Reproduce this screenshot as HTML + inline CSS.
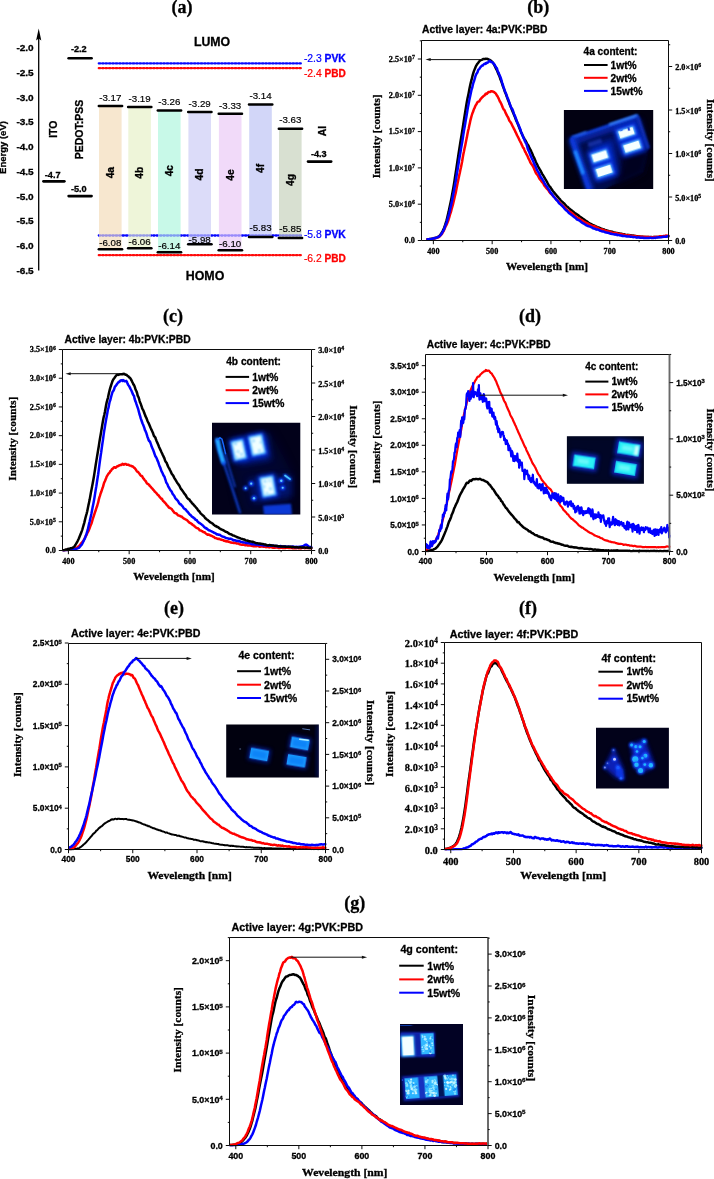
<!DOCTYPE html>
<html><head><meta charset="utf-8"><title>figure</title>
<style>html,body{margin:0;padding:0;background:#fff;}svg{display:block;will-change:transform;}.ss{font-family:"Liberation Sans",sans-serif;font-weight:bold;}.sf{font-family:"Liberation Serif",serif;font-weight:bold;}.ssn{font-family:"Liberation Sans",sans-serif;font-weight:normal;}.sfn{font-family:"Liberation Serif",serif;font-weight:normal;}</style></head><body>
<svg width="714" height="1179" viewBox="0 0 714 1179">
<rect width="714" height="1179" fill="#fff"/>
<defs>
<filter id="bl0_5" x="-50%" y="-50%" width="200%" height="200%"><feGaussianBlur stdDeviation="0.5"/></filter>
<filter id="bl0_8" x="-50%" y="-50%" width="200%" height="200%"><feGaussianBlur stdDeviation="0.8"/></filter>
<filter id="bl1_2" x="-50%" y="-50%" width="200%" height="200%"><feGaussianBlur stdDeviation="1.2"/></filter>
<filter id="bl2" x="-50%" y="-50%" width="200%" height="200%"><feGaussianBlur stdDeviation="2"/></filter>
<filter id="bl3" x="-50%" y="-50%" width="200%" height="200%"><feGaussianBlur stdDeviation="3"/></filter>
<filter id="bl5" x="-50%" y="-50%" width="200%" height="200%"><feGaussianBlur stdDeviation="5"/></filter>
</defs>
<g id="pa">
<text class="sf" x="182" y="13" font-size="18" text-anchor="middle" stroke="#000" stroke-width="0.3">(a)</text>
<line x1="38.7" y1="36" x2="38.7" y2="270.6" stroke="#000" stroke-width="1.3" />
<path d="M38.7 28.4 L36.1 40.4 L38.7 38.6 L41.3 40.4 Z" fill="#000"/>
<text class="ss" x="33.7" y="51.3" font-size="9.7" text-anchor="end" stroke="#000" stroke-width="0.3" textLength="17.3" lengthAdjust="spacingAndGlyphs">-2.0</text>
<text class="ss" x="33.7" y="76" font-size="9.7" text-anchor="end" stroke="#000" stroke-width="0.3" textLength="17.3" lengthAdjust="spacingAndGlyphs">-2.5</text>
<text class="ss" x="33.7" y="100.7" font-size="9.7" text-anchor="end" stroke="#000" stroke-width="0.3" textLength="17.3" lengthAdjust="spacingAndGlyphs">-3.0</text>
<text class="ss" x="33.7" y="125.4" font-size="9.7" text-anchor="end" stroke="#000" stroke-width="0.3" textLength="17.3" lengthAdjust="spacingAndGlyphs">-3.5</text>
<text class="ss" x="33.7" y="150.1" font-size="9.7" text-anchor="end" stroke="#000" stroke-width="0.3" textLength="17.3" lengthAdjust="spacingAndGlyphs">-4.0</text>
<text class="ss" x="33.7" y="174.8" font-size="9.7" text-anchor="end" stroke="#000" stroke-width="0.3" textLength="17.3" lengthAdjust="spacingAndGlyphs">-4.5</text>
<text class="ss" x="33.7" y="199.5" font-size="9.7" text-anchor="end" stroke="#000" stroke-width="0.3" textLength="17.3" lengthAdjust="spacingAndGlyphs">-5.0</text>
<text class="ss" x="33.7" y="224.2" font-size="9.7" text-anchor="end" stroke="#000" stroke-width="0.3" textLength="17.3" lengthAdjust="spacingAndGlyphs">-5.5</text>
<text class="ss" x="33.7" y="248.9" font-size="9.7" text-anchor="end" stroke="#000" stroke-width="0.3" textLength="17.3" lengthAdjust="spacingAndGlyphs">-6.0</text>
<text class="ss" x="33.7" y="273.6" font-size="9.7" text-anchor="end" stroke="#000" stroke-width="0.3" textLength="17.3" lengthAdjust="spacingAndGlyphs">-6.5</text>
<text class="ss" x="6.3" y="147.5" font-size="9.5" text-anchor="middle" stroke="#000" stroke-width="0.3" transform="rotate(-90 6.3 147.5)">Energy (eV)</text>
<rect x="99" y="105.97" width="22.6" height="143.32" fill="#f7e7cf" />
<rect x="128.3" y="106.96" width="22.6" height="141.35" fill="#eef5d9" />
<rect x="158" y="110.41" width="22.6" height="141.84" fill="#c8f9e8" />
<rect x="188.4" y="111.88" width="22.6" height="132.48" fill="#dcdcf9" />
<rect x="218.9" y="113.85" width="22.6" height="136.42" fill="#f1daf9" />
<rect x="249.2" y="104.5" width="22.6" height="132.48" fill="#d2d6f8" />
<rect x="279" y="128.63" width="22.6" height="109.33" fill="#d8e0d1" />
<line x1="98.8" y1="63.4" x2="300.8" y2="63.4" stroke="#0808ff" stroke-width="2.3" stroke-dasharray="1.4 2.0" stroke-linecap="round" opacity="1"/>
<line x1="98.8" y1="68.2" x2="300.8" y2="68.2" stroke="#ff0a0a" stroke-width="2.3" stroke-dasharray="1.4 2.0" stroke-linecap="round" opacity="1"/>
<line x1="98.8" y1="235.5" x2="300.8" y2="235.5" stroke="#0808ff" stroke-width="2.3" stroke-dasharray="1.4 2.0" stroke-linecap="round" opacity="1"/>
<rect x="99" y="233.9" width="22.6" height="3.2" fill="#f7e7cf" opacity="0.62"/>
<rect x="128.3" y="233.9" width="22.6" height="3.2" fill="#eef5d9" opacity="0.62"/>
<rect x="158" y="233.9" width="22.6" height="3.2" fill="#c8f9e8" opacity="0.62"/>
<rect x="188.4" y="233.9" width="22.6" height="3.2" fill="#dcdcf9" opacity="0.62"/>
<rect x="218.9" y="233.9" width="22.6" height="3.2" fill="#f1daf9" opacity="0.62"/>
<rect x="249.2" y="233.9" width="22.6" height="3.2" fill="#d2d6f8" opacity="0.62"/>
<rect x="279" y="233.9" width="22.6" height="3.2" fill="#d8e0d1" opacity="0.62"/>
<line x1="98.8" y1="255.2" x2="300.8" y2="255.2" stroke="#ff0a0a" stroke-width="2.3" stroke-dasharray="1.4 2.0" stroke-linecap="round" opacity="1"/>
<line x1="98.8" y1="105.97" x2="122.1" y2="105.97" stroke="#000" stroke-width="2.5" stroke-linecap="round"/>
<text class="ssn" x="110.3" y="100.67" font-size="9.7" text-anchor="middle" stroke="#000" stroke-width="0.18" textLength="22.2" lengthAdjust="spacingAndGlyphs">-3.17</text>
<line x1="98.8" y1="249.29" x2="122.1" y2="249.29" stroke="#000" stroke-width="2.5" stroke-linecap="round"/>
<text class="ssn" x="110.3" y="245.89" font-size="9.7" text-anchor="middle" stroke="#000" stroke-width="0.18" textLength="22.2" lengthAdjust="spacingAndGlyphs">-6.08</text>
<text class="ss" x="114" y="172.7" font-size="10.2" text-anchor="middle" stroke="#000" stroke-width="0.3" transform="rotate(-90 114 172.7)">4a</text>
<line x1="128.1" y1="106.96" x2="151.4" y2="106.96" stroke="#000" stroke-width="2.5" stroke-linecap="round"/>
<text class="ssn" x="139.6" y="101.66" font-size="9.7" text-anchor="middle" stroke="#000" stroke-width="0.18" textLength="22.2" lengthAdjust="spacingAndGlyphs">-3.19</text>
<line x1="128.1" y1="248.3" x2="151.4" y2="248.3" stroke="#000" stroke-width="2.5" stroke-linecap="round"/>
<text class="ssn" x="139.6" y="244.9" font-size="9.7" text-anchor="middle" stroke="#000" stroke-width="0.18" textLength="22.2" lengthAdjust="spacingAndGlyphs">-6.06</text>
<text class="ss" x="143.3" y="172.7" font-size="10.2" text-anchor="middle" stroke="#000" stroke-width="0.3" transform="rotate(-90 143.3 172.7)">4b</text>
<line x1="157.8" y1="110.41" x2="181.1" y2="110.41" stroke="#000" stroke-width="2.5" stroke-linecap="round"/>
<text class="ssn" x="169.3" y="105.11" font-size="9.7" text-anchor="middle" stroke="#000" stroke-width="0.18" textLength="22.2" lengthAdjust="spacingAndGlyphs">-3.26</text>
<line x1="157.8" y1="252.24" x2="181.1" y2="252.24" stroke="#000" stroke-width="2.5" stroke-linecap="round"/>
<text class="ssn" x="169.3" y="248.84" font-size="9.7" text-anchor="middle" stroke="#000" stroke-width="0.18" textLength="22.2" lengthAdjust="spacingAndGlyphs">-6.14</text>
<text class="ss" x="173" y="170.7" font-size="10.2" text-anchor="middle" stroke="#000" stroke-width="0.3" transform="rotate(-90 173 170.7)">4c</text>
<line x1="188.2" y1="111.88" x2="211.5" y2="111.88" stroke="#000" stroke-width="2.5" stroke-linecap="round"/>
<text class="ssn" x="199.7" y="106.58" font-size="9.7" text-anchor="middle" stroke="#000" stroke-width="0.18" textLength="22.2" lengthAdjust="spacingAndGlyphs">-3.29</text>
<line x1="188.2" y1="244.37" x2="211.5" y2="244.37" stroke="#000" stroke-width="2.5" stroke-linecap="round"/>
<text class="ssn" x="199.7" y="242.97" font-size="9.7" text-anchor="middle" stroke="#000" stroke-width="0.18" textLength="22.2" lengthAdjust="spacingAndGlyphs">-5.98</text>
<text class="ss" x="203.4" y="174.5" font-size="10.2" text-anchor="middle" stroke="#000" stroke-width="0.3" transform="rotate(-90 203.4 174.5)">4d</text>
<line x1="218.7" y1="113.85" x2="242" y2="113.85" stroke="#000" stroke-width="2.5" stroke-linecap="round"/>
<text class="ssn" x="230.2" y="108.55" font-size="9.7" text-anchor="middle" stroke="#000" stroke-width="0.18" textLength="22.2" lengthAdjust="spacingAndGlyphs">-3.33</text>
<line x1="218.7" y1="250.27" x2="242" y2="250.27" stroke="#000" stroke-width="2.5" stroke-linecap="round"/>
<text class="ssn" x="230.2" y="246.87" font-size="9.7" text-anchor="middle" stroke="#000" stroke-width="0.18" textLength="22.2" lengthAdjust="spacingAndGlyphs">-6.10</text>
<text class="ss" x="233.9" y="175" font-size="10.2" text-anchor="middle" stroke="#000" stroke-width="0.3" transform="rotate(-90 233.9 175)">4e</text>
<line x1="249" y1="104.5" x2="272.3" y2="104.5" stroke="#000" stroke-width="2.5" stroke-linecap="round"/>
<text class="ssn" x="260.5" y="99.2" font-size="9.7" text-anchor="middle" stroke="#000" stroke-width="0.18" textLength="22.2" lengthAdjust="spacingAndGlyphs">-3.14</text>
<line x1="249" y1="236.98" x2="272.3" y2="236.98" stroke="#000" stroke-width="2.5" stroke-linecap="round"/>
<text class="ssn" x="260.5" y="231.18" font-size="9.7" text-anchor="middle" stroke="#000" stroke-width="0.18" textLength="22.2" lengthAdjust="spacingAndGlyphs">-5.83</text>
<text class="ss" x="264.2" y="168.4" font-size="10.2" text-anchor="middle" stroke="#000" stroke-width="0.3" transform="rotate(-90 264.2 168.4)">4f</text>
<line x1="278.8" y1="128.63" x2="302.1" y2="128.63" stroke="#000" stroke-width="2.5" stroke-linecap="round"/>
<text class="ssn" x="290.3" y="123.33" font-size="9.7" text-anchor="middle" stroke="#000" stroke-width="0.18" textLength="22.2" lengthAdjust="spacingAndGlyphs">-3.63</text>
<line x1="278.8" y1="237.96" x2="302.1" y2="237.96" stroke="#000" stroke-width="2.5" stroke-linecap="round"/>
<text class="ssn" x="290.3" y="232.16" font-size="9.7" text-anchor="middle" stroke="#000" stroke-width="0.18" textLength="22.2" lengthAdjust="spacingAndGlyphs">-5.85</text>
<text class="ss" x="294" y="180" font-size="10.2" text-anchor="middle" stroke="#000" stroke-width="0.3" transform="rotate(-90 294 180)">4g</text>
<line x1="43.4" y1="181.33" x2="64.4" y2="181.33" stroke="#000" stroke-width="2.6" stroke-linecap="round"/>
<text class="ss" x="52.7" y="177.53" font-size="9.1" text-anchor="middle" stroke="#000" stroke-width="0.3" textLength="15.8" lengthAdjust="spacingAndGlyphs">-4.7</text>
<line x1="68.6" y1="58.2" x2="91.6" y2="58.2" stroke="#000" stroke-width="2.6" stroke-linecap="round"/>
<text class="ss" x="78.8" y="51.8" font-size="9.1" text-anchor="middle" stroke="#000" stroke-width="0.3" textLength="15.8" lengthAdjust="spacingAndGlyphs">-2.2</text>
<line x1="68.6" y1="196.1" x2="91.6" y2="196.1" stroke="#000" stroke-width="2.6" stroke-linecap="round"/>
<text class="ss" x="78.8" y="192.3" font-size="9.1" text-anchor="middle" stroke="#000" stroke-width="0.3" textLength="15.8" lengthAdjust="spacingAndGlyphs">-5.0</text>
<line x1="308" y1="161.62" x2="331.2" y2="161.62" stroke="#000" stroke-width="2.6" stroke-linecap="round"/>
<text class="ss" x="318.8" y="157.12" font-size="9.1" text-anchor="middle" stroke="#000" stroke-width="0.3" textLength="15.8" lengthAdjust="spacingAndGlyphs">-4.3</text>
<text class="ss" x="56.8" y="129.2" font-size="10.5" text-anchor="middle" stroke="#000" stroke-width="0.3" transform="rotate(-90 56.8 129.2)">ITO</text>
<text class="ss" x="82.8" y="129.6" font-size="10.5" text-anchor="middle" stroke="#000" stroke-width="0.3" transform="rotate(-90 82.8 129.6)">PEDOT:PSS</text>
<text class="ss" x="325.8" y="131" font-size="10.5" text-anchor="middle" stroke="#000" stroke-width="0.3" transform="rotate(-90 325.8 131)">Al</text>
<text class="ss" x="212" y="46.2" font-size="12.3" text-anchor="middle" stroke="#000" stroke-width="0.3">LUMO</text>
<text class="ss" x="205" y="280" font-size="12.4" text-anchor="middle" stroke="#000" stroke-width="0.3">HOMO</text>
<text class="ssn" x="303.9" y="62.2" font-size="10.2" fill="#0000ff" stroke="#0000ff" stroke-width="0.18" textLength="17.9" lengthAdjust="spacingAndGlyphs">-2.3</text>
<text class="ss" x="324.5" y="62.2" font-size="10.2" fill="#0000ff" stroke="#0000ff" stroke-width="0.3" textLength="21.3" lengthAdjust="spacingAndGlyphs">PVK</text>
<text class="ssn" x="303.9" y="76.5" font-size="10.2" fill="#ff0000" stroke="#ff0000" stroke-width="0.18" textLength="17.9" lengthAdjust="spacingAndGlyphs">-2.4</text>
<text class="ss" x="324.5" y="76.5" font-size="10.2" fill="#ff0000" stroke="#ff0000" stroke-width="0.3" textLength="21.3" lengthAdjust="spacingAndGlyphs">PBD</text>
<text class="ssn" x="303.9" y="237.6" font-size="10.2" fill="#0000ff" stroke="#0000ff" stroke-width="0.18" textLength="17.9" lengthAdjust="spacingAndGlyphs">-5.8</text>
<text class="ss" x="324.5" y="237.6" font-size="10.2" fill="#0000ff" stroke="#0000ff" stroke-width="0.3" textLength="21.3" lengthAdjust="spacingAndGlyphs">PVK</text>
<text class="ssn" x="303.9" y="261.6" font-size="10.2" fill="#ff0000" stroke="#ff0000" stroke-width="0.18" textLength="17.9" lengthAdjust="spacingAndGlyphs">-6.2</text>
<text class="ss" x="324.5" y="261.6" font-size="10.2" fill="#ff0000" stroke="#ff0000" stroke-width="0.3" textLength="21.3" lengthAdjust="spacingAndGlyphs">PBD</text>
</g>
<g id="pb">
<clipPath id="clb"><rect x="421.5" y="38.5" width="248.2" height="203"/></clipPath>
<g clip-path="url(#clb)">
<path d="M427.5 239.19 L428.08 239.25 L428.67 239.25 L429.26 239.19 L429.85 239.09 L430.43 239.08 L431.02 238.87 L431.61 238.82 L432.2 238.71 L432.79 238.58 L433.37 238.43 L433.96 238.43 L434.55 238.25 L435.14 238.03 L435.73 237.8 L436.31 237.67 L436.9 237.44 L437.49 237.17 L438.08 236.8 L438.66 236.39 L439.25 235.97 L439.84 235.31 L440.43 234.61 L441.02 233.84 L441.6 232.94 L442.19 232 L442.78 230.87 L443.37 229.63 L443.95 228.19 L444.54 226.6 L445.13 224.96 L445.72 223.11 L446.31 221.11 L446.89 218.95 L447.48 216.61 L448.07 214.15 L448.66 211.66 L449.24 208.88 L449.83 205.99 L450.42 203.23 L451.01 200.45 L451.6 197.54 L452.18 194.34 L452.77 190.89 L453.36 187.63 L453.95 184.23 L454.54 180.45 L455.12 176.5 L455.71 172.75 L456.3 168.84 L456.89 164.9 L457.47 161.06 L458.06 157.22 L458.65 153.29 L459.24 149.42 L459.83 145.61 L460.41 141.93 L461 138.36 L461.59 134.85 L462.18 131.25 L462.76 127.66 L463.35 123.73 L463.94 119.97 L464.53 116.3 L465.12 112.54 L465.7 108.91 L466.29 105.27 L466.88 101.77 L467.47 98.61 L468.05 96.01 L468.64 93.14 L469.23 90.04 L469.82 87.03 L470.41 84.2 L470.99 81.79 L471.58 79.68 L472.17 77.2 L472.76 74.85 L473.35 72.91 L473.93 71.12 L474.52 69.62 L475.11 68.18 L475.7 66.79 L476.28 65.58 L476.87 64.58 L477.46 63.75 L478.05 63.02 L478.64 62.2 L479.22 61.49 L479.81 60.78 L480.4 60.28 L480.99 60.07 L481.57 59.88 L482.16 59.61 L482.75 59.24 L483.34 59.08 L483.93 59.02 L484.51 58.93 L485.1 58.91 L485.69 58.8 L486.28 58.88 L486.87 58.8 L487.45 58.95 L488.04 59.21 L488.63 59.59 L489.22 59.66 L489.8 59.84 L490.39 60.37 L490.98 60.72 L491.57 61.2 L492.16 61.92 L492.74 62.42 L493.33 63.18 L493.92 64.34 L494.51 65.4 L495.09 66.7 L495.68 67.89 L496.27 69.2 L496.86 70.19 L497.45 71.53 L498.03 73.06 L498.62 74.52 L499.21 75.67 L499.8 77.19 L500.38 79.18 L500.97 80.48 L501.56 81.96 L502.15 83.88 L502.74 85.73 L503.32 87.18 L503.91 88.88 L504.5 90.64 L505.09 92.27 L505.68 93.6 L506.26 95.13 L506.85 96.85 L507.44 98.39 L508.03 100.02 L508.61 101.38 L509.2 102.91 L509.79 104.48 L510.38 105.91 L510.97 107.23 L511.55 108.67 L512.14 110.17 L512.73 111.68 L513.32 113.12 L513.9 114.49 L514.49 115.93 L515.08 117.37 L515.67 119.03 L516.26 120.66 L516.84 121.65 L517.43 122.86 L518.02 124.53 L518.61 126.15 L519.19 127.62 L519.78 129.03 L520.37 130.47 L520.96 131.96 L521.55 133.29 L522.13 134.55 L522.72 135.67 L523.31 136.84 L523.9 137.93 L524.49 139.04 L525.07 140.01 L525.66 141 L526.25 141.97 L526.84 143.38 L527.42 144.34 L528.01 145.03 L528.6 145.92 L529.19 147.29 L529.78 148.5 L530.36 149.63 L530.95 150.72 L531.54 152.08 L532.13 153.36 L532.71 154.82 L533.3 156.25 L533.89 157.43 L534.48 158.65 L535.07 159.93 L535.65 161.4 L536.24 162.75 L536.83 163.87 L537.42 165.06 L538 166.24 L538.59 167.36 L539.18 168.35 L539.77 169.41 L540.36 170.34 L540.94 171.43 L541.53 172.63 L542.12 173.85 L542.71 174.68 L543.3 175.6 L543.88 176.55 L544.47 177.57 L545.06 178.67 L545.65 179.63 L546.23 180.64 L546.82 181.51 L547.41 182.78 L548 183.92 L548.59 184.84 L549.17 185.7 L549.76 186.5 L550.35 187.14 L550.94 188.19 L551.52 189.14 L552.11 189.8 L552.7 190.73 L553.29 191.57 L553.88 192.15 L554.46 192.89 L555.05 193.68 L555.64 194.29 L556.23 195.02 L556.82 195.65 L557.4 196.37 L557.99 197.02 L558.58 197.84 L559.17 198.56 L559.75 198.97 L560.34 199.77 L560.93 200.48 L561.52 201.11 L562.11 201.67 L562.69 202.2 L563.28 202.76 L563.87 203.26 L564.46 203.77 L565.04 204.52 L565.63 205.25 L566.22 205.81 L566.81 206.34 L567.4 206.88 L567.98 207.25 L568.57 207.82 L569.16 208.36 L569.75 208.88 L570.33 209.49 L570.92 209.93 L571.51 210.26 L572.1 210.73 L572.69 211.24 L573.27 211.62 L573.86 212.26 L574.45 212.71 L575.04 213.18 L575.63 213.7 L576.21 213.82 L576.8 214.28 L577.39 214.78 L577.98 215.01 L578.56 215.46 L579.15 215.97 L579.74 216.46 L580.33 216.89 L580.92 217.37 L581.5 217.68 L582.09 218.13 L582.68 218.52 L583.27 218.87 L583.85 219.35 L584.44 219.81 L585.03 220.27 L585.62 220.73 L586.21 221.02 L586.79 221.34 L587.38 221.78 L587.97 222.22 L588.56 222.72 L589.14 223.14 L589.73 223.45 L590.32 223.61 L590.91 223.92 L591.5 224.19 L592.08 224.61 L592.67 224.91 L593.26 225.13 L593.85 225.35 L594.44 225.67 L595.02 225.95 L595.61 226.23 L596.2 226.52 L596.79 226.84 L597.37 227.04 L597.96 227.28 L598.55 227.5 L599.14 227.73 L599.73 228.02 L600.31 228.24 L600.9 228.46 L601.49 228.62 L602.08 228.84 L602.66 229.13 L603.25 229.23 L603.84 229.38 L604.43 229.78 L605.02 230.02 L605.6 230.18 L606.19 230.28 L606.78 230.35 L607.37 230.61 L607.96 230.84 L608.54 230.96 L609.13 231.13 L609.72 231.22 L610.31 231.36 L610.89 231.51 L611.48 231.69 L612.07 231.67 L612.66 231.89 L613.25 232.11 L613.83 232.31 L614.42 232.52 L615.01 232.66 L615.6 232.76 L616.18 232.89 L616.77 232.98 L617.36 233.12 L617.95 233.17 L618.54 233.27 L619.12 233.45 L619.71 233.5 L620.3 233.64 L620.89 233.7 L621.47 233.81 L622.06 233.94 L622.65 234.15 L623.24 234.2 L623.83 234.22 L624.41 234.45 L625 234.68 L625.59 234.81 L626.18 234.92 L626.77 234.96 L627.35 234.89 L627.94 234.87 L628.53 235.01 L629.12 235.09 L629.7 235.18 L630.29 235.26 L630.88 235.35 L631.47 235.43 L632.06 235.5 L632.64 235.63 L633.23 235.61 L633.82 235.67 L634.41 235.8 L634.99 235.87 L635.58 236.02 L636.17 236.1 L636.76 236.14 L637.35 236.23 L637.93 236.33 L638.52 236.42 L639.11 236.45 L639.7 236.48 L640.28 236.65 L640.87 236.64 L641.46 236.67 L642.05 236.68 L642.64 236.79 L643.22 236.98 L643.81 236.89 L644.4 236.89 L644.99 236.96 L645.58 237 L646.16 236.98 L646.75 237.01 L647.34 236.95 L647.93 236.96 L648.51 236.96 L649.1 237.13 L649.69 237.2 L650.28 237.07 L650.87 237.03 L651.45 237.1 L652.04 237.18 L652.63 237.12 L653.22 237.04 L653.8 237.06 L654.39 237.06 L654.98 237.06 L655.57 237.09 L656.16 237.08 L656.74 237.04 L657.33 236.89 L657.92 236.92 L658.51 236.91 L659.09 236.92 L659.68 236.87 L660.27 236.9 L660.86 236.77 L661.45 236.69 L662.03 236.61 L662.62 236.71 L663.21 236.64 L663.8 236.53 L664.39 236.46 L664.97 236.48 L665.56 236.47 L666.15 236.51 L666.74 236.39 L667.32 236.22 L667.91 236.14 L668.5 236.16" fill="none" stroke="#000" stroke-width="2.5" stroke-linejoin="round" stroke-linecap="round"/>
<path d="M427.5 239.25 L428.08 239.31 L428.67 239.42 L429.26 239.53 L429.85 239.37 L430.43 239.24 L431.02 239.15 L431.61 239.08 L432.2 238.95 L432.79 238.9 L433.37 238.81 L433.96 238.47 L434.55 238.22 L435.14 238.04 L435.73 238.05 L436.31 237.99 L436.9 237.87 L437.49 237.67 L438.08 237.23 L438.66 237.09 L439.25 236.79 L439.84 236.17 L440.43 235.43 L441.02 234.93 L441.6 234.38 L442.19 233.47 L442.78 232.32 L443.37 231.34 L443.95 230.31 L444.54 229.02 L445.13 227.53 L445.72 226.15 L446.31 225.22 L446.89 223.88 L447.48 222.47 L448.07 221.1 L448.66 219.27 L449.24 217.31 L449.83 215.14 L450.42 213.39 L451.01 211.58 L451.6 209.18 L452.18 207.14 L452.77 205.15 L453.36 202.68 L453.95 200.22 L454.54 197.75 L455.12 195.2 L455.71 192.89 L456.3 189.84 L456.89 186.67 L457.47 183.8 L458.06 180.91 L458.65 177.98 L459.24 175.18 L459.83 172.71 L460.41 169.7 L461 167.16 L461.59 164.22 L462.18 161.22 L462.76 157.54 L463.35 154.36 L463.94 151.6 L464.53 148.45 L465.12 145.9 L465.7 142.94 L466.29 140.04 L466.88 137.35 L467.47 134.01 L468.05 130.9 L468.64 128.7 L469.23 125.85 L469.82 123.19 L470.41 120.34 L470.99 118.15 L471.58 116.01 L472.17 113.99 L472.76 112.43 L473.35 111.01 L473.93 109.06 L474.52 108.09 L475.11 106.57 L475.7 105.29 L476.28 104.57 L476.87 103.34 L477.46 102.14 L478.05 101.7 L478.64 101.57 L479.22 101.41 L479.81 100.28 L480.4 99.31 L480.99 98.69 L481.57 98.12 L482.16 97.29 L482.75 96.9 L483.34 96.27 L483.93 95.66 L484.51 95.56 L485.1 94.83 L485.69 93.65 L486.28 93.61 L486.87 93.92 L487.45 93.28 L488.04 92.46 L488.63 91.92 L489.22 91.95 L489.8 92.03 L490.39 91.78 L490.98 91.2 L491.57 91.15 L492.16 91.42 L492.74 91.54 L493.33 91.68 L493.92 91.84 L494.51 92.55 L495.09 92.88 L495.68 93.37 L496.27 94.39 L496.86 95.49 L497.45 96.06 L498.03 97.36 L498.62 98.41 L499.21 99.92 L499.8 101.36 L500.38 102.09 L500.97 103.21 L501.56 104.61 L502.15 105.95 L502.74 107.52 L503.32 108.83 L503.91 109.64 L504.5 110.19 L505.09 111.59 L505.68 113.12 L506.26 114.12 L506.85 115.41 L507.44 116.46 L508.03 117.28 L508.61 118.79 L509.2 120.33 L509.79 121.23 L510.38 121.97 L510.97 122.88 L511.55 123.88 L512.14 125.38 L512.73 126.32 L513.32 127.49 L513.9 128.76 L514.49 129.73 L515.08 131.04 L515.67 132.46 L516.26 133.42 L516.84 134.97 L517.43 136 L518.02 137.04 L518.61 138.22 L519.19 139.64 L519.78 140.76 L520.37 141.81 L520.96 142.85 L521.55 144.37 L522.13 145.51 L522.72 146.81 L523.31 147.95 L523.9 148.37 L524.49 150.09 L525.07 151.66 L525.66 152.39 L526.25 153.86 L526.84 154.82 L527.42 155.87 L528.01 157.38 L528.6 158.63 L529.19 159.76 L529.78 160.94 L530.36 162.42 L530.95 163.49 L531.54 164.2 L532.13 164.96 L532.71 166 L533.3 166.96 L533.89 168.35 L534.48 169.81 L535.07 171.06 L535.65 172.48 L536.24 173.41 L536.83 174.25 L537.42 174.89 L538 175.77 L538.59 177 L539.18 178.13 L539.77 179.18 L540.36 179.79 L540.94 180.46 L541.53 181.36 L542.12 182.29 L542.71 182.63 L543.3 183.55 L543.88 184.78 L544.47 185.78 L545.06 186.54 L545.65 187.21 L546.23 187.96 L546.82 188.6 L547.41 189.21 L548 189.81 L548.59 190.65 L549.17 191.63 L549.76 192.38 L550.35 193.22 L550.94 193.81 L551.52 194.09 L552.11 194.9 L552.7 195.33 L553.29 196.23 L553.88 196.8 L554.46 197.24 L555.05 197.96 L555.64 198.58 L556.23 199.27 L556.82 199.92 L557.4 200.48 L557.99 200.98 L558.58 201.24 L559.17 201.93 L559.75 202.57 L560.34 203.79 L560.93 204.11 L561.52 204.48 L562.11 205.14 L562.69 205.56 L563.28 206.21 L563.87 206.97 L564.46 207.29 L565.04 207.49 L565.63 208.38 L566.22 209.1 L566.81 209.7 L567.4 210.21 L567.98 210.85 L568.57 211.01 L569.16 210.96 L569.75 211.53 L570.33 212.11 L570.92 212.43 L571.51 212.77 L572.1 213.31 L572.69 213.61 L573.27 214.21 L573.86 214.78 L574.45 215.25 L575.04 216.24 L575.63 216.55 L576.21 216.79 L576.8 217.34 L577.39 217.73 L577.98 218.18 L578.56 218.42 L579.15 218.33 L579.74 218.93 L580.33 219.47 L580.92 219.73 L581.5 220.21 L582.09 220.49 L582.68 220.78 L583.27 221.11 L583.85 221.76 L584.44 221.92 L585.03 222.3 L585.62 222.74 L586.21 222.85 L586.79 223.21 L587.38 223.26 L587.97 223.58 L588.56 223.93 L589.14 224.25 L589.73 224.57 L590.32 225.14 L590.91 225.27 L591.5 225.49 L592.08 225.65 L592.67 225.87 L593.26 226.11 L593.85 226.41 L594.44 226.28 L595.02 226.44 L595.61 227.05 L596.2 227.38 L596.79 227.5 L597.37 227.53 L597.96 227.78 L598.55 228.43 L599.14 228.74 L599.73 229 L600.31 229.28 L600.9 229.47 L601.49 229.48 L602.08 229.68 L602.66 229.58 L603.25 229.84 L603.84 230.35 L604.43 230.62 L605.02 230.64 L605.6 230.61 L606.19 231.06 L606.78 231.36 L607.37 231.33 L607.96 231.41 L608.54 231.59 L609.13 231.52 L609.72 231.75 L610.31 232 L610.89 232.28 L611.48 232.37 L612.07 232.59 L612.66 232.91 L613.25 232.88 L613.83 233.1 L614.42 233.15 L615.01 233.23 L615.6 233.02 L616.18 233.19 L616.77 233.32 L617.36 233.51 L617.95 233.98 L618.54 234.23 L619.12 234.07 L619.71 233.96 L620.3 234.09 L620.89 234.13 L621.47 234.29 L622.06 234.64 L622.65 234.53 L623.24 234.43 L623.83 234.86 L624.41 235.17 L625 235.1 L625.59 235.09 L626.18 235.13 L626.77 235.3 L627.35 235.4 L627.94 235.6 L628.53 235.34 L629.12 235.2 L629.7 235.39 L630.29 235.76 L630.88 235.85 L631.47 236.12 L632.06 235.93 L632.64 235.94 L633.23 236.08 L633.82 236.02 L634.41 236.02 L634.99 236.03 L635.58 236.16 L636.17 236.33 L636.76 236.63 L637.35 236.65 L637.93 236.56 L638.52 236.5 L639.11 236.5 L639.7 236.48 L640.28 236.73 L640.87 236.78 L641.46 236.76 L642.05 236.81 L642.64 236.83 L643.22 236.89 L643.81 236.79 L644.4 236.9 L644.99 236.87 L645.58 236.91 L646.16 236.91 L646.75 237.14 L647.34 237.08 L647.93 237.1 L648.51 237.03 L649.1 236.98 L649.69 237.23 L650.28 237.33 L650.87 237.24 L651.45 237.15 L652.04 237.27 L652.63 237.15 L653.22 237.22 L653.8 237.2 L654.39 237.05 L654.98 236.93 L655.57 236.99 L656.16 236.96 L656.74 236.87 L657.33 236.94 L657.92 237.12 L658.51 236.87 L659.09 236.62 L659.68 236.38 L660.27 236.22 L660.86 236.32 L661.45 236.44 L662.03 236.49 L662.62 236.3 L663.21 236.08 L663.8 236.01 L664.39 236.14 L664.97 235.99 L665.56 235.74 L666.15 235.57 L666.74 235.69 L667.32 235.79 L667.91 235.77 L668.5 235.67" fill="none" stroke="#ff0000" stroke-width="2.5" stroke-linejoin="round" stroke-linecap="round"/>
<path d="M427.5 239.3 L428.08 239.32 L428.67 239.35 L429.26 239.09 L429.85 239.22 L430.43 239.12 L431.02 238.92 L431.61 238.96 L432.2 238.9 L432.79 238.71 L433.37 238.37 L433.96 238.08 L434.55 238.17 L435.14 238.18 L435.73 237.92 L436.31 237.79 L436.9 237.52 L437.49 237.2 L438.08 237.08 L438.66 236.78 L439.25 236.43 L439.84 235.87 L440.43 235.24 L441.02 234.62 L441.6 233.73 L442.19 232.73 L442.78 231.73 L443.37 230.67 L443.95 229.42 L444.54 227.92 L445.13 226.32 L445.72 224.66 L446.31 223.52 L446.89 221.6 L447.48 219.48 L448.07 217.32 L448.66 215.32 L449.24 213.26 L449.83 210.72 L450.42 208.06 L451.01 205.47 L451.6 202.75 L452.18 200.15 L452.77 196.7 L453.36 193.64 L453.95 190.89 L454.54 187.66 L455.12 184.47 L455.71 181.22 L456.3 177.48 L456.89 173.7 L457.47 170.32 L458.06 166.79 L458.65 163.08 L459.24 159.31 L459.83 155.7 L460.41 152.51 L461 148.88 L461.59 145.48 L462.18 142.34 L462.76 138.48 L463.35 134.62 L463.94 130.91 L464.53 127.43 L465.12 124.33 L465.7 120.53 L466.29 117.17 L466.88 113.88 L467.47 110.02 L468.05 106.63 L468.64 103.69 L469.23 100.42 L469.82 97.65 L470.41 94.94 L470.99 92.31 L471.58 89.5 L472.17 87.9 L472.76 85.19 L473.35 82.84 L473.93 81.46 L474.52 79.33 L475.11 77.33 L475.7 75.45 L476.28 73.99 L476.87 73.32 L477.46 72.34 L478.05 70.48 L478.64 69.43 L479.22 69.01 L479.81 68.12 L480.4 67.28 L480.99 66.61 L481.57 65.99 L482.16 65.46 L482.75 65.59 L483.34 64.65 L483.93 64.23 L484.51 63.97 L485.1 63.62 L485.69 63.93 L486.28 62.94 L486.87 62.7 L487.45 62.87 L488.04 62.35 L488.63 61.89 L489.22 60.89 L489.8 60.82 L490.39 61.41 L490.98 61.92 L491.57 62.07 L492.16 62.21 L492.74 62.68 L493.33 63.32 L493.92 63.91 L494.51 64.63 L495.09 65.65 L495.68 66.81 L496.27 67.66 L496.86 68.18 L497.45 70.34 L498.03 71.8 L498.62 72.76 L499.21 74.26 L499.8 75.64 L500.38 77.04 L500.97 78.63 L501.56 80.68 L502.15 82.83 L502.74 84.39 L503.32 86.63 L503.91 88.14 L504.5 89.81 L505.09 91.49 L505.68 92.73 L506.26 94.28 L506.85 95.83 L507.44 97.81 L508.03 98.94 L508.61 100.38 L509.2 102.2 L509.79 104.08 L510.38 105.49 L510.97 107.28 L511.55 108.48 L512.14 108.6 L512.73 110.11 L513.32 111.75 L513.9 113.65 L514.49 114.97 L515.08 116.31 L515.67 117.84 L516.26 119.5 L516.84 121.26 L517.43 123.02 L518.02 123.9 L518.61 125.1 L519.19 126.53 L519.78 128.14 L520.37 129.38 L520.96 131.36 L521.55 133.06 L522.13 134.14 L522.72 135.88 L523.31 137.59 L523.9 138.72 L524.49 139.97 L525.07 141.54 L525.66 142.7 L526.25 143.51 L526.84 145.51 L527.42 147.42 L528.01 149.56 L528.6 150.67 L529.19 151.91 L529.78 153.64 L530.36 155.18 L530.95 156.35 L531.54 157.83 L532.13 159.19 L532.71 160.11 L533.3 161.34 L533.89 162.97 L534.48 164.47 L535.07 165.55 L535.65 166.66 L536.24 168.08 L536.83 169.72 L537.42 170.73 L538 171.61 L538.59 172.59 L539.18 173.6 L539.77 174.86 L540.36 176.35 L540.94 177.48 L541.53 178.35 L542.12 178.82 L542.71 179.93 L543.3 180.91 L543.88 181.84 L544.47 183.13 L545.06 184.3 L545.65 185.1 L546.23 185.77 L546.82 186.33 L547.41 187.37 L548 188.59 L548.59 189.21 L549.17 190.05 L549.76 191.2 L550.35 192.08 L550.94 193.05 L551.52 193.56 L552.11 194.42 L552.7 195.44 L553.29 196.1 L553.88 196.69 L554.46 197.5 L555.05 198.12 L555.64 198.86 L556.23 199.82 L556.82 200.36 L557.4 200.67 L557.99 201.66 L558.58 202.6 L559.17 203.23 L559.75 203.91 L560.34 204.18 L560.93 204.73 L561.52 205.25 L562.11 205.85 L562.69 206.5 L563.28 207.04 L563.87 207.77 L564.46 208.57 L565.04 209.21 L565.63 209.81 L566.22 210.44 L566.81 210.53 L567.4 211.38 L567.98 211.92 L568.57 212.63 L569.16 213.26 L569.75 213.49 L570.33 213.93 L570.92 214.39 L571.51 214.83 L572.1 215.44 L572.69 215.81 L573.27 216.25 L573.86 216.85 L574.45 217.3 L575.04 217.63 L575.63 218.11 L576.21 218.7 L576.8 219.41 L577.39 219.53 L577.98 219.78 L578.56 220.22 L579.15 220.48 L579.74 220.67 L580.33 221.24 L580.92 221.7 L581.5 222.28 L582.09 222.71 L582.68 223.03 L583.27 223.39 L583.85 223.66 L584.44 224.05 L585.03 224.38 L585.62 224.88 L586.21 225.25 L586.79 225.44 L587.38 225.73 L587.97 225.97 L588.56 226.22 L589.14 226.38 L589.73 226.4 L590.32 226.58 L590.91 226.97 L591.5 227.32 L592.08 227.49 L592.67 228.12 L593.26 228.46 L593.85 228.39 L594.44 228.55 L595.02 228.8 L595.61 229.09 L596.2 229.52 L596.79 229.63 L597.37 229.48 L597.96 229.68 L598.55 230.02 L599.14 230.07 L599.73 230.55 L600.31 230.78 L600.9 230.89 L601.49 231.22 L602.08 231.36 L602.66 231.47 L603.25 231.6 L603.84 231.62 L604.43 231.85 L605.02 232.25 L605.6 232.39 L606.19 232.42 L606.78 232.6 L607.37 232.81 L607.96 232.81 L608.54 232.91 L609.13 233.17 L609.72 233.29 L610.31 233.68 L610.89 233.83 L611.48 233.74 L612.07 233.96 L612.66 234.13 L613.25 234.19 L613.83 234.29 L614.42 234.38 L615.01 234.64 L615.6 234.55 L616.18 234.29 L616.77 234.74 L617.36 235.14 L617.95 235.01 L618.54 234.99 L619.12 235.05 L619.71 235.31 L620.3 235.48 L620.89 235.38 L621.47 235.59 L622.06 235.92 L622.65 235.84 L623.24 235.89 L623.83 235.92 L624.41 236.08 L625 236.11 L625.59 236.2 L626.18 236.28 L626.77 236.42 L627.35 236.55 L627.94 236.55 L628.53 236.54 L629.12 236.55 L629.7 236.53 L630.29 236.68 L630.88 236.7 L631.47 236.66 L632.06 236.88 L632.64 237.01 L633.23 237.16 L633.82 237.12 L634.41 237.02 L634.99 237.12 L635.58 237.2 L636.17 237.52 L636.76 237.64 L637.35 237.57 L637.93 237.59 L638.52 237.29 L639.11 237.45 L639.7 237.79 L640.28 237.82 L640.87 237.83 L641.46 237.79 L642.05 237.81 L642.64 237.73 L643.22 237.73 L643.81 237.97 L644.4 238.1 L644.99 237.99 L645.58 237.98 L646.16 237.93 L646.75 238 L647.34 237.97 L647.93 238.02 L648.51 238.11 L649.1 238.12 L649.69 237.93 L650.28 237.73 L650.87 237.88 L651.45 238.01 L652.04 237.96 L652.63 238.02 L653.22 238.12 L653.8 237.91 L654.39 237.74 L654.98 237.9 L655.57 237.96 L656.16 237.71 L656.74 237.48 L657.33 237.47 L657.92 237.39 L658.51 237.21 L659.09 237.21 L659.68 237.31 L660.27 237.37 L660.86 237.3 L661.45 237.2 L662.03 237.09 L662.62 237.08 L663.21 236.83 L663.8 236.83 L664.39 236.81 L664.97 236.71 L665.56 236.87 L666.15 236.73 L666.74 236.51 L667.32 236.29 L667.91 236.23 L668.5 236.05" fill="none" stroke="#0000ff" stroke-width="2.5" stroke-linejoin="round" stroke-linecap="round"/>
</g>
<path d="M421.5 40.5 L421.5 240.5 L668.5 240.5 L668.5 40.5 Z" fill="none" stroke="#0c0c0c" stroke-width="1"/>
<line x1="433.37" y1="240.5" x2="433.37" y2="244.2" stroke="#0c0c0c" stroke-width="1" />
<text class="sf" x="433.37" y="254.4" font-size="8.2" text-anchor="middle" stroke="#000" stroke-width="0.3">400</text>
<line x1="492.16" y1="240.5" x2="492.16" y2="244.2" stroke="#0c0c0c" stroke-width="1" />
<text class="sf" x="492.16" y="254.4" font-size="8.2" text-anchor="middle" stroke="#000" stroke-width="0.3">500</text>
<line x1="550.94" y1="240.5" x2="550.94" y2="244.2" stroke="#0c0c0c" stroke-width="1" />
<text class="sf" x="550.94" y="254.4" font-size="8.2" text-anchor="middle" stroke="#000" stroke-width="0.3">600</text>
<line x1="609.72" y1="240.5" x2="609.72" y2="244.2" stroke="#0c0c0c" stroke-width="1" />
<text class="sf" x="609.72" y="254.4" font-size="8.2" text-anchor="middle" stroke="#000" stroke-width="0.3">700</text>
<line x1="668.5" y1="240.5" x2="668.5" y2="244.2" stroke="#0c0c0c" stroke-width="1" />
<text class="sf" x="668.5" y="254.4" font-size="8.2" text-anchor="middle" stroke="#000" stroke-width="0.3">800</text>
<line x1="462.76" y1="240.5" x2="462.76" y2="242.2" stroke="#0c0c0c" stroke-width="1" />
<line x1="521.55" y1="240.5" x2="521.55" y2="242.2" stroke="#0c0c0c" stroke-width="1" />
<line x1="580.33" y1="240.5" x2="580.33" y2="242.2" stroke="#0c0c0c" stroke-width="1" />
<line x1="639.11" y1="240.5" x2="639.11" y2="242.2" stroke="#0c0c0c" stroke-width="1" />
<line x1="421.5" y1="240.5" x2="417.8" y2="240.5" stroke="#0c0c0c" stroke-width="1" />
<text class="sf" x="414.8" y="243.21" font-size="8.2" text-anchor="end" stroke="#000" stroke-width="0.3">0.0</text>
<line x1="421.5" y1="204.2" x2="417.8" y2="204.2" stroke="#0c0c0c" stroke-width="1" />
<text class="sf" x="414.8" y="206.91" font-size="8.2" text-anchor="end" stroke="#000" stroke-width="0.3">5.0×10<tspan dy="-0.44em" font-size="70%">6</tspan></text>
<line x1="421.5" y1="167.9" x2="417.8" y2="167.9" stroke="#0c0c0c" stroke-width="1" />
<text class="sf" x="414.8" y="170.61" font-size="8.2" text-anchor="end" stroke="#000" stroke-width="0.3">1.0×10<tspan dy="-0.44em" font-size="70%">7</tspan></text>
<line x1="421.5" y1="131.6" x2="417.8" y2="131.6" stroke="#0c0c0c" stroke-width="1" />
<text class="sf" x="414.8" y="134.31" font-size="8.2" text-anchor="end" stroke="#000" stroke-width="0.3">1.5×10<tspan dy="-0.44em" font-size="70%">7</tspan></text>
<line x1="421.5" y1="95.3" x2="417.8" y2="95.3" stroke="#0c0c0c" stroke-width="1" />
<text class="sf" x="414.8" y="98.01" font-size="8.2" text-anchor="end" stroke="#000" stroke-width="0.3">2.0×10<tspan dy="-0.44em" font-size="70%">7</tspan></text>
<line x1="421.5" y1="59" x2="417.8" y2="59" stroke="#0c0c0c" stroke-width="1" />
<text class="sf" x="414.8" y="61.71" font-size="8.2" text-anchor="end" stroke="#000" stroke-width="0.3">2.5×10<tspan dy="-0.44em" font-size="70%">7</tspan></text>
<line x1="421.5" y1="222.35" x2="419.8" y2="222.35" stroke="#0c0c0c" stroke-width="1" />
<line x1="421.5" y1="186.05" x2="419.8" y2="186.05" stroke="#0c0c0c" stroke-width="1" />
<line x1="421.5" y1="149.75" x2="419.8" y2="149.75" stroke="#0c0c0c" stroke-width="1" />
<line x1="421.5" y1="113.45" x2="419.8" y2="113.45" stroke="#0c0c0c" stroke-width="1" />
<line x1="421.5" y1="77.15" x2="419.8" y2="77.15" stroke="#0c0c0c" stroke-width="1" />
<line x1="421.5" y1="40.85" x2="419.8" y2="40.85" stroke="#0c0c0c" stroke-width="1" />
<line x1="668.5" y1="240.5" x2="672.2" y2="240.5" stroke="#0c0c0c" stroke-width="1" />
<text class="sf" x="675.2" y="244.01" font-size="8.2" stroke="#000" stroke-width="0.3">0.0</text>
<line x1="668.5" y1="197" x2="672.2" y2="197" stroke="#0c0c0c" stroke-width="1" />
<text class="sf" x="675.2" y="200.51" font-size="8.2" stroke="#000" stroke-width="0.3">5.0×10<tspan dy="-0.44em" font-size="70%">5</tspan></text>
<line x1="668.5" y1="153.5" x2="672.2" y2="153.5" stroke="#0c0c0c" stroke-width="1" />
<text class="sf" x="675.2" y="157.01" font-size="8.2" stroke="#000" stroke-width="0.3">1.0×10<tspan dy="-0.44em" font-size="70%">6</tspan></text>
<line x1="668.5" y1="110" x2="672.2" y2="110" stroke="#0c0c0c" stroke-width="1" />
<text class="sf" x="675.2" y="113.51" font-size="8.2" stroke="#000" stroke-width="0.3">1.5×10<tspan dy="-0.44em" font-size="70%">6</tspan></text>
<line x1="668.5" y1="66.5" x2="672.2" y2="66.5" stroke="#0c0c0c" stroke-width="1" />
<text class="sf" x="675.2" y="70.01" font-size="8.2" stroke="#000" stroke-width="0.3">2.0×10<tspan dy="-0.44em" font-size="70%">6</tspan></text>
<line x1="668.5" y1="218.75" x2="670.2" y2="218.75" stroke="#0c0c0c" stroke-width="1" />
<line x1="668.5" y1="175.25" x2="670.2" y2="175.25" stroke="#0c0c0c" stroke-width="1" />
<line x1="668.5" y1="131.75" x2="670.2" y2="131.75" stroke="#0c0c0c" stroke-width="1" />
<line x1="668.5" y1="88.25" x2="670.2" y2="88.25" stroke="#0c0c0c" stroke-width="1" />
<line x1="668.5" y1="44.75" x2="670.2" y2="44.75" stroke="#0c0c0c" stroke-width="1" />
<text class="ss" x="422" y="33.3" font-size="10.3" stroke="#000" stroke-width="0.3" textLength="125.4" lengthAdjust="spacingAndGlyphs">Active layer: 4a:PVK:PBD</text>
<text class="sf" x="547" y="270" font-size="11" text-anchor="middle" stroke="#000" stroke-width="0.3" textLength="82" lengthAdjust="spacingAndGlyphs">Wevelength [nm]</text>
<text class="sf" x="380" y="136.4" font-size="11.4" text-anchor="middle" stroke="#000" stroke-width="0.3" transform="rotate(-90 380 136.4)" textLength="83.9" lengthAdjust="spacingAndGlyphs">Intensity [counts]</text>
<text class="sf" x="706.6" y="140.4" font-size="11.4" text-anchor="middle" stroke="#000" stroke-width="0.3" transform="rotate(90 706.6 140.4)" textLength="82.8" lengthAdjust="spacingAndGlyphs">Intensity [counts]</text>
<line x1="484" y1="59.6" x2="429.14" y2="59.6" stroke="#111" stroke-width="1" />
<path d="M425.5 59.6 L430.7 58.1 L430.7 61.1 Z" fill="#111"/>
<text class="ss" x="583.5" y="55.4" font-size="10.3" stroke="#000" stroke-width="0.3" textLength="54" lengthAdjust="spacingAndGlyphs">4a content:</text>
<line x1="584" y1="65" x2="607.6" y2="65" stroke="#000" stroke-width="2" />
<text class="ss" x="610.6" y="68.71" font-size="10.3" stroke="#000" stroke-width="0.3" textLength="26.1" lengthAdjust="spacingAndGlyphs">1wt%</text>
<line x1="584" y1="77.8" x2="607.6" y2="77.8" stroke="#f00" stroke-width="2" />
<text class="ss" x="610.6" y="81.51" font-size="10.3" stroke="#000" stroke-width="0.3" textLength="26.1" lengthAdjust="spacingAndGlyphs">2wt%</text>
<line x1="584" y1="90.9" x2="607.6" y2="90.9" stroke="#00f" stroke-width="2" />
<text class="ss" x="610.6" y="94.61" font-size="10.3" stroke="#000" stroke-width="0.3" textLength="32" lengthAdjust="spacingAndGlyphs">15wt%</text>
<text class="sf" x="538.3" y="13.4" font-size="18" text-anchor="middle" stroke="#000" stroke-width="0.3">(b)</text>
</g>
<g id="pc">
<clipPath id="clc"><rect x="62.5" y="347.5" width="250.2" height="204"/></clipPath>
<g clip-path="url(#clc)">
<path d="M62.32 550.26 L62.93 550.3 L63.53 550.39 L64.14 550.48 L64.75 550.32 L65.36 550.19 L65.96 550.11 L66.57 550.05 L67.18 549.93 L67.79 549.89 L68.4 549.82 L69 549.5 L69.61 549.28 L70.22 549.14 L70.83 549.2 L71.43 549.2 L72.04 549.15 L72.65 549.04 L73.26 548.71 L73.87 548.71 L74.47 548.59 L75.08 548.21 L75.69 547.8 L76.3 547.69 L76.9 547.61 L77.51 547.23 L78.12 546.66 L78.73 546.26 L79.34 545.81 L79.94 545.08 L80.55 544.13 L81.16 543.28 L81.77 542.85 L82.37 542.05 L82.98 541.2 L83.59 540.44 L84.2 539.28 L84.8 538.04 L85.41 536.65 L86.02 535.73 L86.63 534.78 L87.24 533.28 L87.84 532.13 L88.45 531.05 L89.06 529.48 L89.67 527.94 L90.27 526.39 L90.88 524.79 L91.49 523.45 L92.1 521.39 L92.71 519.23 L93.31 517.37 L93.92 515.5 L94.53 513.57 L95.14 511.76 L95.74 510.25 L96.35 508.17 L96.96 506.55 L97.57 504.51 L98.18 502.44 L98.78 499.68 L99.39 497.45 L100 495.68 L100.61 493.53 L101.21 492.03 L101.82 490.12 L102.43 488.27 L103.04 486.65 L103.65 484.39 L104.25 482.39 L104.86 481.37 L105.47 479.71 L106.08 478.27 L106.68 476.65 L107.29 475.68 L107.9 474.68 L108.51 473.7 L109.12 473.06 L109.72 472.43 L110.33 471.16 L110.94 470.8 L111.55 469.82 L112.15 469.02 L112.76 468.77 L113.37 467.98 L113.98 467.22 L114.59 467.22 L115.19 467.53 L115.8 467.8 L116.41 467.06 L117.02 466.46 L117.62 466.21 L118.23 465.99 L118.84 465.49 L119.45 465.42 L120.06 465.11 L120.66 464.81 L121.27 465.03 L121.88 464.62 L122.49 463.77 L123.09 464.08 L123.7 464.76 L124.31 464.48 L124.92 464.04 L125.52 463.88 L126.13 464.3 L126.74 464.75 L127.35 464.84 L127.96 464.58 L128.56 464.79 L129.17 465.26 L129.78 465.49 L130.39 465.63 L130.99 465.7 L131.6 466.2 L132.21 466.25 L132.82 466.41 L133.43 467.07 L134.03 467.79 L134.64 467.98 L135.25 468.89 L135.86 469.52 L136.46 470.57 L137.07 471.52 L137.68 471.69 L138.29 472.22 L138.9 473.03 L139.5 473.77 L140.11 474.76 L140.72 475.55 L141.33 475.87 L141.93 475.98 L142.54 476.98 L143.15 478.13 L143.76 478.78 L144.37 479.73 L144.97 480.43 L145.58 480.9 L146.19 482.04 L146.8 483.18 L147.4 483.67 L148.01 483.99 L148.62 484.46 L149.23 485 L149.84 486.02 L150.44 486.49 L151.05 487.16 L151.66 487.93 L152.27 488.39 L152.87 489.19 L153.48 490.1 L154.09 490.54 L154.7 491.56 L155.31 492.08 L155.91 492.59 L156.52 493.25 L157.13 494.14 L157.74 494.73 L158.34 495.27 L158.95 495.81 L159.56 496.82 L160.17 497.46 L160.78 498.27 L161.38 498.91 L161.99 498.85 L162.6 500.07 L163.21 501.14 L163.81 501.38 L164.42 502.34 L165.03 502.8 L165.64 503.33 L166.24 504.32 L166.85 505.04 L167.46 505.64 L168.07 506.29 L168.68 507.23 L169.28 507.76 L169.89 507.93 L170.5 508.16 L171.11 508.65 L171.71 509.07 L172.32 509.92 L172.93 510.84 L173.54 511.55 L174.15 512.44 L174.75 512.85 L175.36 513.17 L175.97 513.3 L176.58 513.67 L177.18 514.39 L177.79 515 L178.4 515.53 L179.01 515.62 L179.62 515.77 L180.22 516.16 L180.83 516.57 L181.44 516.42 L182.05 516.85 L182.65 517.62 L183.26 518.18 L183.87 518.51 L184.48 518.79 L185.09 519.17 L185.69 519.48 L186.3 519.77 L186.91 520.1 L187.52 520.67 L188.12 521.42 L188.73 521.94 L189.34 522.57 L189.95 522.95 L190.56 523.04 L191.16 523.66 L191.77 523.91 L192.38 524.65 L192.99 525.07 L193.59 525.37 L194.2 525.95 L194.81 526.43 L195.42 526.99 L196.03 527.49 L196.63 527.9 L197.24 528.24 L197.85 528.34 L198.46 528.84 L199.06 529.28 L199.67 530.28 L200.28 530.38 L200.89 530.53 L201.5 530.95 L202.1 531.13 L202.71 531.56 L203.32 532.08 L203.93 532.19 L204.53 532.18 L205.14 532.87 L205.75 533.41 L206.36 533.83 L206.96 534.18 L207.57 534.66 L208.18 534.67 L208.79 534.48 L209.4 534.9 L210 535.33 L210.61 535.5 L211.22 535.68 L211.83 536.05 L212.43 536.18 L213.04 536.59 L213.65 536.97 L214.26 537.24 L214.87 538.01 L215.47 538.11 L216.08 538.15 L216.69 538.49 L217.3 538.67 L217.9 538.92 L218.51 538.96 L219.12 538.69 L219.73 539.1 L220.34 539.45 L220.94 539.54 L221.55 539.85 L222.16 539.96 L222.77 540.09 L223.37 540.25 L223.98 540.75 L224.59 540.75 L225.2 540.98 L225.81 541.27 L226.41 541.23 L227.02 541.45 L227.63 541.36 L228.24 541.55 L228.84 541.76 L229.45 541.96 L230.06 542.15 L230.67 542.59 L231.28 542.6 L231.88 542.69 L232.49 542.73 L233.1 542.82 L233.71 542.93 L234.31 543.11 L234.92 542.85 L235.53 542.89 L236.14 543.36 L236.75 543.56 L237.35 543.57 L237.96 543.48 L238.57 543.6 L239.18 544.13 L239.78 544.32 L240.39 544.47 L241 544.63 L241.61 544.71 L242.22 544.61 L242.82 544.7 L243.43 544.5 L244.04 544.65 L244.65 545.06 L245.25 545.22 L245.86 545.14 L246.47 545.02 L247.08 545.37 L247.69 545.58 L248.29 545.45 L248.9 545.44 L249.51 545.53 L250.12 545.39 L250.72 545.53 L251.33 545.69 L251.94 545.89 L252.55 545.9 L253.15 546.04 L253.76 546.28 L254.37 546.16 L254.98 546.3 L255.59 546.27 L256.19 546.27 L256.8 545.97 L257.41 546.07 L258.02 546.12 L258.62 546.23 L259.23 546.63 L259.84 546.82 L260.45 546.58 L261.06 546.4 L261.66 546.46 L262.27 546.44 L262.88 546.54 L263.49 546.83 L264.09 546.67 L264.7 546.51 L265.31 546.9 L265.92 547.17 L266.53 547.05 L267.13 547.01 L267.74 547.01 L268.35 547.15 L268.96 547.22 L269.56 547.4 L270.17 547.1 L270.78 546.93 L271.39 547.11 L272 547.46 L272.6 547.53 L273.21 547.79 L273.82 547.56 L274.43 547.54 L275.03 547.66 L275.64 547.57 L276.25 547.55 L276.86 547.52 L277.47 547.62 L278.07 547.77 L278.68 548.04 L279.29 548.03 L279.9 547.9 L280.5 547.8 L281.11 547.76 L281.72 547.7 L282.33 547.93 L282.94 547.94 L283.54 547.88 L284.15 547.9 L284.76 547.88 L285.37 547.91 L285.97 547.78 L286.58 547.87 L287.19 547.81 L287.8 547.84 L288.41 547.82 L289.01 548.05 L289.62 547.98 L290.23 548 L290.84 547.92 L291.44 547.87 L292.05 548.14 L292.66 548.26 L293.27 548.18 L293.87 548.1 L294.48 548.24 L295.09 548.14 L295.7 548.23 L296.31 548.24 L296.91 548.11 L297.52 548.03 L298.13 548.13 L298.74 548.14 L299.34 548.09 L299.95 548.2 L300.56 548.43 L301.17 548.22 L301.78 548.02 L302.38 547.84 L302.99 547.73 L303.6 547.9 L304.21 548.08 L304.81 548.19 L305.42 548.07 L306.03 547.92 L306.64 547.92 L307.25 548.13 L307.85 548.06 L308.46 547.89 L309.07 547.8 L309.68 548 L310.28 548.17 L310.89 548.21 L311.5 548.16" fill="none" stroke="#ff0000" stroke-width="2.5" stroke-linejoin="round" stroke-linecap="round"/>
<path d="M62.32 550.49 L62.93 550.5 L63.53 550.5 L64.14 550.27 L64.75 550.44 L65.36 550.35 L65.96 550.16 L66.57 550.25 L67.18 550.24 L67.79 550.09 L68.4 549.78 L69 549.54 L69.61 549.74 L70.22 549.86 L70.83 549.69 L71.43 549.68 L72.04 549.55 L72.65 549.38 L73.26 549.47 L73.87 549.4 L74.47 549.35 L75.08 549.15 L75.69 548.96 L76.3 548.9 L76.9 548.65 L77.51 548.37 L78.12 548.15 L78.73 547.9 L79.34 547.47 L79.94 546.77 L80.55 545.97 L81.16 545.07 L81.77 544.7 L82.37 543.54 L82.98 542.21 L83.59 540.87 L84.2 539.74 L84.8 538.59 L85.41 536.95 L86.02 535.17 L86.63 533.39 L87.24 531.37 L87.84 529.39 L88.45 526.42 L89.06 523.79 L89.67 521.48 L90.27 518.69 L90.88 515.98 L91.49 513.26 L92.1 510.04 L92.71 506.77 L93.31 503.9 L93.92 500.73 L94.53 497.2 L95.14 493.42 L95.74 489.62 L96.35 486.14 L96.96 481.99 L97.57 477.99 L98.18 474.22 L98.78 469.55 L99.39 464.84 L100 460.29 L100.61 456 L101.21 452.17 L101.82 447.51 L102.43 443.38 L103.04 439.38 L103.65 434.71 L104.25 430.64 L104.86 427.13 L105.47 423.18 L106.08 419.8 L106.68 416.45 L107.29 413.16 L107.9 409.64 L108.51 407.65 L109.12 404.35 L109.72 401.54 L110.33 400.02 L110.94 397.57 L111.55 395.28 L112.15 393.13 L112.76 391.49 L113.37 390.8 L113.98 389.73 L114.59 387.55 L115.19 386.36 L115.8 385.98 L116.41 384.96 L117.02 383.99 L117.62 383.2 L118.23 382.45 L118.84 381.8 L119.45 382 L120.06 380.89 L120.66 380.47 L121.27 380.34 L121.88 380.17 L122.49 380.92 L123.09 380.12 L123.7 380.35 L124.31 381.17 L124.92 381.2 L125.52 381.34 L126.13 380.86 L126.74 381.56 L127.35 383.08 L127.96 384.48 L128.56 385.38 L129.17 386.21 L129.78 387.36 L130.39 388.64 L130.99 389.76 L131.6 390.96 L132.21 392.46 L132.82 394.09 L133.43 395.29 L134.03 396.09 L134.64 398.9 L135.25 400.86 L135.86 402.19 L136.46 404.15 L137.07 405.9 L137.68 407.62 L138.29 409.48 L138.9 411.84 L139.5 414.27 L140.11 415.95 L140.72 418.42 L141.33 420 L141.93 421.76 L142.54 423.53 L143.15 424.77 L143.76 426.37 L144.37 427.97 L144.97 430.1 L145.58 431.2 L146.19 432.68 L146.8 434.63 L147.4 436.67 L148.01 438.15 L148.62 440.08 L149.23 441.31 L149.84 441.24 L150.44 442.83 L151.05 444.56 L151.66 446.6 L152.27 447.93 L152.87 449.27 L153.48 450.82 L154.09 452.52 L154.7 454.32 L155.31 456.12 L155.91 456.88 L156.52 458.03 L157.13 459.44 L157.74 461.08 L158.34 462.31 L158.95 464.41 L159.56 466.2 L160.17 467.26 L160.78 469.11 L161.38 470.92 L161.99 472.03 L162.6 473.27 L163.21 474.85 L163.81 475.93 L164.42 476.58 L165.03 478.58 L165.64 480.44 L166.24 482.53 L166.85 483.41 L167.46 484.4 L168.07 485.94 L168.68 487.24 L169.28 488.1 L169.89 489.3 L170.5 490.35 L171.11 490.88 L171.71 491.78 L172.32 493.12 L172.93 494.31 L173.54 495.02 L174.15 495.78 L174.75 496.9 L175.36 498.27 L175.97 498.94 L176.58 499.44 L177.18 500.08 L177.79 500.76 L178.4 501.72 L179.01 502.95 L179.62 503.77 L180.22 504.29 L180.83 504.35 L181.44 505.15 L182.05 505.81 L182.65 506.42 L183.26 507.46 L183.87 508.38 L184.48 508.88 L185.09 509.24 L185.69 509.49 L186.3 510.32 L186.91 511.37 L187.52 511.71 L188.12 512.32 L188.73 513.31 L189.34 513.97 L189.95 514.74 L190.56 514.98 L191.16 515.64 L191.77 516.47 L192.38 516.89 L192.99 517.25 L193.59 517.86 L194.2 518.27 L194.81 518.81 L195.42 519.64 L196.03 519.98 L196.63 520.06 L197.24 520.97 L197.85 521.82 L198.46 522.32 L199.06 522.9 L199.67 523.01 L200.28 523.44 L200.89 523.85 L201.5 524.36 L202.1 524.92 L202.71 525.35 L203.32 526.01 L203.93 526.73 L204.53 527.26 L205.14 527.74 L205.75 528.25 L206.36 528.11 L206.96 528.85 L207.57 529.24 L208.18 529.82 L208.79 530.3 L209.4 530.31 L210 530.57 L210.61 530.86 L211.22 531.13 L211.83 531.59 L212.43 531.78 L213.04 532.06 L213.65 532.54 L214.26 532.83 L214.87 532.99 L215.47 533.31 L216.08 533.78 L216.69 534.4 L217.3 534.32 L217.9 534.38 L218.51 534.69 L219.12 534.78 L219.73 534.8 L220.34 535.26 L220.94 535.61 L221.55 536.1 L222.16 536.41 L222.77 536.6 L223.37 536.84 L223.98 536.95 L224.59 537.24 L225.2 537.45 L225.81 537.87 L226.41 538.13 L227.02 538.19 L227.63 538.38 L228.24 538.53 L228.84 538.67 L229.45 538.73 L230.06 538.62 L230.67 538.7 L231.28 539.05 L231.88 539.36 L232.49 539.44 L233.1 540.09 L233.71 540.39 L234.31 540.18 L234.92 540.26 L235.53 540.44 L236.14 540.68 L236.75 541.1 L237.35 541.12 L237.96 540.82 L238.57 540.97 L239.18 541.28 L239.78 541.23 L240.39 541.72 L241 541.9 L241.61 541.94 L242.22 542.25 L242.82 542.33 L243.43 542.37 L244.04 542.45 L244.65 542.38 L245.25 542.58 L245.86 542.99 L246.47 543.08 L247.08 543.04 L247.69 543.18 L248.29 543.36 L248.9 543.28 L249.51 543.33 L250.12 543.58 L250.72 543.65 L251.33 544.07 L251.94 544.18 L252.55 544 L253.15 544.2 L253.76 544.35 L254.37 544.35 L254.98 544.4 L255.59 544.44 L256.19 544.7 L256.8 544.51 L257.41 544.11 L258.02 544.61 L258.62 545.04 L259.23 544.81 L259.84 544.71 L260.45 544.71 L261.06 544.97 L261.66 545.12 L262.27 544.93 L262.88 545.12 L263.49 545.48 L264.09 545.31 L264.7 545.31 L265.31 545.28 L265.92 545.43 L266.53 545.4 L267.13 545.46 L267.74 545.51 L268.35 545.65 L268.96 545.76 L269.56 545.72 L270.17 545.65 L270.78 545.64 L271.39 545.56 L272 545.71 L272.6 545.7 L273.21 545.61 L273.82 545.86 L274.43 545.99 L275.03 546.15 L275.64 546.06 L276.25 545.88 L276.86 545.97 L277.47 546.03 L278.07 546.41 L278.68 546.54 L279.29 546.4 L279.9 546.4 L280.5 545.96 L281.11 546.13 L281.72 546.56 L282.33 546.57 L282.94 546.56 L283.54 546.48 L284.15 546.48 L284.76 546.35 L285.37 546.33 L285.97 546.64 L286.58 546.81 L287.19 546.66 L287.8 546.64 L288.41 546.57 L289.01 546.68 L289.62 546.65 L290.23 546.73 L290.84 546.87 L291.44 546.9 L292.05 546.67 L292.66 546.45 L293.27 546.68 L293.87 546.9 L294.48 546.87 L295.09 547 L295.7 547.18 L296.31 546.96 L296.91 546.8 L297.52 547.07 L298.13 547.22 L298.74 546.95 L299.34 546.71 L299.95 546.75 L300.56 546.67 L301.17 546.43 L301.78 546.37 L302.38 546.37 L302.99 546.23 L303.6 545.85 L304.21 545.4 L304.81 544.97 L305.42 544.83 L306.03 544.56 L306.64 544.86 L307.25 545.29 L307.85 545.71 L308.46 546.46 L309.07 546.79 L309.68 546.93 L310.28 547 L310.89 547.2 L311.5 547.16" fill="none" stroke="#0000ff" stroke-width="2.5" stroke-linejoin="round" stroke-linecap="round"/>
<path d="M62.32 550.28 L62.93 550.34 L63.53 550.29 L64.14 550.13 L64.75 549.9 L65.36 549.86 L65.96 549.48 L66.57 549.4 L67.18 549.23 L67.79 549.02 L68.4 548.83 L69 548.93 L69.61 548.72 L70.22 548.46 L70.83 548.22 L71.43 548.21 L72.04 548.02 L72.65 547.78 L73.26 547.35 L73.87 546.87 L74.47 546.37 L75.08 545.41 L75.69 544.46 L76.3 543.46 L76.9 542.35 L77.51 541.29 L78.12 540.03 L78.73 538.74 L79.34 537.25 L79.94 535.72 L80.55 534.34 L81.16 532.76 L81.77 531.08 L82.37 529.27 L82.98 527.26 L83.59 525.14 L84.2 523.09 L84.8 520.6 L85.41 518.01 L86.02 515.78 L86.63 513.6 L87.24 511.21 L87.84 508.36 L88.45 505.12 L89.06 502.41 L89.67 499.6 L90.27 496.23 L90.88 492.71 L91.49 489.74 L92.1 486.5 L92.71 483.18 L93.31 479.92 L93.92 476.5 L94.53 472.66 L95.14 468.75 L95.74 464.74 L96.35 460.83 L96.96 457.09 L97.57 453.44 L98.18 449.72 L98.78 446.17 L99.39 442.07 L100 438.44 L100.61 435.02 L101.21 431.35 L101.82 427.83 L102.43 424.07 L103.04 420.4 L103.65 417.2 L104.25 414.97 L104.86 412.09 L105.47 408.66 L106.08 405.34 L106.68 402.29 L107.29 399.96 L107.9 398.02 L108.51 395.11 L109.12 392.19 L109.72 389.85 L110.33 387.6 L110.94 385.76 L111.55 383.9 L112.15 382.05 L112.76 380.51 L113.37 379.35 L113.98 378.47 L114.59 377.76 L115.19 376.78 L115.8 376.02 L116.41 375.19 L117.02 374.77 L117.62 374.85 L118.23 374.92 L118.84 374.75 L119.45 374.31 L120.06 374.26 L120.66 374.35 L121.27 374.32 L121.88 374.35 L122.49 374.11 L123.09 374.16 L123.7 373.83 L124.31 373.95 L124.92 374.27 L125.52 374.84 L126.13 374.79 L126.74 374.96 L127.35 375.75 L127.96 376.11 L128.56 376.59 L129.17 377.43 L129.78 377.65 L130.39 378.26 L130.99 379.52 L131.6 380.48 L132.21 381.86 L132.82 383.01 L133.43 384.39 L134.03 385.13 L134.64 386.6 L135.25 388.47 L135.86 390.19 L136.46 391.25 L137.07 392.99 L137.68 395.61 L138.29 396.78 L138.9 398.23 L139.5 400.48 L140.11 402.56 L140.72 403.81 L141.33 405.56 L141.93 407.44 L142.54 409.05 L143.15 410.08 L143.76 411.5 L144.37 413.31 L144.97 414.77 L145.58 416.45 L146.19 417.57 L146.8 419.09 L147.4 420.67 L148.01 422.01 L148.62 423.13 L149.23 424.49 L149.84 425.99 L150.44 427.51 L151.05 428.86 L151.66 430.09 L152.27 431.44 L152.87 432.77 L153.48 434.54 L154.09 436.24 L154.7 436.65 L155.31 437.48 L155.91 439.24 L156.52 440.9 L157.13 442.29 L157.74 443.63 L158.34 445.05 L158.95 446.68 L159.56 448.04 L160.17 449.4 L160.78 450.55 L161.38 451.91 L161.99 453.21 L162.6 454.61 L163.21 455.81 L163.81 457.11 L164.42 458.37 L165.03 460.51 L165.64 461.72 L166.24 462.35 L166.85 463.3 L167.46 465.09 L168.07 466.49 L168.68 467.59 L169.28 468.52 L169.89 469.87 L170.5 470.99 L171.11 472.37 L171.71 473.67 L172.32 474.43 L172.93 475.27 L173.54 476.24 L174.15 477.62 L174.75 478.81 L175.36 479.62 L175.97 480.62 L176.58 481.67 L177.18 482.65 L177.79 483.44 L178.4 484.39 L179.01 485.12 L179.62 486.18 L180.22 487.47 L180.83 488.8 L181.44 489.39 L182.05 490.14 L182.65 490.93 L183.26 491.83 L183.87 492.9 L184.48 493.67 L185.09 494.51 L185.69 495.08 L186.3 496.43 L186.91 497.5 L187.52 498.18 L188.12 498.73 L188.73 499.21 L189.34 499.42 L189.95 500.49 L190.56 501.41 L191.16 501.8 L191.77 502.76 L192.38 503.6 L192.99 503.95 L193.59 504.67 L194.2 505.52 L194.81 506.03 L195.42 506.8 L196.03 507.39 L196.63 508.18 L197.24 508.86 L197.85 509.9 L198.46 510.73 L199.06 510.97 L199.67 512.01 L200.28 512.85 L200.89 513.57 L201.5 514.13 L202.1 514.65 L202.71 515.23 L203.32 515.68 L203.93 516.15 L204.53 517.11 L205.14 518.01 L205.75 518.59 L206.36 519.09 L206.96 519.62 L207.57 519.82 L208.18 520.41 L208.79 520.94 L209.4 521.45 L210 522.14 L210.61 522.51 L211.22 522.66 L211.83 523.1 L212.43 523.6 L213.04 523.89 L213.65 524.69 L214.26 525.12 L214.87 525.61 L215.47 526.18 L216.08 525.98 L216.69 526.45 L217.3 526.99 L217.9 526.99 L218.51 527.45 L219.12 527.98 L219.73 528.49 L220.34 528.87 L220.94 529.32 L221.55 529.43 L222.16 529.81 L222.77 530.06 L223.37 530.24 L223.98 530.67 L224.59 531.05 L225.2 531.44 L225.81 531.85 L226.41 531.93 L227.02 532.09 L227.63 532.49 L228.24 532.93 L228.84 533.52 L229.45 533.95 L230.06 534.2 L230.67 534.17 L231.28 534.47 L231.88 534.69 L232.49 535.21 L233.1 535.51 L233.71 535.63 L234.31 535.77 L234.92 536.11 L235.53 536.39 L236.14 536.65 L236.75 536.95 L237.35 537.32 L237.96 537.46 L238.57 537.67 L239.18 537.87 L239.78 538.07 L240.39 538.42 L241 538.63 L241.61 538.82 L242.22 538.92 L242.82 539.14 L243.43 539.51 L244.04 539.51 L244.65 539.59 L245.25 540.21 L245.86 540.48 L246.47 540.62 L247.08 540.63 L247.69 540.59 L248.29 540.94 L248.9 541.23 L249.51 541.3 L250.12 541.5 L250.72 541.51 L251.33 541.65 L251.94 541.78 L252.55 541.99 L253.15 541.82 L253.76 542.11 L254.37 542.41 L254.98 542.68 L255.59 542.95 L256.19 543.1 L256.8 543.16 L257.41 543.29 L258.02 543.35 L258.62 543.5 L259.23 543.46 L259.84 543.54 L260.45 543.77 L261.06 543.76 L261.66 543.91 L262.27 543.91 L262.88 544.01 L263.49 544.14 L264.09 544.44 L264.7 544.44 L265.31 544.38 L265.92 544.73 L266.53 545.08 L267.13 545.24 L267.74 545.38 L268.35 545.36 L268.96 545.13 L269.56 544.99 L270.17 545.18 L270.78 545.25 L271.39 545.35 L272 545.43 L272.6 545.52 L273.21 545.57 L273.82 545.63 L274.43 545.79 L275.03 545.65 L275.64 545.68 L276.25 545.85 L276.86 545.89 L277.47 546.09 L278.07 546.17 L278.68 546.14 L279.29 546.22 L279.9 546.33 L280.5 546.42 L281.11 546.4 L281.72 546.38 L282.33 546.62 L282.94 546.52 L283.54 546.51 L284.15 546.46 L284.76 546.62 L285.37 546.93 L285.97 546.71 L286.58 546.65 L287.19 546.75 L287.8 546.8 L288.41 546.75 L289.01 546.79 L289.62 546.65 L290.23 546.68 L290.84 546.69 L291.44 547.05 L292.05 547.22 L292.66 546.98 L293.27 546.93 L293.87 547.11 L294.48 547.32 L295.09 547.23 L295.7 547.12 L296.31 547.2 L296.91 547.25 L297.52 547.31 L298.13 547.42 L298.74 547.46 L299.34 547.45 L299.95 547.22 L300.56 547.35 L301.17 547.42 L301.78 547.51 L302.38 547.49 L302.99 547.65 L303.6 547.49 L304.21 547.44 L304.81 547.39 L305.42 547.68 L306.03 547.67 L306.64 547.58 L307.25 547.56 L307.85 547.72 L308.46 547.84 L309.07 548.06 L309.68 547.97 L310.28 547.77 L310.89 547.72 L311.5 547.86" fill="none" stroke="#000" stroke-width="2.5" stroke-linejoin="round" stroke-linecap="round"/>
</g>
<path d="M62.5 349.5 L62.5 550.5 L311.5 550.5 L311.5 349.5 Z" fill="none" stroke="#0c0c0c" stroke-width="1"/>
<line x1="68.4" y1="550.5" x2="68.4" y2="554.2" stroke="#0c0c0c" stroke-width="1" />
<text class="sf" x="68.4" y="563.6" font-size="8.2" text-anchor="middle" stroke="#000" stroke-width="0.3">400</text>
<line x1="129.17" y1="550.5" x2="129.17" y2="554.2" stroke="#0c0c0c" stroke-width="1" />
<text class="sf" x="129.17" y="563.6" font-size="8.2" text-anchor="middle" stroke="#000" stroke-width="0.3">500</text>
<line x1="189.95" y1="550.5" x2="189.95" y2="554.2" stroke="#0c0c0c" stroke-width="1" />
<text class="sf" x="189.95" y="563.6" font-size="8.2" text-anchor="middle" stroke="#000" stroke-width="0.3">600</text>
<line x1="250.72" y1="550.5" x2="250.72" y2="554.2" stroke="#0c0c0c" stroke-width="1" />
<text class="sf" x="250.72" y="563.6" font-size="8.2" text-anchor="middle" stroke="#000" stroke-width="0.3">700</text>
<line x1="311.5" y1="550.5" x2="311.5" y2="554.2" stroke="#0c0c0c" stroke-width="1" />
<text class="sf" x="311.5" y="563.6" font-size="8.2" text-anchor="middle" stroke="#000" stroke-width="0.3">800</text>
<line x1="98.78" y1="550.5" x2="98.78" y2="552.2" stroke="#0c0c0c" stroke-width="1" />
<line x1="159.56" y1="550.5" x2="159.56" y2="552.2" stroke="#0c0c0c" stroke-width="1" />
<line x1="220.34" y1="550.5" x2="220.34" y2="552.2" stroke="#0c0c0c" stroke-width="1" />
<line x1="281.11" y1="550.5" x2="281.11" y2="552.2" stroke="#0c0c0c" stroke-width="1" />
<line x1="62.5" y1="550.5" x2="58.8" y2="550.5" stroke="#0c0c0c" stroke-width="1" />
<text class="sf" x="55.8" y="553.21" font-size="8.2" text-anchor="end" stroke="#000" stroke-width="0.3">0.0</text>
<line x1="62.5" y1="521.79" x2="58.8" y2="521.79" stroke="#0c0c0c" stroke-width="1" />
<text class="sf" x="55.8" y="524.5" font-size="8.2" text-anchor="end" stroke="#000" stroke-width="0.3">5.0×10<tspan dy="-0.44em" font-size="70%">5</tspan></text>
<line x1="62.5" y1="493.08" x2="58.8" y2="493.08" stroke="#0c0c0c" stroke-width="1" />
<text class="sf" x="55.8" y="495.79" font-size="8.2" text-anchor="end" stroke="#000" stroke-width="0.3">1.0×10<tspan dy="-0.44em" font-size="70%">6</tspan></text>
<line x1="62.5" y1="464.37" x2="58.8" y2="464.37" stroke="#0c0c0c" stroke-width="1" />
<text class="sf" x="55.8" y="467.08" font-size="8.2" text-anchor="end" stroke="#000" stroke-width="0.3">1.5×10<tspan dy="-0.44em" font-size="70%">6</tspan></text>
<line x1="62.5" y1="435.66" x2="58.8" y2="435.66" stroke="#0c0c0c" stroke-width="1" />
<text class="sf" x="55.8" y="438.37" font-size="8.2" text-anchor="end" stroke="#000" stroke-width="0.3">2.0×10<tspan dy="-0.44em" font-size="70%">6</tspan></text>
<line x1="62.5" y1="406.95" x2="58.8" y2="406.95" stroke="#0c0c0c" stroke-width="1" />
<text class="sf" x="55.8" y="409.66" font-size="8.2" text-anchor="end" stroke="#000" stroke-width="0.3">2.5×10<tspan dy="-0.44em" font-size="70%">6</tspan></text>
<line x1="62.5" y1="378.24" x2="58.8" y2="378.24" stroke="#0c0c0c" stroke-width="1" />
<text class="sf" x="55.8" y="380.95" font-size="8.2" text-anchor="end" stroke="#000" stroke-width="0.3">3.0×10<tspan dy="-0.44em" font-size="70%">6</tspan></text>
<line x1="62.5" y1="349.53" x2="58.8" y2="349.53" stroke="#0c0c0c" stroke-width="1" />
<text class="sf" x="55.8" y="352.24" font-size="8.2" text-anchor="end" stroke="#000" stroke-width="0.3">3.5×10<tspan dy="-0.44em" font-size="70%">6</tspan></text>
<line x1="62.5" y1="536.14" x2="60.8" y2="536.14" stroke="#0c0c0c" stroke-width="1" />
<line x1="62.5" y1="507.44" x2="60.8" y2="507.44" stroke="#0c0c0c" stroke-width="1" />
<line x1="62.5" y1="478.73" x2="60.8" y2="478.73" stroke="#0c0c0c" stroke-width="1" />
<line x1="62.5" y1="450.01" x2="60.8" y2="450.01" stroke="#0c0c0c" stroke-width="1" />
<line x1="62.5" y1="421.31" x2="60.8" y2="421.31" stroke="#0c0c0c" stroke-width="1" />
<line x1="62.5" y1="392.6" x2="60.8" y2="392.6" stroke="#0c0c0c" stroke-width="1" />
<line x1="62.5" y1="363.88" x2="60.8" y2="363.88" stroke="#0c0c0c" stroke-width="1" />
<line x1="311.5" y1="550.5" x2="315.2" y2="550.5" stroke="#0c0c0c" stroke-width="1" />
<text class="sf" x="318.2" y="554.01" font-size="8.2" stroke="#000" stroke-width="0.3">0.0</text>
<line x1="311.5" y1="517" x2="315.2" y2="517" stroke="#0c0c0c" stroke-width="1" />
<text class="sf" x="318.2" y="520.51" font-size="8.2" stroke="#000" stroke-width="0.3">5.0×10<tspan dy="-0.44em" font-size="70%">3</tspan></text>
<line x1="311.5" y1="483.5" x2="315.2" y2="483.5" stroke="#0c0c0c" stroke-width="1" />
<text class="sf" x="318.2" y="487.01" font-size="8.2" stroke="#000" stroke-width="0.3">1.0×10<tspan dy="-0.44em" font-size="70%">4</tspan></text>
<line x1="311.5" y1="450" x2="315.2" y2="450" stroke="#0c0c0c" stroke-width="1" />
<text class="sf" x="318.2" y="453.51" font-size="8.2" stroke="#000" stroke-width="0.3">1.5×10<tspan dy="-0.44em" font-size="70%">4</tspan></text>
<line x1="311.5" y1="416.5" x2="315.2" y2="416.5" stroke="#0c0c0c" stroke-width="1" />
<text class="sf" x="318.2" y="420.01" font-size="8.2" stroke="#000" stroke-width="0.3">2.0×10<tspan dy="-0.44em" font-size="70%">4</tspan></text>
<line x1="311.5" y1="383" x2="315.2" y2="383" stroke="#0c0c0c" stroke-width="1" />
<text class="sf" x="318.2" y="386.51" font-size="8.2" stroke="#000" stroke-width="0.3">2.5×10<tspan dy="-0.44em" font-size="70%">4</tspan></text>
<line x1="311.5" y1="349.5" x2="315.2" y2="349.5" stroke="#0c0c0c" stroke-width="1" />
<text class="sf" x="318.2" y="353.01" font-size="8.2" stroke="#000" stroke-width="0.3">3.0×10<tspan dy="-0.44em" font-size="70%">4</tspan></text>
<line x1="311.5" y1="533.75" x2="313.2" y2="533.75" stroke="#0c0c0c" stroke-width="1" />
<line x1="311.5" y1="500.25" x2="313.2" y2="500.25" stroke="#0c0c0c" stroke-width="1" />
<line x1="311.5" y1="466.75" x2="313.2" y2="466.75" stroke="#0c0c0c" stroke-width="1" />
<line x1="311.5" y1="433.25" x2="313.2" y2="433.25" stroke="#0c0c0c" stroke-width="1" />
<line x1="311.5" y1="399.75" x2="313.2" y2="399.75" stroke="#0c0c0c" stroke-width="1" />
<line x1="311.5" y1="366.25" x2="313.2" y2="366.25" stroke="#0c0c0c" stroke-width="1" />
<text class="ss" x="64.6" y="342.9" font-size="10.35" stroke="#000" stroke-width="0.3" textLength="126" lengthAdjust="spacingAndGlyphs">Active layer: 4b:PVK:PBD</text>
<text class="sf" x="174" y="580.2" font-size="11" text-anchor="middle" stroke="#000" stroke-width="0.3" textLength="81.5" lengthAdjust="spacingAndGlyphs">Wevelength [nm]</text>
<text class="sf" x="16.4" y="438.7" font-size="11.4" text-anchor="middle" stroke="#000" stroke-width="0.3" transform="rotate(-90 16.4 438.7)" textLength="83.9" lengthAdjust="spacingAndGlyphs">Intensity [counts]</text>
<text class="sf" x="350" y="446.7" font-size="11.4" text-anchor="middle" stroke="#000" stroke-width="0.3" transform="rotate(90 350 446.7)" textLength="82.8" lengthAdjust="spacingAndGlyphs">Intensity [counts]</text>
<line x1="120.6" y1="373.7" x2="69.14" y2="373.7" stroke="#111" stroke-width="1" />
<path d="M65.5 373.7 L70.7 372.2 L70.7 375.2 Z" fill="#111"/>
<text class="ss" x="226.2" y="364.6" font-size="10.3" stroke="#000" stroke-width="0.3" textLength="54.8" lengthAdjust="spacingAndGlyphs">4b content:</text>
<line x1="225.6" y1="376.9" x2="249.1" y2="376.9" stroke="#000" stroke-width="2" />
<text class="ss" x="252.3" y="380.61" font-size="10.3" stroke="#000" stroke-width="0.3" textLength="26.1" lengthAdjust="spacingAndGlyphs">1wt%</text>
<line x1="225.6" y1="390.2" x2="249.1" y2="390.2" stroke="#f00" stroke-width="2" />
<text class="ss" x="252.3" y="393.91" font-size="10.3" stroke="#000" stroke-width="0.3" textLength="26.1" lengthAdjust="spacingAndGlyphs">2wt%</text>
<line x1="225.6" y1="403.1" x2="249.1" y2="403.1" stroke="#00f" stroke-width="2" />
<text class="ss" x="252.3" y="406.81" font-size="10.3" stroke="#000" stroke-width="0.3" textLength="32" lengthAdjust="spacingAndGlyphs">15wt%</text>
<text class="sf" x="173" y="321.6" font-size="18" text-anchor="middle" stroke="#000" stroke-width="0.3">(c)</text>
</g>
<g id="pd">
<clipPath id="cld"><rect x="425.5" y="352.5" width="245.2" height="200"/></clipPath>
<g clip-path="url(#cld)">
<path d="M425.5 550.93 L426.11 551.07 L426.72 551.12 L427.33 551.06 L427.94 550.91 L428.55 550.95 L429.16 550.61 L429.77 550.58 L430.38 550.44 L430.99 550.24 L431.6 550.04 L432.21 550.13 L432.82 549.87 L433.43 549.52 L434.04 549.16 L434.65 549.04 L435.26 548.68 L435.87 548.26 L436.48 547.63 L437.09 546.99 L437.7 546.43 L438.31 545.44 L438.92 544.57 L439.53 543.74 L440.14 542.83 L440.75 542.02 L441.36 540.95 L441.97 539.82 L442.58 538.4 L443.19 536.89 L443.8 535.59 L444.41 534.12 L445.02 532.63 L445.63 531.11 L446.24 529.48 L446.85 527.84 L447.46 526.37 L448.07 524.47 L448.68 522.52 L449.29 521.11 L449.9 519.89 L450.51 518.55 L451.12 516.79 L451.73 514.72 L452.34 513.44 L452.95 512.16 L453.56 510.31 L454.17 508.39 L454.78 507.22 L455.39 505.82 L456 504.45 L456.61 503.29 L457.22 502.07 L457.83 500.49 L458.44 498.9 L459.05 497.27 L459.66 495.78 L460.27 494.51 L460.88 493.39 L461.49 492.24 L462.1 491.32 L462.71 489.81 L463.32 488.81 L463.93 487.99 L464.54 486.85 L465.15 485.82 L465.76 484.52 L466.37 483.33 L466.98 482.68 L467.59 483.09 L468.2 482.8 L468.81 481.92 L469.42 481.08 L470.03 480.46 L470.64 480.49 L471.25 480.85 L471.86 480.16 L472.47 479.43 L473.08 479.26 L473.69 479.1 L474.3 479.25 L474.91 479.22 L475.52 479.02 L476.13 478.9 L476.74 478.96 L477.35 479.12 L477.96 479.32 L478.57 479.14 L479.18 479.07 L479.79 478.83 L480.4 478.9 L481.01 479.39 L481.62 479.84 L482.23 480.02 L482.84 479.91 L483.45 480.17 L484.06 480.57 L484.67 480.86 L485.28 481.25 L485.89 481.41 L486.5 481.89 L487.11 482.03 L487.72 482.6 L488.33 483.34 L488.94 484.31 L489.55 484.65 L490.16 485.18 L490.77 486.31 L491.38 487 L491.99 487.78 L492.6 488.85 L493.21 489.27 L493.82 489.98 L494.43 491.22 L495.04 492.08 L495.65 493.23 L496.26 494.05 L496.87 495 L497.48 495.27 L498.09 496.13 L498.7 497.27 L499.31 498.21 L499.92 498.49 L500.53 499.35 L501.14 500.98 L501.75 501.3 L502.36 501.9 L502.97 503.27 L503.58 504.5 L504.19 505.03 L504.8 506.03 L505.41 507.15 L506.02 508.03 L506.63 508.4 L507.24 509.11 L507.85 510.18 L508.46 510.94 L509.07 511.9 L509.68 512.38 L510.29 513.2 L510.9 514.09 L511.51 514.76 L512.12 515.26 L512.73 515.97 L513.34 516.79 L513.95 517.63 L514.56 518.33 L515.17 518.91 L515.78 519.59 L516.39 520.24 L517 521.26 L517.61 522.19 L518.22 522.04 L518.83 522.23 L519.44 523.19 L520.05 524.04 L520.66 524.66 L521.27 525.2 L521.88 525.8 L522.49 526.54 L523.1 527.04 L523.71 527.52 L524.32 527.81 L524.93 528.26 L525.54 528.64 L526.15 529.11 L526.76 529.4 L527.37 529.78 L527.98 530.13 L528.59 531.19 L529.2 531.51 L529.81 531.37 L530.42 531.51 L531.03 532.34 L531.64 532.86 L532.25 533.15 L532.86 533.31 L533.47 533.81 L534.08 534.13 L534.69 534.65 L535.3 535.12 L535.91 535.16 L536.52 535.26 L537.13 535.47 L537.74 536.01 L538.35 536.4 L538.96 536.49 L539.57 536.74 L540.18 537.03 L540.79 537.27 L541.4 537.35 L542.01 537.57 L542.62 537.61 L543.23 537.93 L543.84 538.44 L544.45 538.98 L545.06 538.95 L545.67 539.04 L546.28 539.19 L546.89 539.43 L547.5 539.83 L548.11 540 L548.72 540.25 L549.33 540.3 L549.94 540.98 L550.55 541.46 L551.16 541.64 L551.77 541.74 L552.38 541.78 L552.99 541.61 L553.6 542.11 L554.21 542.49 L554.82 542.44 L555.43 542.84 L556.04 543.13 L556.65 543.04 L557.26 543.22 L557.87 543.51 L558.48 543.52 L559.09 543.74 L559.7 543.81 L560.31 544.03 L560.92 544.18 L561.53 544.6 L562.14 544.86 L562.75 544.67 L563.36 545.09 L563.97 545.38 L564.58 545.57 L565.19 545.64 L565.8 545.7 L566.41 545.8 L567.02 545.81 L567.63 545.85 L568.24 546.26 L568.85 546.64 L569.46 546.77 L570.07 546.86 L570.68 546.96 L571.29 546.82 L571.9 546.98 L572.51 547.1 L573.12 547.21 L573.73 547.47 L574.34 547.48 L574.95 547.33 L575.56 547.41 L576.17 547.54 L576.78 547.51 L577.39 547.88 L578 547.97 L578.61 548.11 L579.22 548.32 L579.83 547.94 L580.44 548.08 L581.05 548.28 L581.66 548.06 L582.27 548.2 L582.88 548.41 L583.49 548.59 L584.1 548.68 L584.71 548.83 L585.32 548.71 L585.93 548.81 L586.54 548.81 L587.15 548.75 L587.76 548.88 L588.37 548.98 L588.98 549.08 L589.59 549.2 L590.2 549.07 L590.81 549.01 L591.42 549.13 L592.03 549.28 L592.64 549.55 L593.25 549.7 L593.86 549.71 L594.47 549.52 L595.08 549.58 L595.69 549.59 L596.3 549.82 L596.91 549.9 L597.52 549.84 L598.13 549.8 L598.74 549.92 L599.35 549.99 L599.96 550.04 L600.57 550.13 L601.18 550.27 L601.79 550.23 L602.4 550.25 L603.01 550.26 L603.62 550.27 L604.23 550.4 L604.84 550.41 L605.45 550.42 L606.06 550.36 L606.67 550.38 L607.28 550.52 L607.89 550.38 L608.5 550.3 L609.11 550.63 L609.72 550.71 L610.33 550.68 L610.94 550.56 L611.55 550.4 L612.16 550.54 L612.77 550.64 L613.38 550.58 L613.99 550.61 L614.6 550.51 L615.21 550.51 L615.82 550.5 L616.43 550.56 L617.04 550.33 L617.65 550.45 L618.26 550.59 L618.87 550.7 L619.48 550.82 L620.09 550.84 L620.7 550.8 L621.31 550.81 L621.92 550.77 L622.53 550.81 L623.14 550.69 L623.75 550.67 L624.36 550.78 L624.97 550.69 L625.58 550.74 L626.19 550.67 L626.8 550.69 L627.41 550.72 L628.02 550.9 L628.63 550.83 L629.24 550.72 L629.85 550.94 L630.46 551.17 L631.07 551.24 L631.68 551.29 L632.29 551.21 L632.9 550.96 L633.51 550.79 L634.12 550.9 L634.73 550.9 L635.34 550.92 L635.95 550.94 L636.56 550.96 L637.17 550.95 L637.78 550.94 L638.39 551.02 L639 550.86 L639.61 550.84 L640.22 550.93 L640.83 550.92 L641.44 551.04 L642.05 551.06 L642.66 551 L643.27 551.03 L643.88 551.08 L644.49 551.11 L645.1 551.06 L645.71 551 L646.32 551.18 L646.93 551.06 L647.54 551.02 L648.15 550.95 L648.76 551.05 L649.37 551.29 L649.98 551.07 L650.59 551 L651.2 551.06 L651.81 551.07 L652.42 551 L653.03 551.01 L653.64 550.87 L654.25 550.88 L654.86 550.86 L655.47 551.14 L656.08 551.26 L656.69 551.04 L657.3 550.97 L657.91 551.1 L658.52 551.26 L659.13 551.17 L659.74 551.05 L660.35 551.09 L660.96 551.12 L661.57 551.15 L662.18 551.22 L662.79 551.23 L663.4 551.2 L664.01 550.99 L664.62 551.07 L665.23 551.1 L665.84 551.16 L666.45 551.12 L667.06 551.24 L667.67 551.08 L668.28 551.01 L668.89 550.94 L669.5 551.17" fill="none" stroke="#000" stroke-width="2.5" stroke-linejoin="round" stroke-linecap="round"/>
<path d="M425.5 549.6 L426.11 549.48 L426.72 549.37 L427.33 549.21 L427.94 548.72 L428.55 548.23 L429.16 547.75 L429.77 547.27 L430.38 546.7 L430.99 546.19 L431.6 545.61 L432.21 544.7 L432.82 543.86 L433.43 543.06 L434.04 542.46 L434.65 541.72 L435.26 540.86 L435.87 539.85 L436.48 538.49 L437.09 537.42 L437.7 536.1 L438.31 534.34 L438.92 532.42 L439.53 530.82 L440.14 529.19 L440.75 527.14 L441.36 524.85 L441.97 522.79 L442.58 520.69 L443.19 518.25 L443.8 515.55 L444.41 512.96 L445.02 510.91 L445.63 508.38 L446.24 505.79 L446.85 503.3 L447.46 500.34 L448.07 497.31 L448.68 494.11 L449.29 491.51 L449.9 488.92 L450.51 485.7 L451.12 482.95 L451.73 480.32 L452.34 477.17 L452.95 474.07 L453.56 470.98 L454.17 467.83 L454.78 464.97 L455.39 461.3 L456 457.5 L456.61 454.06 L457.22 450.63 L457.83 447.19 L458.44 443.94 L459.05 441.08 L459.66 437.68 L460.27 434.81 L460.88 431.53 L461.49 428.21 L462.1 424.19 L462.71 420.74 L463.32 417.82 L463.93 414.57 L464.54 412.1 L465.15 409.32 L465.76 406.73 L466.37 404.48 L466.98 401.66 L467.59 399.15 L468.2 397.64 L468.81 395.5 L469.42 393.57 L470.03 391.47 L470.64 390.02 L471.25 388.56 L471.86 387.16 L472.47 386.11 L473.08 385.11 L473.69 383.47 L474.3 382.72 L474.91 381.36 L475.52 380.17 L476.13 379.5 L476.74 378.3 L477.35 377.13 L477.96 376.71 L478.57 376.62 L479.18 376.5 L479.79 375.44 L480.4 374.53 L481.01 373.99 L481.62 373.49 L482.23 372.74 L482.84 372.43 L483.45 371.89 L484.06 371.39 L484.67 371.43 L485.28 370.89 L485.89 369.96 L486.5 370.24 L487.11 370.94 L487.72 370.77 L488.33 370.54 L488.94 370.66 L489.55 371.43 L490.16 372.31 L490.77 372.91 L491.38 373.2 L491.99 374.01 L492.6 375.12 L493.21 376.05 L493.82 376.98 L494.43 377.91 L495.04 379.35 L495.65 380.4 L496.26 381.6 L496.87 383.28 L497.48 385 L498.09 386.15 L498.7 387.93 L499.31 389.38 L499.92 391.18 L500.53 392.83 L501.14 393.72 L501.75 394.94 L502.36 396.42 L502.97 397.85 L503.58 399.5 L504.19 400.97 L504.8 401.98 L505.41 402.78 L506.02 404.43 L506.63 406.21 L507.24 407.5 L507.85 409.06 L508.46 410.39 L509.07 411.48 L509.68 413.23 L510.29 414.97 L510.9 416.1 L511.51 417.06 L512.12 418.18 L512.73 419.37 L513.34 421.03 L513.95 422.17 L514.56 423.51 L515.17 424.95 L515.78 426.1 L516.39 427.58 L517 429.17 L517.61 430.32 L518.22 432.03 L518.83 433.25 L519.44 434.47 L520.05 435.84 L520.66 437.43 L521.27 438.72 L521.88 439.95 L522.49 441.17 L523.1 442.84 L523.71 444.14 L524.32 445.59 L524.93 446.87 L525.54 447.46 L526.15 449.28 L526.76 450.95 L527.37 451.82 L527.98 453.39 L528.59 454.47 L529.2 455.63 L529.81 457.24 L530.42 458.59 L531.03 459.82 L531.64 461.1 L532.25 462.64 L532.86 463.79 L533.47 464.58 L534.08 465.4 L534.69 466.48 L535.3 467.47 L535.91 468.88 L536.52 470.35 L537.13 471.62 L537.74 473.06 L538.35 474.05 L538.96 474.95 L539.57 475.68 L540.18 476.63 L540.79 477.93 L541.4 479.12 L542.01 480.22 L542.62 480.87 L543.23 481.57 L543.84 482.46 L544.45 483.34 L545.06 483.62 L545.67 484.42 L546.28 485.48 L546.89 486.29 L547.5 486.84 L548.11 487.3 L548.72 487.84 L549.33 488.32 L549.94 488.82 L550.55 489.38 L551.16 490.24 L551.77 491.33 L552.38 492.26 L552.99 493.36 L553.6 494.26 L554.21 494.92 L554.82 496.13 L555.43 497 L556.04 498.35 L556.65 499.4 L557.26 500.3 L557.87 501.46 L558.48 502.5 L559.09 503.58 L559.7 504.58 L560.31 505.45 L560.92 506.23 L561.53 506.75 L562.14 507.64 L562.75 508.48 L563.36 509.84 L563.97 510.32 L564.58 510.84 L565.19 511.62 L565.8 512.16 L566.41 512.93 L567.02 513.79 L567.63 514.24 L568.24 514.58 L568.85 515.58 L569.46 516.43 L570.07 517.16 L570.68 517.81 L571.29 518.59 L571.9 518.9 L572.51 519.02 L573.12 519.72 L573.73 520.43 L574.34 520.88 L574.95 521.34 L575.56 521.98 L576.17 522.38 L576.78 523.06 L577.39 523.7 L578 524.22 L578.61 525.25 L579.22 525.61 L579.83 525.9 L580.44 526.48 L581.05 526.91 L581.66 527.41 L582.27 527.69 L582.88 527.68 L583.49 528.32 L584.1 528.91 L584.71 529.22 L585.32 529.76 L585.93 530.09 L586.54 530.44 L587.15 530.82 L587.76 531.52 L588.37 531.73 L588.98 532.15 L589.59 532.63 L590.2 532.79 L590.81 533.2 L591.42 533.29 L592.03 533.66 L592.64 534.05 L593.25 534.41 L593.86 534.77 L594.47 535.36 L595.08 535.54 L595.69 535.8 L596.3 536 L596.91 536.26 L597.52 536.54 L598.13 536.87 L598.74 536.79 L599.35 536.99 L599.96 537.62 L600.57 537.97 L601.18 538.14 L601.79 538.22 L602.4 538.51 L603.01 539.17 L603.62 539.52 L604.23 539.81 L604.84 540.12 L605.45 540.34 L606.06 540.38 L606.67 540.59 L607.28 540.52 L607.89 540.78 L608.5 541.27 L609.11 541.52 L609.72 541.54 L610.33 541.51 L610.94 541.93 L611.55 542.21 L612.16 542.18 L612.77 542.25 L613.38 542.42 L613.99 542.36 L614.6 542.57 L615.21 542.81 L615.82 543.08 L616.43 543.16 L617.04 543.37 L617.65 543.67 L618.26 543.64 L618.87 543.84 L619.48 543.88 L620.09 543.96 L620.7 543.74 L621.31 543.9 L621.92 544.01 L622.53 544.19 L623.14 544.63 L623.75 544.86 L624.36 544.69 L624.97 544.58 L625.58 544.69 L626.19 544.72 L626.8 544.87 L627.41 545.19 L628.02 545.08 L628.63 544.98 L629.24 545.38 L629.85 545.68 L630.46 545.61 L631.07 545.61 L631.68 545.65 L632.29 545.82 L632.9 545.93 L633.51 546.14 L634.12 545.9 L634.73 545.77 L635.34 545.98 L635.95 546.34 L636.56 546.45 L637.17 546.72 L637.78 546.54 L638.39 546.56 L639 546.7 L639.61 546.65 L640.22 546.65 L640.83 546.65 L641.44 546.77 L642.05 546.93 L642.66 547.21 L643.27 547.22 L643.88 547.11 L644.49 547.04 L645.1 547.01 L645.71 546.96 L646.32 547.18 L646.93 547.2 L647.54 547.14 L648.15 547.16 L648.76 547.13 L649.37 547.16 L649.98 547.03 L650.59 547.1 L651.2 547.04 L651.81 547.06 L652.42 547.04 L653.03 547.24 L653.64 547.16 L654.25 547.17 L654.86 547.09 L655.47 547.03 L656.08 547.27 L656.69 547.37 L657.3 547.28 L657.91 547.19 L658.52 547.31 L659.13 547.2 L659.74 547.26 L660.35 547.25 L660.96 547.11 L661.57 547.01 L662.18 547.07 L662.79 547.05 L663.4 546.98 L664.01 547.06 L664.62 547.24 L665.23 547.01 L665.84 546.78 L666.45 546.56 L667.06 546.43 L667.67 546.54 L668.28 546.68 L668.89 546.76 L669.5 546.65" fill="none" stroke="#ff0000" stroke-width="2.2" stroke-linejoin="round" stroke-linecap="round"/>
<path d="M425.5 547.35 L425.81 546.74 L426.11 543.97 L426.42 546.46 L426.72 546.33 L427.02 544.86 L427.33 547.77 L427.63 547.97 L427.94 546.58 L428.25 547.27 L428.55 548.23 L428.86 546.93 L429.16 545.88 L429.46 545.41 L429.77 547.94 L430.07 546.34 L430.38 542.04 L430.69 541.48 L430.99 545.4 L431.3 544.36 L431.6 545.65 L431.9 546.2 L432.21 545.72 L432.51 543.97 L432.82 541.24 L433.12 541.12 L433.43 542.49 L433.74 543.21 L434.04 542.7 L434.35 541.96 L434.65 541.08 L434.95 542.47 L435.26 542.03 L435.56 541.55 L435.87 541.06 L436.18 540.21 L436.48 539.09 L436.79 537.51 L437.09 537.91 L437.39 536.35 L437.7 538.2 L438 538.58 L438.31 536.68 L438.62 535.03 L438.92 533.44 L439.23 530.65 L439.53 529.61 L439.83 530.32 L440.14 531 L440.44 528.92 L440.75 525.38 L441.06 526.48 L441.36 528.64 L441.67 527.12 L441.97 524.1 L442.27 520.15 L442.58 518.68 L442.88 514.54 L443.19 515.29 L443.5 516.59 L443.8 515.86 L444.11 512.86 L444.41 513.5 L444.71 513.26 L445.02 509.75 L445.32 507.71 L445.63 505.06 L445.94 507.49 L446.24 510.36 L446.55 504.9 L446.85 504.08 L447.15 496.77 L447.46 493.69 L447.76 497.41 L448.07 499.28 L448.38 496.99 L448.68 491.11 L448.99 490.34 L449.29 489.94 L449.6 485.73 L449.9 479.41 L450.2 479.29 L450.51 477.6 L450.81 474.9 L451.12 472.11 L451.43 471.05 L451.73 472.7 L452.04 471.22 L452.34 469.98 L452.64 466.69 L452.95 461.38 L453.25 461.52 L453.56 460.37 L453.87 459.56 L454.17 456.85 L454.48 452.57 L454.78 452.87 L455.08 451.58 L455.39 447.6 L455.69 445.05 L456 443.42 L456.31 445.05 L456.61 447.19 L456.92 441.56 L457.22 438.18 L457.52 437.35 L457.83 437.65 L458.13 432.6 L458.44 436.61 L458.75 434.22 L459.05 433.62 L459.36 433.34 L459.66 430.21 L459.96 432.61 L460.27 436.81 L460.57 432.92 L460.88 424.79 L461.19 420.65 L461.49 426.38 L461.8 423.14 L462.1 417.26 L462.4 417.66 L462.71 420.54 L463.01 423.09 L463.32 422.6 L463.62 418.29 L463.93 416.55 L464.24 419.38 L464.54 416.35 L464.85 409.67 L465.15 408.83 L465.45 408.91 L465.76 407.52 L466.06 405.69 L466.37 399.65 L466.68 394.8 L466.98 393.41 L467.29 396.03 L467.59 395.85 L467.89 392.92 L468.2 391.14 L468.5 391.3 L468.81 393.44 L469.12 399.23 L469.42 400.87 L469.73 395.31 L470.03 395.28 L470.33 396.5 L470.64 398.87 L470.94 398 L471.25 391.44 L471.56 392.77 L471.86 396.41 L472.17 393.7 L472.47 392.25 L472.77 390.02 L473.08 383.1 L473.38 392.9 L473.69 397.22 L474 395.26 L474.3 394.76 L474.61 392.3 L474.91 391.95 L475.21 392.69 L475.52 394.17 L475.82 393.1 L476.13 393.78 L476.44 392.5 L476.74 394.59 L477.05 396.14 L477.35 393.49 L477.65 393.38 L477.96 389.45 L478.26 390.3 L478.57 391.62 L478.88 385.04 L479.18 396.06 L479.49 399.57 L479.79 393.74 L480.1 394.68 L480.4 393.38 L480.7 396.03 L481.01 396.52 L481.31 397.37 L481.62 399.24 L481.93 397.31 L482.23 395.86 L482.54 398.89 L482.84 401.8 L483.14 400.24 L483.45 396.82 L483.75 394.19 L484.06 395.1 L484.37 398.48 L484.67 401.17 L484.98 398.27 L485.28 399.6 L485.58 400.5 L485.89 398.24 L486.19 398.53 L486.5 401.1 L486.81 405.74 L487.11 407.23 L487.41 408.47 L487.72 404.86 L488.02 403.23 L488.33 402.06 L488.63 404.26 L488.94 404.77 L489.25 401.9 L489.55 409.1 L489.86 412.72 L490.16 410.55 L490.47 408.18 L490.77 410.25 L491.07 412.56 L491.38 412.8 L491.69 408.93 L491.99 413.4 L492.3 416.39 L492.6 415.54 L492.9 416.74 L493.21 415.12 L493.51 412.71 L493.82 416.52 L494.12 418.09 L494.43 419.18 L494.74 418.83 L495.04 416.96 L495.35 418.35 L495.65 422.22 L495.95 424.59 L496.26 422.83 L496.56 420.99 L496.87 423.19 L497.18 426.42 L497.48 429.17 L497.78 426.07 L498.09 430.67 L498.39 432.16 L498.7 429.86 L499 428.61 L499.31 429.58 L499.62 431.95 L499.92 432.37 L500.23 434.44 L500.53 437.13 L500.84 435.11 L501.14 434.55 L501.44 433.14 L501.75 433.3 L502.06 431.75 L502.36 431.92 L502.66 431.98 L502.97 432.06 L503.27 434.49 L503.58 436.45 L503.88 435.83 L504.19 440.25 L504.5 439.73 L504.8 438.21 L505.11 440.13 L505.41 440.41 L505.72 443.8 L506.02 444.06 L506.32 441.46 L506.63 440.24 L506.94 440.49 L507.24 443.56 L507.55 443.96 L507.85 443.48 L508.15 445.65 L508.46 450.2 L508.76 448.65 L509.07 445.7 L509.38 449.76 L509.68 448.68 L509.99 449.07 L510.29 448.35 L510.6 451.46 L510.9 453.11 L511.2 456.48 L511.51 452.77 L511.81 450.94 L512.12 454.72 L512.42 452.2 L512.73 454.65 L513.03 457.33 L513.34 460.85 L513.64 455.58 L513.95 457.44 L514.25 459.31 L514.56 461.11 L514.87 459.7 L515.17 455.98 L515.48 457.62 L515.78 456.85 L516.09 458.38 L516.39 459.14 L516.7 460.51 L517 457.58 L517.3 453.52 L517.61 457.11 L517.91 460.33 L518.22 462.11 L518.52 459.43 L518.83 460.32 L519.13 467.74 L519.44 467.06 L519.75 460.08 L520.05 462.04 L520.36 464.23 L520.66 463.42 L520.97 462.45 L521.27 464.02 L521.58 465.33 L521.88 462.71 L522.18 466.99 L522.49 470.98 L522.79 471 L523.1 470.34 L523.4 470.86 L523.71 470.61 L524.01 472.54 L524.32 479.21 L524.62 475.07 L524.93 469.62 L525.24 470.56 L525.54 474.2 L525.85 474.04 L526.15 471.25 L526.46 473.78 L526.76 474.04 L527.07 470.71 L527.37 473.66 L527.67 473.87 L527.98 475.06 L528.28 476.57 L528.59 479.14 L528.89 478.35 L529.2 475.56 L529.5 478.84 L529.81 478.89 L530.12 480.85 L530.42 479.95 L530.73 480.32 L531.03 482.08 L531.34 478.19 L531.64 478.37 L531.95 478.13 L532.25 480.97 L532.55 477.53 L532.86 474.73 L533.16 479.58 L533.47 482.69 L533.77 481.3 L534.08 481.79 L534.38 483.1 L534.69 483.81 L535 484.32 L535.3 483.25 L535.61 485 L535.91 485.69 L536.22 483.19 L536.52 482.26 L536.83 478.99 L537.13 484.14 L537.43 487.57 L537.74 487.06 L538.04 485.86 L538.35 488.28 L538.65 488.39 L538.96 484.56 L539.26 487.06 L539.57 484.19 L539.88 486.37 L540.18 488.3 L540.49 484.58 L540.79 487.61 L541.1 490.27 L541.4 487.68 L541.71 484.72 L542.01 485.26 L542.32 484.89 L542.62 484.04 L542.92 486.94 L543.23 488.41 L543.53 490.81 L543.84 493.29 L544.14 490.11 L544.45 487.86 L544.75 492.04 L545.06 488.63 L545.37 489.89 L545.67 492.89 L545.98 490.51 L546.28 487.93 L546.59 491.22 L546.89 489.93 L547.2 489.95 L547.5 493.43 L547.8 491.86 L548.11 491.99 L548.41 493.76 L548.72 492.97 L549.02 494.89 L549.33 496.91 L549.63 497.57 L549.94 495.26 L550.25 496.18 L550.55 497.71 L550.86 499.47 L551.16 500.14 L551.47 498.03 L551.77 495.5 L552.08 496.28 L552.38 493.29 L552.68 494.25 L552.99 496.72 L553.3 497.73 L553.6 494.33 L553.9 498.21 L554.21 495.58 L554.51 493.04 L554.82 496.88 L555.12 498.98 L555.43 497.27 L555.74 494.47 L556.04 493.46 L556.35 496.16 L556.65 500.25 L556.95 500.07 L557.26 499.03 L557.57 501.01 L557.87 498.07 L558.17 494.35 L558.48 498.32 L558.78 497.5 L559.09 500.19 L559.39 500.35 L559.7 500.5 L560 502.58 L560.31 499.63 L560.62 496.06 L560.92 496.46 L561.23 498.18 L561.53 501.17 L561.84 500.71 L562.14 499.25 L562.44 497.6 L562.75 497.66 L563.06 500.5 L563.36 497.88 L563.66 500.4 L563.97 502.63 L564.27 504.03 L564.58 502.49 L564.88 502.9 L565.19 504.69 L565.5 503.21 L565.8 502.16 L566.11 502.31 L566.41 501.57 L566.72 503.41 L567.02 501.48 L567.33 502.2 L567.63 503.54 L567.93 506.7 L568.24 504.3 L568.55 502.72 L568.85 502.39 L569.15 504.6 L569.46 502.54 L569.76 504.45 L570.07 501.71 L570.38 502.72 L570.68 504.22 L570.99 501.45 L571.29 506.09 L571.6 506.22 L571.9 504.62 L572.2 504.08 L572.51 504.28 L572.82 503.7 L573.12 504.53 L573.42 506.59 L573.73 508.75 L574.03 507.49 L574.34 506.07 L574.64 508.91 L574.95 509.4 L575.25 512.35 L575.56 511.85 L575.87 511.01 L576.17 507.9 L576.48 511.48 L576.78 509.77 L577.09 506.84 L577.39 506.46 L577.69 506.16 L578 506.01 L578.31 506.96 L578.61 507.39 L578.91 509.15 L579.22 511.09 L579.52 513.52 L579.83 510 L580.13 507.84 L580.44 511.76 L580.75 513.3 L581.05 510.29 L581.36 507.24 L581.66 508.36 L581.97 512.77 L582.27 511.42 L582.58 511.82 L582.88 512.5 L583.18 515.06 L583.49 511.13 L583.8 511.34 L584.1 511.35 L584.4 512.42 L584.71 513.48 L585.01 511.58 L585.32 512.84 L585.62 513.12 L585.93 511.02 L586.24 512.16 L586.54 512.91 L586.85 511.05 L587.15 512.82 L587.45 512.27 L587.76 510.2 L588.07 509.14 L588.37 508.23 L588.67 508.32 L588.98 512.08 L589.28 513.37 L589.59 509.11 L589.89 509.23 L590.2 512.36 L590.5 512.31 L590.81 514.82 L591.12 516.34 L591.42 512.33 L591.73 512.24 L592.03 512.22 L592.34 509.4 L592.64 510.41 L592.94 515.38 L593.25 518.47 L593.56 519.23 L593.86 516.21 L594.16 515.31 L594.47 514.39 L594.77 515.2 L595.08 516.78 L595.38 517.65 L595.69 518.07 L596 514.43 L596.3 515.49 L596.61 515.34 L596.91 516.81 L597.22 515.92 L597.52 515.01 L597.83 516.99 L598.13 516.7 L598.43 512.44 L598.74 515.1 L599.05 515.82 L599.35 517.24 L599.65 517.8 L599.96 514.74 L600.26 515.37 L600.57 518.03 L600.88 521.82 L601.18 518.09 L601.49 515.71 L601.79 516.9 L602.1 517.38 L602.4 515.71 L602.7 516.64 L603.01 516.42 L603.32 515.41 L603.62 516.88 L603.92 520.65 L604.23 519.73 L604.53 521.82 L604.84 523.68 L605.14 521.35 L605.45 523.17 L605.75 523.46 L606.06 525.87 L606.37 523.97 L606.67 521.64 L606.98 520.8 L607.28 521.94 L607.59 523.17 L607.89 521.85 L608.19 518.35 L608.5 520.62 L608.81 519.98 L609.11 518.26 L609.41 524.59 L609.72 527.08 L610.02 524.85 L610.33 523.48 L610.63 523.92 L610.94 522.32 L611.25 522.74 L611.55 524.66 L611.86 523.35 L612.16 524.07 L612.47 521.25 L612.77 519.54 L613.08 516.91 L613.38 519.11 L613.68 521.82 L613.99 521.62 L614.3 522.33 L614.6 524.8 L614.9 525.2 L615.21 520.35 L615.51 519.2 L615.82 522.84 L616.12 523.98 L616.43 523.38 L616.74 520.47 L617.04 520.54 L617.35 524.3 L617.65 524.83 L617.95 524.44 L618.26 522.77 L618.57 521.04 L618.87 521.03 L619.17 524.07 L619.48 525.43 L619.78 522.9 L620.09 522.47 L620.39 524.05 L620.7 523.58 L621 522.58 L621.31 522.02 L621.62 523.08 L621.92 523.07 L622.23 524.23 L622.53 525.68 L622.84 523.58 L623.14 523.11 L623.44 523.17 L623.75 526.74 L624.06 526.65 L624.36 525.7 L624.66 528.1 L624.97 526.59 L625.27 526.21 L625.58 526.31 L625.88 527.35 L626.19 529.72 L626.5 526.58 L626.8 524.44 L627.11 522.3 L627.41 521.67 L627.72 523.26 L628.02 525.11 L628.33 529.42 L628.63 525.5 L628.93 522.7 L629.24 523.28 L629.55 525.15 L629.85 526.81 L630.15 527.03 L630.46 526.08 L630.76 525.01 L631.07 524.97 L631.38 527.02 L631.68 527.79 L631.99 524.34 L632.29 528.86 L632.6 531.56 L632.9 525.03 L633.2 523.77 L633.51 525.22 L633.82 524.64 L634.12 526.07 L634.42 528.37 L634.73 528.3 L635.03 530.01 L635.34 529.96 L635.64 529.4 L635.95 527.02 L636.25 525.77 L636.56 527.87 L636.87 528.58 L637.17 532.3 L637.48 530.94 L637.78 526.91 L638.09 525.12 L638.39 524.86 L638.69 526.45 L639 530.99 L639.31 531.97 L639.61 533.75 L639.91 530.18 L640.22 528.29 L640.52 529.6 L640.83 530.3 L641.13 528.05 L641.44 527.3 L641.75 528.55 L642.05 529.88 L642.36 529.14 L642.66 528.59 L642.97 528.05 L643.27 527.73 L643.58 529.73 L643.88 532.2 L644.18 530.5 L644.49 529.08 L644.8 529.87 L645.1 529.77 L645.4 529.84 L645.71 527.17 L646.01 527.91 L646.32 528.69 L646.62 527.73 L646.93 527.81 L647.24 528.58 L647.54 527.54 L647.85 527.96 L648.15 529.23 L648.45 530.69 L648.76 532.19 L649.07 530.48 L649.37 530.38 L649.67 530.99 L649.98 528.37 L650.28 530.33 L650.59 532.9 L650.89 532.16 L651.2 531.08 L651.5 531.37 L651.81 532.34 L652.12 532.27 L652.42 534.02 L652.73 532.52 L653.03 530.98 L653.34 531.77 L653.64 529.92 L653.94 529.74 L654.25 533.51 L654.56 535.82 L654.86 530.47 L655.16 529.41 L655.47 533.63 L655.77 532.04 L656.08 531.95 L656.38 534.93 L656.69 533.01 L657 529.6 L657.3 530.58 L657.61 530.92 L657.91 530.01 L658.22 533.4 L658.52 534.82 L658.83 530.96 L659.13 532.52 L659.43 531.63 L659.74 529.45 L660.05 530.41 L660.35 531.6 L660.65 532.3 L660.96 529.39 L661.26 527.18 L661.57 531.63 L661.88 533.36 L662.18 531.48 L662.49 531.82 L662.79 530.73 L663.1 529.89 L663.4 529.06 L663.7 529.09 L664.01 528.29 L664.32 527.68 L664.62 530.62 L664.92 529.85 L665.23 529.62 L665.53 532.24 L665.84 532.35 L666.14 531.21 L666.45 530.29 L666.75 528.05 L667.06 527.33 L667.37 524.98 L667.67 529.81 L667.98 530.49 L668.28 527.7 L668.59 530.04 L668.89 530.28 L669.19 537.35 L669.5 535.92" fill="none" stroke="#0000ff" stroke-width="2.2" stroke-linejoin="round" stroke-linecap="round"/>
</g>
<path d="M425.5 354.5 L425.5 551.5 L669.5 551.5 L669.5 354.5 Z" fill="none" stroke="#0c0c0c" stroke-width="1"/>
<line x1="669.5" y1="354.5" x2="669.5" y2="551.5" stroke="#6a6a6a" stroke-width="1.9" />
<line x1="425.5" y1="551.5" x2="425.5" y2="555.2" stroke="#0c0c0c" stroke-width="1" />
<text class="ss" x="425.5" y="564.2" font-size="8.2" text-anchor="middle" stroke="#000" stroke-width="0.3">400</text>
<line x1="486.5" y1="551.5" x2="486.5" y2="555.2" stroke="#0c0c0c" stroke-width="1" />
<text class="ss" x="486.5" y="564.2" font-size="8.2" text-anchor="middle" stroke="#000" stroke-width="0.3">500</text>
<line x1="547.5" y1="551.5" x2="547.5" y2="555.2" stroke="#0c0c0c" stroke-width="1" />
<text class="ss" x="547.5" y="564.2" font-size="8.2" text-anchor="middle" stroke="#000" stroke-width="0.3">600</text>
<line x1="608.5" y1="551.5" x2="608.5" y2="555.2" stroke="#0c0c0c" stroke-width="1" />
<text class="ss" x="608.5" y="564.2" font-size="8.2" text-anchor="middle" stroke="#000" stroke-width="0.3">700</text>
<line x1="669.5" y1="551.5" x2="669.5" y2="555.2" stroke="#0c0c0c" stroke-width="1" />
<text class="ss" x="669.5" y="564.2" font-size="8.2" text-anchor="middle" stroke="#000" stroke-width="0.3">800</text>
<line x1="456" y1="551.5" x2="456" y2="553.2" stroke="#0c0c0c" stroke-width="1" />
<line x1="517" y1="551.5" x2="517" y2="553.2" stroke="#0c0c0c" stroke-width="1" />
<line x1="578" y1="551.5" x2="578" y2="553.2" stroke="#0c0c0c" stroke-width="1" />
<line x1="639" y1="551.5" x2="639" y2="553.2" stroke="#0c0c0c" stroke-width="1" />
<line x1="425.5" y1="551.5" x2="421.8" y2="551.5" stroke="#0c0c0c" stroke-width="1" />
<text class="ss" x="418.8" y="554.62" font-size="8.2" text-anchor="end" stroke="#000" stroke-width="0.3">0.0</text>
<line x1="425.5" y1="524.95" x2="421.8" y2="524.95" stroke="#0c0c0c" stroke-width="1" />
<text class="ss" x="418.8" y="528.07" font-size="8.2" text-anchor="end" stroke="#000" stroke-width="0.3">5.0×10<tspan dy="-0.44em" font-size="70%">5</tspan></text>
<line x1="425.5" y1="498.4" x2="421.8" y2="498.4" stroke="#0c0c0c" stroke-width="1" />
<text class="ss" x="418.8" y="501.52" font-size="8.2" text-anchor="end" stroke="#000" stroke-width="0.3">1.0×10<tspan dy="-0.44em" font-size="70%">6</tspan></text>
<line x1="425.5" y1="471.85" x2="421.8" y2="471.85" stroke="#0c0c0c" stroke-width="1" />
<text class="ss" x="418.8" y="474.97" font-size="8.2" text-anchor="end" stroke="#000" stroke-width="0.3">1.5×10<tspan dy="-0.44em" font-size="70%">6</tspan></text>
<line x1="425.5" y1="445.3" x2="421.8" y2="445.3" stroke="#0c0c0c" stroke-width="1" />
<text class="ss" x="418.8" y="448.42" font-size="8.2" text-anchor="end" stroke="#000" stroke-width="0.3">2.0×10<tspan dy="-0.44em" font-size="70%">6</tspan></text>
<line x1="425.5" y1="418.75" x2="421.8" y2="418.75" stroke="#0c0c0c" stroke-width="1" />
<text class="ss" x="418.8" y="421.87" font-size="8.2" text-anchor="end" stroke="#000" stroke-width="0.3">2.5×10<tspan dy="-0.44em" font-size="70%">6</tspan></text>
<line x1="425.5" y1="392.2" x2="421.8" y2="392.2" stroke="#0c0c0c" stroke-width="1" />
<text class="ss" x="418.8" y="395.32" font-size="8.2" text-anchor="end" stroke="#000" stroke-width="0.3">3.0×10<tspan dy="-0.44em" font-size="70%">6</tspan></text>
<line x1="425.5" y1="365.65" x2="421.8" y2="365.65" stroke="#0c0c0c" stroke-width="1" />
<text class="ss" x="418.8" y="368.77" font-size="8.2" text-anchor="end" stroke="#000" stroke-width="0.3">3.5×10<tspan dy="-0.44em" font-size="70%">6</tspan></text>
<line x1="425.5" y1="538.23" x2="423.8" y2="538.23" stroke="#0c0c0c" stroke-width="1" />
<line x1="425.5" y1="511.68" x2="423.8" y2="511.68" stroke="#0c0c0c" stroke-width="1" />
<line x1="425.5" y1="485.12" x2="423.8" y2="485.12" stroke="#0c0c0c" stroke-width="1" />
<line x1="425.5" y1="458.57" x2="423.8" y2="458.57" stroke="#0c0c0c" stroke-width="1" />
<line x1="425.5" y1="432.02" x2="423.8" y2="432.02" stroke="#0c0c0c" stroke-width="1" />
<line x1="425.5" y1="405.48" x2="423.8" y2="405.48" stroke="#0c0c0c" stroke-width="1" />
<line x1="425.5" y1="378.92" x2="423.8" y2="378.92" stroke="#0c0c0c" stroke-width="1" />
<line x1="669.5" y1="551.5" x2="673.2" y2="551.5" stroke="#0c0c0c" stroke-width="1" />
<text class="ss" x="676.2" y="554.62" font-size="8.2" stroke="#000" stroke-width="0.3">0.0</text>
<line x1="669.5" y1="495.2" x2="673.2" y2="495.2" stroke="#0c0c0c" stroke-width="1" />
<text class="ss" x="676.2" y="498.32" font-size="8.2" stroke="#000" stroke-width="0.3">5.0×10<tspan dy="-0.44em" font-size="70%">2</tspan></text>
<line x1="669.5" y1="438.9" x2="673.2" y2="438.9" stroke="#0c0c0c" stroke-width="1" />
<text class="ss" x="676.2" y="442.02" font-size="8.2" stroke="#000" stroke-width="0.3">1.0×10<tspan dy="-0.44em" font-size="70%">3</tspan></text>
<line x1="669.5" y1="382.6" x2="673.2" y2="382.6" stroke="#0c0c0c" stroke-width="1" />
<text class="ss" x="676.2" y="385.72" font-size="8.2" stroke="#000" stroke-width="0.3">1.5×10<tspan dy="-0.44em" font-size="70%">3</tspan></text>
<line x1="669.5" y1="523.35" x2="671.2" y2="523.35" stroke="#0c0c0c" stroke-width="1" />
<line x1="669.5" y1="467.05" x2="671.2" y2="467.05" stroke="#0c0c0c" stroke-width="1" />
<line x1="669.5" y1="410.75" x2="671.2" y2="410.75" stroke="#0c0c0c" stroke-width="1" />
<line x1="669.5" y1="354.45" x2="671.2" y2="354.45" stroke="#0c0c0c" stroke-width="1" />
<text class="ss" x="426.8" y="348.2" font-size="10.17" stroke="#000" stroke-width="0.3" textLength="123.8" lengthAdjust="spacingAndGlyphs">Active layer: 4c:PVK:PBD</text>
<text class="sf" x="534.3" y="580.6" font-size="11" text-anchor="middle" stroke="#000" stroke-width="0.3" textLength="81.5" lengthAdjust="spacingAndGlyphs">Wevelength [nm]</text>
<text class="sf" x="379.5" y="442" font-size="11.4" text-anchor="middle" stroke="#000" stroke-width="0.3" transform="rotate(-90 379.5 442)" textLength="82.8" lengthAdjust="spacingAndGlyphs">Intensity [counts]</text>
<text class="sf" x="706.6" y="450" font-size="11.4" text-anchor="middle" stroke="#000" stroke-width="0.3" transform="rotate(90 706.6 450)" textLength="82.8" lengthAdjust="spacingAndGlyphs">Intensity [counts]</text>
<line x1="479.7" y1="395.2" x2="564.36" y2="395.2" stroke="#111" stroke-width="1" />
<path d="M568 395.2 L562.8 393.7 L562.8 396.7 Z" fill="#111"/>
<text class="ss" x="585.3" y="369.5" font-size="10.3" stroke="#000" stroke-width="0.3" textLength="53" lengthAdjust="spacingAndGlyphs">4c content:</text>
<line x1="585.3" y1="381.6" x2="608.4" y2="381.6" stroke="#000" stroke-width="2" />
<text class="ss" x="611.4" y="385.31" font-size="10.3" stroke="#000" stroke-width="0.3" textLength="26.1" lengthAdjust="spacingAndGlyphs">1wt%</text>
<line x1="585.3" y1="394.4" x2="608.4" y2="394.4" stroke="#f00" stroke-width="2" />
<text class="ss" x="611.4" y="398.11" font-size="10.3" stroke="#000" stroke-width="0.3" textLength="26.1" lengthAdjust="spacingAndGlyphs">2wt%</text>
<line x1="585.3" y1="407.3" x2="608.4" y2="407.3" stroke="#00f" stroke-width="2" />
<text class="ss" x="611.4" y="411.01" font-size="10.3" stroke="#000" stroke-width="0.3" textLength="32" lengthAdjust="spacingAndGlyphs">15wt%</text>
<text class="sf" x="530" y="322" font-size="18" text-anchor="middle" stroke="#000" stroke-width="0.3">(d)</text>
</g>
<g id="pe">
<clipPath id="cle"><rect x="68.5" y="641.5" width="258.2" height="209"/></clipPath>
<g clip-path="url(#cle)">
<path d="M68.5 849.42 L69.14 849.48 L69.78 849.5 L70.43 849.47 L71.07 849.4 L71.71 849.42 L72.36 849.25 L73 849.23 L73.64 849.16 L74.28 849.06 L74.92 848.95 L75.57 849 L76.21 848.86 L76.85 848.66 L77.5 848.46 L78.14 848.36 L78.78 848.13 L79.42 847.85 L80.06 847.43 L80.71 847 L81.35 846.6 L81.99 845.96 L82.64 845.39 L83.28 844.86 L83.92 844.29 L84.56 843.81 L85.2 843.2 L85.85 842.58 L86.49 841.82 L87.13 841.04 L87.78 840.4 L88.42 839.67 L89.06 838.94 L89.7 838.21 L90.34 837.42 L90.99 836.64 L91.63 835.97 L92.27 835.07 L92.91 834.17 L93.56 833.58 L94.2 833.11 L94.84 832.58 L95.48 831.82 L96.13 830.9 L96.77 830.41 L97.41 829.93 L98.06 829.14 L98.7 828.31 L99.34 827.9 L99.98 827.37 L100.62 826.87 L101.27 826.48 L101.91 826.06 L102.55 825.44 L103.19 824.81 L103.84 824.16 L104.48 823.59 L105.12 823.14 L105.77 822.77 L106.41 822.38 L107.05 822.12 L107.69 821.55 L108.34 821.25 L108.98 821.05 L109.62 820.67 L110.26 820.34 L110.91 819.85 L111.55 819.4 L112.19 819.22 L112.83 819.59 L113.47 819.57 L114.12 819.23 L114.76 818.92 L115.4 818.72 L116.05 818.88 L116.69 819.2 L117.33 818.97 L117.97 818.71 L118.62 818.74 L119.26 818.76 L119.9 818.92 L120.54 818.98 L121.19 818.93 L121.83 818.91 L122.47 818.97 L123.11 819.08 L123.75 819.2 L124.4 819.12 L125.04 819.1 L125.68 818.99 L126.33 819.04 L126.97 819.31 L127.61 819.56 L128.25 819.67 L128.89 819.63 L129.54 819.76 L130.18 819.95 L130.82 820.07 L131.47 820.23 L132.11 820.25 L132.75 820.42 L133.39 820.4 L134.03 820.59 L134.68 820.87 L135.32 821.24 L135.96 821.28 L136.61 821.4 L137.25 821.82 L137.89 822 L138.53 822.22 L139.18 822.59 L139.82 822.61 L140.46 822.79 L141.1 823.24 L141.75 823.49 L142.39 823.9 L143.03 824.15 L143.67 824.46 L144.31 824.42 L144.96 824.68 L145.6 825.1 L146.24 825.39 L146.88 825.33 L147.53 825.57 L148.17 826.22 L148.81 826.17 L149.45 826.26 L150.1 826.77 L150.74 827.22 L151.38 827.28 L152.03 827.61 L152.67 828 L153.31 828.27 L153.95 828.27 L154.59 828.45 L155.24 828.84 L155.88 829.06 L156.52 829.39 L157.16 829.45 L157.81 829.71 L158.45 830 L159.09 830.18 L159.74 830.26 L160.38 830.46 L161.02 830.74 L161.66 831.03 L162.31 831.25 L162.95 831.41 L163.59 831.63 L164.23 831.84 L164.88 832.27 L165.52 832.66 L166.16 832.42 L166.8 832.39 L167.44 832.8 L168.09 833.16 L168.73 833.38 L169.37 833.57 L170.01 833.79 L170.66 834.09 L171.3 834.26 L171.94 834.42 L172.59 834.47 L173.23 834.62 L173.87 834.73 L174.51 834.89 L175.16 834.96 L175.8 835.07 L176.44 835.18 L177.08 835.72 L177.72 835.81 L178.37 835.63 L179.01 835.62 L179.65 836.04 L180.3 836.29 L180.94 836.4 L181.58 836.44 L182.22 836.7 L182.87 836.85 L183.51 837.15 L184.15 837.42 L184.79 837.43 L185.44 837.49 L186.08 837.63 L186.72 837.97 L187.36 838.22 L188 838.28 L188.65 838.43 L189.29 838.62 L189.93 838.76 L190.57 838.81 L191.22 838.93 L191.86 838.95 L192.5 839.13 L193.14 839.43 L193.79 839.76 L194.43 839.72 L195.07 839.76 L195.72 839.84 L196.36 839.97 L197 840.21 L197.64 840.3 L198.28 840.45 L198.93 840.47 L199.57 840.89 L200.21 841.18 L200.85 841.29 L201.5 841.34 L202.14 841.35 L202.78 841.23 L203.43 841.54 L204.07 841.77 L204.71 841.74 L205.35 841.98 L206 842.17 L206.64 842.1 L207.28 842.22 L207.92 842.4 L208.56 842.41 L209.21 842.55 L209.85 842.6 L210.49 842.75 L211.14 842.84 L211.78 843.12 L212.42 843.29 L213.06 843.17 L213.7 843.45 L214.35 843.64 L214.99 843.76 L215.63 843.81 L216.27 843.85 L216.92 843.92 L217.56 843.94 L218.2 843.97 L218.84 844.25 L219.49 844.51 L220.13 844.61 L220.77 844.68 L221.41 844.77 L222.06 844.7 L222.7 844.82 L223.34 844.92 L223.98 845.02 L224.63 845.2 L225.27 845.23 L225.91 845.16 L226.56 845.23 L227.2 845.34 L227.84 845.34 L228.48 845.6 L229.12 845.67 L229.77 845.78 L230.41 845.94 L231.05 845.71 L231.69 845.82 L232.34 845.97 L232.98 845.85 L233.62 845.95 L234.27 846.1 L234.91 846.24 L235.55 846.31 L236.19 846.42 L236.84 846.36 L237.48 846.44 L238.12 846.46 L238.76 846.43 L239.41 846.54 L240.05 846.62 L240.69 846.7 L241.33 846.79 L241.98 846.72 L242.62 846.69 L243.26 846.79 L243.9 846.89 L244.55 847.08 L245.19 847.19 L245.83 847.21 L246.47 847.1 L247.11 847.14 L247.76 847.15 L248.4 847.32 L249.04 847.37 L249.69 847.34 L250.33 847.33 L250.97 847.41 L251.61 847.46 L252.25 847.5 L252.9 847.57 L253.54 847.66 L254.18 847.65 L254.82 847.67 L255.47 847.68 L256.11 847.7 L256.75 847.79 L257.39 847.81 L258.04 847.83 L258.68 847.8 L259.32 847.83 L259.97 847.94 L260.61 847.87 L261.25 847.84 L261.89 848.07 L262.53 848.14 L263.18 848.15 L263.82 848.09 L264.46 848 L265.11 848.12 L265.75 848.2 L266.39 848.18 L267.03 848.22 L267.68 848.18 L268.32 848.2 L268.96 848.21 L269.6 848.27 L270.25 848.14 L270.89 848.23 L271.53 848.33 L272.17 848.42 L272.81 848.51 L273.46 848.54 L274.1 848.53 L274.74 848.55 L275.38 848.54 L276.03 848.57 L276.67 848.51 L277.31 848.51 L277.95 848.59 L278.6 848.55 L279.24 848.58 L279.88 848.55 L280.52 848.57 L281.17 848.6 L281.81 848.71 L282.45 848.68 L283.1 848.61 L283.74 848.75 L284.38 848.9 L285.02 848.94 L285.66 848.98 L286.31 848.94 L286.95 848.79 L287.59 848.7 L288.24 848.76 L288.88 848.77 L289.52 848.79 L290.16 848.8 L290.81 848.82 L291.45 848.82 L292.09 848.82 L292.73 848.88 L293.38 848.78 L294.02 848.78 L294.66 848.84 L295.3 848.84 L295.94 848.91 L296.59 848.93 L297.23 848.9 L297.87 848.92 L298.51 848.95 L299.16 848.98 L299.8 848.95 L300.44 848.92 L301.09 849.03 L301.73 848.97 L302.37 848.94 L303.01 848.91 L303.65 848.98 L304.3 849.12 L304.94 848.99 L305.58 848.95 L306.23 848.99 L306.87 849.01 L307.51 848.97 L308.15 848.98 L308.8 848.9 L309.44 848.91 L310.08 848.9 L310.72 849.07 L311.37 849.14 L312.01 849.01 L312.65 848.98 L313.29 849.06 L313.94 849.15 L314.58 849.1 L315.22 849.03 L315.86 849.06 L316.5 849.08 L317.15 849.1 L317.79 849.14 L318.43 849.15 L319.07 849.14 L319.72 849.01 L320.36 849.06 L321 849.08 L321.64 849.12 L322.29 849.09 L322.93 849.16 L323.57 849.07 L324.22 849.03 L324.86 848.99 L325.5 849.12" fill="none" stroke="#000" stroke-width="2" stroke-linejoin="round" stroke-linecap="round"/>
<path d="M68.5 848.81 L69.14 848.83 L69.78 848.87 L70.43 848.9 L71.07 848.63 L71.71 848.36 L72.36 848.1 L73 847.83 L73.64 847.45 L74.28 847.09 L74.92 846.63 L75.57 845.81 L76.21 844.99 L76.85 844.17 L77.5 843.48 L78.14 842.64 L78.78 841.65 L79.42 840.51 L80.06 839.01 L80.71 837.79 L81.35 836.33 L81.99 834.41 L82.64 832.31 L83.28 830.53 L83.92 828.71 L84.56 826.44 L85.2 823.89 L85.85 821.54 L86.49 819.08 L87.13 816.22 L87.78 813.02 L88.42 809.88 L89.06 807.27 L89.7 804.12 L90.34 800.87 L90.99 797.7 L91.63 793.98 L92.27 790.15 L92.91 786.09 L93.56 782.63 L94.2 779.14 L94.84 774.96 L95.48 771.29 L96.13 767.77 L96.77 763.74 L97.41 759.82 L98.06 756 L98.7 752.2 L99.34 748.81 L99.98 744.61 L100.62 740.36 L101.27 736.57 L101.91 732.86 L102.55 729.17 L103.19 725.73 L103.84 722.73 L104.48 719.13 L105.12 716.13 L105.77 712.69 L106.41 709.27 L107.05 705.15 L107.69 701.76 L108.34 699.04 L108.98 696.05 L109.62 693.96 L110.26 691.55 L110.91 689.35 L111.55 687.51 L112.19 685.04 L112.83 682.93 L113.47 681.94 L114.12 680.32 L114.76 678.99 L115.4 677.5 L116.05 676.75 L116.69 676 L117.33 675.3 L117.97 674.98 L118.62 674.71 L119.26 673.78 L119.9 673.85 L120.54 673.28 L121.19 672.93 L121.83 673.15 L122.47 672.8 L123.11 672.47 L123.75 672.89 L124.4 673.61 L125.04 674.26 L125.68 673.87 L126.33 673.61 L126.97 673.72 L127.61 673.87 L128.25 673.75 L128.89 674.1 L129.54 674.23 L130.18 674.4 L130.82 675.15 L131.47 675.28 L132.11 675.02 L132.75 676.01 L133.39 677.45 L134.03 678.01 L134.68 678.51 L135.32 679.38 L135.96 680.91 L136.61 682.54 L137.25 683.85 L137.89 684.83 L138.53 686.33 L139.18 688.09 L139.82 689.62 L140.46 691.08 L141.1 692.44 L141.75 694.21 L142.39 695.47 L143.03 696.76 L143.67 698.47 L144.31 700.15 L144.96 701.23 L145.6 702.94 L146.24 704.32 L146.88 706.07 L147.53 707.68 L148.17 708.51 L148.81 709.69 L149.45 711.12 L150.1 712.51 L150.74 714.14 L151.38 715.57 L152.03 716.56 L152.67 717.36 L153.31 719.01 L153.95 720.82 L154.59 722.14 L155.24 723.75 L155.88 725.12 L156.52 726.27 L157.16 728.08 L157.81 729.9 L158.45 731.1 L159.09 732.14 L159.74 733.34 L160.38 734.62 L161.02 736.36 L161.66 737.58 L162.31 739.01 L162.95 740.54 L163.59 741.77 L164.23 743.33 L164.88 745.01 L165.52 746.24 L166.16 748.02 L166.8 749.32 L167.44 750.61 L168.09 752.04 L168.73 753.69 L169.37 755.03 L170.01 756.31 L170.66 757.58 L171.3 759.28 L171.94 760.62 L172.59 762.11 L173.23 763.43 L173.87 764.07 L174.51 765.93 L175.16 767.64 L175.8 768.56 L176.44 770.17 L177.08 771.29 L177.72 772.49 L178.37 774.12 L179.01 775.49 L179.65 776.73 L180.3 778.02 L180.94 779.57 L181.58 780.72 L182.22 781.53 L182.87 782.38 L183.51 783.47 L184.15 784.49 L184.79 785.9 L185.44 787.38 L186.08 788.64 L186.72 790.07 L187.36 791.02 L188 791.87 L188.65 792.54 L189.29 793.39 L189.93 794.56 L190.57 795.61 L191.22 796.56 L191.86 797.09 L192.5 797.66 L193.14 798.45 L193.79 799.25 L194.43 799.52 L195.07 800.33 L195.72 801.45 L196.36 802.37 L197 803.07 L197.64 803.73 L198.28 804.46 L198.93 805.12 L199.57 805.75 L200.21 806.39 L200.85 807.26 L201.5 808.28 L202.14 809.08 L202.78 809.98 L203.43 810.65 L204.07 811.04 L204.71 811.92 L205.35 812.45 L206 813.43 L206.64 814.1 L207.28 814.66 L207.92 815.48 L208.56 816.19 L209.21 816.98 L209.85 817.71 L210.49 818.34 L211.14 818.91 L211.78 819.24 L212.42 819.93 L213.06 820.56 L213.7 821.69 L214.35 821.99 L214.99 822.31 L215.63 822.89 L216.27 823.23 L216.92 823.79 L217.56 824.43 L218.2 824.69 L218.84 824.84 L219.49 825.62 L220.13 826.26 L220.77 826.8 L221.41 827.25 L222.06 827.83 L222.7 827.97 L223.34 827.93 L223.98 828.44 L224.63 828.95 L225.27 829.23 L225.91 829.52 L226.56 829.97 L227.2 830.21 L227.84 830.7 L228.48 831.16 L229.12 831.52 L229.77 832.35 L230.41 832.55 L231.05 832.69 L231.69 833.11 L232.34 833.38 L232.98 833.72 L233.62 833.86 L234.27 833.72 L234.91 834.2 L235.55 834.64 L236.19 834.82 L236.84 835.21 L237.48 835.42 L238.12 835.64 L238.76 835.9 L239.41 836.46 L240.05 836.56 L240.69 836.87 L241.33 837.23 L241.98 837.29 L242.62 837.59 L243.26 837.59 L243.9 837.86 L244.55 838.14 L245.19 838.4 L245.83 838.66 L246.47 839.15 L247.11 839.23 L247.76 839.4 L248.4 839.51 L249.04 839.68 L249.69 839.86 L250.33 840.1 L250.97 839.94 L251.61 840.04 L252.25 840.55 L252.9 840.8 L253.54 840.87 L254.18 840.85 L254.82 841.03 L255.47 841.57 L256.11 841.81 L256.75 842 L257.39 842.21 L258.04 842.34 L258.68 842.31 L259.32 842.45 L259.97 842.33 L260.61 842.52 L261.25 842.95 L261.89 843.16 L262.53 843.15 L263.18 843.09 L263.82 843.46 L264.46 843.71 L265.11 843.64 L265.75 843.69 L266.39 843.82 L267.03 843.73 L267.68 843.91 L268.32 844.1 L268.96 844.32 L269.6 844.37 L270.25 844.54 L270.89 844.79 L271.53 844.73 L272.17 844.89 L272.81 844.9 L273.46 844.94 L274.1 844.7 L274.74 844.82 L275.38 844.9 L276.03 845.04 L276.67 845.43 L277.31 845.64 L277.95 845.45 L278.6 845.31 L279.24 845.4 L279.88 845.41 L280.52 845.53 L281.17 845.82 L281.81 845.7 L282.45 845.59 L283.1 845.96 L283.74 846.24 L284.38 846.16 L285.02 846.15 L285.66 846.18 L286.31 846.34 L286.95 846.44 L287.59 846.62 L288.24 846.39 L288.88 846.26 L289.52 846.44 L290.16 846.79 L290.81 846.88 L291.45 847.13 L292.09 846.94 L292.73 846.95 L293.38 847.07 L294.02 847.01 L294.66 847 L295.3 846.98 L295.94 847.08 L296.59 847.22 L297.23 847.46 L297.87 847.45 L298.51 847.33 L299.16 847.25 L299.8 847.22 L300.44 847.16 L301.09 847.37 L301.73 847.38 L302.37 847.34 L303.01 847.36 L303.65 847.35 L304.3 847.39 L304.94 847.28 L305.58 847.36 L306.23 847.32 L306.87 847.35 L307.51 847.34 L308.15 847.56 L308.8 847.5 L309.44 847.52 L310.08 847.45 L310.72 847.42 L311.37 847.66 L312.01 847.77 L312.65 847.7 L313.29 847.64 L313.94 847.77 L314.58 847.68 L315.22 847.77 L315.86 847.78 L316.5 847.67 L317.15 847.6 L317.79 847.68 L318.43 847.7 L319.07 847.65 L319.72 847.76 L320.36 847.96 L321 847.78 L321.64 847.6 L322.29 847.43 L322.93 847.34 L323.57 847.49 L324.22 847.65 L324.86 847.75 L325.5 847.67" fill="none" stroke="#ff0000" stroke-width="2.5" stroke-linejoin="round" stroke-linecap="round"/>
<path d="M68.5 847.7 L69.14 847.56 L69.78 847.39 L70.43 846.86 L71.07 846.71 L71.71 846.24 L72.36 845.62 L73 845.21 L73.64 844.63 L74.28 843.85 L74.92 842.81 L75.57 841.76 L76.21 841.12 L76.85 840.31 L77.5 839.1 L78.14 838 L78.78 836.67 L79.42 835.23 L80.06 834.02 L80.71 832.56 L81.35 831.05 L81.99 829.29 L82.64 827.49 L83.28 825.8 L83.92 823.8 L84.56 821.73 L85.2 819.69 L85.85 817.6 L86.49 815.26 L87.13 812.6 L87.78 809.83 L88.42 807.01 L89.06 804.93 L89.7 801.94 L90.34 798.8 L90.99 795.77 L91.63 793.1 L92.27 790.5 L92.91 787.45 L93.56 784.39 L94.2 781.51 L94.84 778.55 L95.48 775.81 L96.13 772.09 L96.77 768.9 L97.41 766.15 L98.06 762.89 L98.7 759.77 L99.34 756.65 L99.98 753.04 L100.62 749.44 L101.27 746.32 L101.91 743.01 L102.55 739.48 L103.19 735.85 L103.84 732.4 L104.48 729.47 L105.12 726.1 L105.77 723.1 L106.41 720.51 L107.05 717.23 L107.69 714.07 L108.34 711.16 L108.98 708.59 L109.62 706.5 L110.26 703.72 L110.91 701.48 L111.55 699.38 L112.19 696.72 L112.83 694.61 L113.47 693.01 L114.12 691.05 L114.76 689.59 L115.4 688.16 L116.05 686.76 L116.69 685.12 L117.33 684.66 L117.97 682.98 L118.62 681.59 L119.26 681.09 L119.9 679.69 L120.54 678.3 L121.19 676.91 L121.83 675.84 L122.47 675.44 L123.11 674.66 L123.75 672.87 L124.4 671.82 L125.04 671.34 L125.68 670.29 L126.33 669.21 L126.97 668.23 L127.61 667.25 L128.25 666.3 L128.89 666.01 L129.54 664.59 L130.18 663.7 L130.82 662.99 L131.47 662.21 L132.11 662.14 L132.75 660.77 L133.39 660.25 L134.03 660.22 L134.68 659.57 L135.32 659.07 L135.96 658.11 L136.61 658.2 L137.25 659.03 L137.89 659.83 L138.53 660.27 L139.18 660.69 L139.82 661.38 L140.46 662.17 L141.1 662.81 L141.75 663.48 L142.39 664.35 L143.03 665.28 L143.67 665.8 L144.31 665.9 L144.96 667.62 L145.6 668.55 L146.24 668.87 L146.88 669.66 L147.53 670.22 L148.17 670.72 L148.81 671.34 L149.45 672.42 L150.1 673.59 L150.74 674.15 L151.38 675.45 L152.03 676.02 L152.67 676.79 L153.31 677.6 L153.95 677.97 L154.59 678.68 L155.24 679.43 L155.88 680.65 L156.52 680.99 L157.16 681.7 L157.81 682.84 L158.45 684.07 L159.09 684.82 L159.74 686 L160.38 686.57 L161.02 685.98 L161.66 686.92 L162.31 688.02 L162.95 689.43 L163.59 690.22 L164.23 691.04 L164.88 692.11 L165.52 693.33 L166.16 694.7 L166.8 696.09 L167.44 696.56 L168.09 697.4 L168.73 698.54 L169.37 699.92 L170.01 700.92 L170.66 702.77 L171.3 704.33 L171.94 705.21 L172.59 706.84 L173.23 708.43 L173.87 709.37 L174.51 710.43 L175.16 711.82 L175.8 712.75 L176.44 713.26 L177.08 715.11 L177.72 716.86 L178.37 718.87 L179.01 719.72 L179.65 720.72 L180.3 722.31 L180.94 723.69 L181.58 724.67 L182.22 726.04 L182.87 727.29 L183.51 728.07 L184.15 729.27 L184.79 730.96 L185.44 732.56 L186.08 733.72 L186.72 734.97 L187.36 736.64 L188 738.59 L188.65 739.84 L189.29 740.93 L189.93 742.15 L190.57 743.41 L191.22 744.94 L191.86 746.73 L192.5 748.08 L193.14 749.13 L193.79 749.71 L194.43 751.03 L195.07 752.22 L195.72 753.37 L196.36 754.96 L197 756.43 L197.64 757.48 L198.28 758.4 L198.93 759.21 L199.57 760.62 L200.21 762.26 L200.85 763.18 L201.5 764.37 L202.14 765.95 L202.78 767.19 L203.43 768.55 L204.07 769.35 L204.71 770.56 L205.35 771.94 L206 772.89 L206.64 773.75 L207.28 774.87 L207.92 775.76 L208.56 776.79 L209.21 778.1 L209.85 778.9 L210.49 779.44 L211.14 780.81 L211.78 782.12 L212.42 783.08 L213.06 784.12 L213.7 784.67 L214.35 785.56 L214.99 786.43 L215.63 787.41 L216.27 788.44 L216.92 789.35 L217.56 790.49 L218.2 791.7 L218.84 792.73 L219.49 793.7 L220.13 794.7 L220.77 795.04 L221.41 796.29 L222.06 797.16 L222.7 798.24 L223.34 799.21 L223.98 799.71 L224.63 800.46 L225.27 801.23 L225.91 801.99 L226.56 802.95 L227.2 803.63 L227.84 804.41 L228.48 805.38 L229.12 806.17 L229.77 806.81 L230.41 807.63 L231.05 808.58 L231.69 809.68 L232.34 810.06 L232.98 810.59 L233.62 811.35 L234.27 811.88 L234.91 812.33 L235.55 813.21 L236.19 813.97 L236.84 814.86 L237.48 815.56 L238.12 816.13 L238.76 816.74 L239.41 817.23 L240.05 817.87 L240.69 818.43 L241.33 819.19 L241.98 819.79 L242.62 820.18 L243.26 820.69 L243.9 821.16 L244.55 821.62 L245.19 821.98 L245.83 822.19 L246.47 822.57 L247.11 823.22 L247.76 823.82 L248.4 824.19 L249.04 825.12 L249.69 825.7 L250.33 825.77 L250.97 826.13 L251.61 826.58 L252.25 827.07 L252.9 827.74 L253.54 828.01 L254.18 827.97 L254.82 828.35 L255.47 828.89 L256.11 829.07 L256.75 829.77 L257.39 830.16 L258.04 830.42 L258.68 830.92 L259.32 831.21 L259.97 831.46 L260.61 831.74 L261.25 831.88 L261.89 832.27 L262.53 832.85 L263.18 833.13 L263.82 833.29 L264.46 833.62 L265.11 833.97 L265.75 834.08 L266.39 834.32 L267.03 834.73 L267.68 834.99 L268.32 835.56 L268.96 835.84 L269.6 835.85 L270.25 836.21 L270.89 836.53 L271.53 836.7 L272.17 836.92 L272.81 837.13 L273.46 837.54 L274.1 837.52 L274.74 837.32 L275.38 837.94 L276.03 838.5 L276.67 838.45 L277.31 838.51 L277.95 838.67 L278.6 839.06 L279.24 839.34 L279.88 839.32 L280.52 839.63 L281.17 840.1 L281.81 840.09 L282.45 840.23 L283.1 840.33 L283.74 840.6 L284.38 840.71 L285.02 840.89 L285.66 841.06 L286.31 841.31 L286.95 841.54 L287.59 841.62 L288.24 841.69 L288.88 841.79 L289.52 841.84 L290.16 842.09 L290.81 842.2 L291.45 842.22 L292.09 842.55 L292.73 842.76 L293.38 842.99 L294.02 843.01 L294.66 842.95 L295.3 843.12 L295.94 843.25 L296.59 843.65 L297.23 843.84 L297.87 843.8 L298.51 843.86 L299.16 843.57 L299.8 843.78 L300.44 844.21 L301.09 844.29 L301.73 844.34 L302.37 844.34 L303.01 844.4 L303.65 844.35 L304.3 844.39 L304.94 844.7 L305.58 844.89 L306.23 844.81 L306.87 844.83 L307.51 844.81 L308.15 844.93 L308.8 844.92 L309.44 845 L310.08 845.12 L310.72 845.15 L311.37 844.95 L312.01 844.75 L312.65 844.93 L313.29 845.09 L313.94 845.04 L314.58 845.12 L315.22 845.24 L315.86 845.02 L316.5 844.84 L317.15 845.03 L317.79 845.1 L318.43 844.83 L319.07 844.58 L319.72 844.58 L320.36 844.5 L321 844.3 L321.64 844.31 L322.29 844.42 L322.93 844.5 L323.57 844.44 L324.22 844.35 L324.86 844.25 L325.5 844.35" fill="none" stroke="#0000ff" stroke-width="2.5" stroke-linejoin="round" stroke-linecap="round"/>
</g>
<path d="M68.5 643.5 L68.5 849.5 L325.5 849.5 L325.5 643.5 Z" fill="none" stroke="#0c0c0c" stroke-width="1"/>
<line x1="68.5" y1="849.5" x2="68.5" y2="853.2" stroke="#0c0c0c" stroke-width="1" />
<text class="ss" x="68.5" y="862.4" font-size="8.35" text-anchor="middle" stroke="#000" stroke-width="0.3">400</text>
<line x1="132.75" y1="849.5" x2="132.75" y2="853.2" stroke="#0c0c0c" stroke-width="1" />
<text class="ss" x="132.75" y="862.4" font-size="8.35" text-anchor="middle" stroke="#000" stroke-width="0.3">500</text>
<line x1="197" y1="849.5" x2="197" y2="853.2" stroke="#0c0c0c" stroke-width="1" />
<text class="ss" x="197" y="862.4" font-size="8.35" text-anchor="middle" stroke="#000" stroke-width="0.3">600</text>
<line x1="261.25" y1="849.5" x2="261.25" y2="853.2" stroke="#0c0c0c" stroke-width="1" />
<text class="ss" x="261.25" y="862.4" font-size="8.35" text-anchor="middle" stroke="#000" stroke-width="0.3">700</text>
<line x1="325.5" y1="849.5" x2="325.5" y2="853.2" stroke="#0c0c0c" stroke-width="1" />
<text class="ss" x="325.5" y="862.4" font-size="8.35" text-anchor="middle" stroke="#000" stroke-width="0.3">800</text>
<line x1="100.62" y1="849.5" x2="100.62" y2="851.2" stroke="#0c0c0c" stroke-width="1" />
<line x1="164.88" y1="849.5" x2="164.88" y2="851.2" stroke="#0c0c0c" stroke-width="1" />
<line x1="229.12" y1="849.5" x2="229.12" y2="851.2" stroke="#0c0c0c" stroke-width="1" />
<line x1="293.38" y1="849.5" x2="293.38" y2="851.2" stroke="#0c0c0c" stroke-width="1" />
<line x1="68.5" y1="849.5" x2="64.8" y2="849.5" stroke="#0c0c0c" stroke-width="1" />
<text class="ss" x="61.8" y="852.67" font-size="8.35" text-anchor="end" stroke="#000" stroke-width="0.3">0.0</text>
<line x1="68.5" y1="808.2" x2="64.8" y2="808.2" stroke="#0c0c0c" stroke-width="1" />
<text class="ss" x="61.8" y="811.37" font-size="8.35" text-anchor="end" stroke="#000" stroke-width="0.3">5.0×10<tspan dy="-0.44em" font-size="70%">4</tspan></text>
<line x1="68.5" y1="766.9" x2="64.8" y2="766.9" stroke="#0c0c0c" stroke-width="1" />
<text class="ss" x="61.8" y="770.07" font-size="8.35" text-anchor="end" stroke="#000" stroke-width="0.3">1.0×10<tspan dy="-0.44em" font-size="70%">5</tspan></text>
<line x1="68.5" y1="725.6" x2="64.8" y2="725.6" stroke="#0c0c0c" stroke-width="1" />
<text class="ss" x="61.8" y="728.77" font-size="8.35" text-anchor="end" stroke="#000" stroke-width="0.3">1.5×10<tspan dy="-0.44em" font-size="70%">5</tspan></text>
<line x1="68.5" y1="684.3" x2="64.8" y2="684.3" stroke="#0c0c0c" stroke-width="1" />
<text class="ss" x="61.8" y="687.47" font-size="8.35" text-anchor="end" stroke="#000" stroke-width="0.3">2.0×10<tspan dy="-0.44em" font-size="70%">5</tspan></text>
<line x1="68.5" y1="643" x2="64.8" y2="643" stroke="#0c0c0c" stroke-width="1" />
<text class="ss" x="61.8" y="646.17" font-size="8.35" text-anchor="end" stroke="#000" stroke-width="0.3">2.5×10<tspan dy="-0.44em" font-size="70%">5</tspan></text>
<line x1="68.5" y1="828.85" x2="66.8" y2="828.85" stroke="#0c0c0c" stroke-width="1" />
<line x1="68.5" y1="787.55" x2="66.8" y2="787.55" stroke="#0c0c0c" stroke-width="1" />
<line x1="68.5" y1="746.25" x2="66.8" y2="746.25" stroke="#0c0c0c" stroke-width="1" />
<line x1="68.5" y1="704.95" x2="66.8" y2="704.95" stroke="#0c0c0c" stroke-width="1" />
<line x1="68.5" y1="663.65" x2="66.8" y2="663.65" stroke="#0c0c0c" stroke-width="1" />
<line x1="325.5" y1="849.5" x2="329.2" y2="849.5" stroke="#0c0c0c" stroke-width="1" />
<text class="ss" x="332.2" y="852.67" font-size="8.35" stroke="#000" stroke-width="0.3">0.0</text>
<line x1="325.5" y1="817.8" x2="329.2" y2="817.8" stroke="#0c0c0c" stroke-width="1" />
<text class="ss" x="332.2" y="820.97" font-size="8.35" stroke="#000" stroke-width="0.3">5.0×10<tspan dy="-0.44em" font-size="70%">5</tspan></text>
<line x1="325.5" y1="786.1" x2="329.2" y2="786.1" stroke="#0c0c0c" stroke-width="1" />
<text class="ss" x="332.2" y="789.27" font-size="8.35" stroke="#000" stroke-width="0.3">1.0×10<tspan dy="-0.44em" font-size="70%">6</tspan></text>
<line x1="325.5" y1="754.4" x2="329.2" y2="754.4" stroke="#0c0c0c" stroke-width="1" />
<text class="ss" x="332.2" y="757.57" font-size="8.35" stroke="#000" stroke-width="0.3">1.5×10<tspan dy="-0.44em" font-size="70%">6</tspan></text>
<line x1="325.5" y1="722.7" x2="329.2" y2="722.7" stroke="#0c0c0c" stroke-width="1" />
<text class="ss" x="332.2" y="725.87" font-size="8.35" stroke="#000" stroke-width="0.3">2.0×10<tspan dy="-0.44em" font-size="70%">6</tspan></text>
<line x1="325.5" y1="691" x2="329.2" y2="691" stroke="#0c0c0c" stroke-width="1" />
<text class="ss" x="332.2" y="694.17" font-size="8.35" stroke="#000" stroke-width="0.3">2.5×10<tspan dy="-0.44em" font-size="70%">6</tspan></text>
<line x1="325.5" y1="659.3" x2="329.2" y2="659.3" stroke="#0c0c0c" stroke-width="1" />
<text class="ss" x="332.2" y="662.47" font-size="8.35" stroke="#000" stroke-width="0.3">3.0×10<tspan dy="-0.44em" font-size="70%">6</tspan></text>
<line x1="325.5" y1="833.65" x2="327.2" y2="833.65" stroke="#0c0c0c" stroke-width="1" />
<line x1="325.5" y1="801.95" x2="327.2" y2="801.95" stroke="#0c0c0c" stroke-width="1" />
<line x1="325.5" y1="770.25" x2="327.2" y2="770.25" stroke="#0c0c0c" stroke-width="1" />
<line x1="325.5" y1="738.55" x2="327.2" y2="738.55" stroke="#0c0c0c" stroke-width="1" />
<line x1="325.5" y1="706.85" x2="327.2" y2="706.85" stroke="#0c0c0c" stroke-width="1" />
<line x1="325.5" y1="675.15" x2="327.2" y2="675.15" stroke="#0c0c0c" stroke-width="1" />
<line x1="325.5" y1="643.45" x2="327.2" y2="643.45" stroke="#0c0c0c" stroke-width="1" />
<text class="ss" x="71" y="637.4" font-size="10.63" stroke="#000" stroke-width="0.3" textLength="129.4" lengthAdjust="spacingAndGlyphs">Active layer: 4e:PVK:PBD</text>
<text class="sf" x="189.6" y="878.8" font-size="11" text-anchor="middle" stroke="#000" stroke-width="0.3" textLength="84.3" lengthAdjust="spacingAndGlyphs">Wevelength [nm]</text>
<text class="sf" x="20.9" y="734.6" font-size="11.4" text-anchor="middle" stroke="#000" stroke-width="0.3" transform="rotate(-90 20.9 734.6)" textLength="85" lengthAdjust="spacingAndGlyphs">Intensity [counts]</text>
<text class="sf" x="367.4" y="742.6" font-size="11.4" text-anchor="middle" stroke="#000" stroke-width="0.3" transform="rotate(90 367.4 742.6)" textLength="85.4" lengthAdjust="spacingAndGlyphs">Intensity [counts]</text>
<line x1="136.4" y1="658.4" x2="188.16" y2="658.4" stroke="#111" stroke-width="1" />
<path d="M191.8 658.4 L186.6 656.9 L186.6 659.9 Z" fill="#111"/>
<text class="ss" x="238.4" y="658.8" font-size="10.66" stroke="#000" stroke-width="0.3" textLength="56.1" lengthAdjust="spacingAndGlyphs">4e content:</text>
<line x1="237.1" y1="671.2" x2="261" y2="671.2" stroke="#000" stroke-width="2" />
<text class="ss" x="264.1" y="675.04" font-size="10.66" stroke="#000" stroke-width="0.3" textLength="27.01" lengthAdjust="spacingAndGlyphs">1wt%</text>
<line x1="237.1" y1="684.7" x2="261" y2="684.7" stroke="#f00" stroke-width="2" />
<text class="ss" x="264.1" y="688.54" font-size="10.66" stroke="#000" stroke-width="0.3" textLength="27.01" lengthAdjust="spacingAndGlyphs">2wt%</text>
<line x1="237.1" y1="698" x2="261" y2="698" stroke="#00f" stroke-width="2" />
<text class="ss" x="264.1" y="701.84" font-size="10.66" stroke="#000" stroke-width="0.3" textLength="33.12" lengthAdjust="spacingAndGlyphs">15wt%</text>
<text class="sf" x="174" y="613.8" font-size="18" text-anchor="middle" stroke="#000" stroke-width="0.3">(e)</text>
</g>
<g id="pf">
<clipPath id="clf"><rect x="444.5" y="640.5" width="258.2" height="210"/></clipPath>
<g clip-path="url(#clf)">
<path d="M444.5 849.5 L445.13 849.5 L445.75 849.5 L446.38 849.46 L447.01 849.5 L447.63 849.5 L448.26 849.49 L448.89 849.5 L449.51 849.5 L450.14 849.5 L450.77 849.32 L451.4 849.15 L452.02 849.35 L452.65 849.48 L453.28 849.37 L453.9 849.39 L454.53 849.3 L455.16 849.19 L455.78 849.32 L456.41 849.32 L457.04 849.34 L457.66 849.24 L458.29 849.19 L458.92 849.27 L459.54 849.2 L460.17 849.13 L460.8 849.15 L461.42 849.19 L462.05 849.12 L462.68 848.87 L463.3 848.6 L463.93 848.33 L464.56 848.64 L465.19 848.3 L465.81 847.86 L466.44 847.5 L467.07 847.4 L467.69 847.36 L468.32 846.96 L468.95 846.53 L469.57 846.25 L470.2 845.92 L470.83 845.77 L471.45 844.81 L472.08 844.31 L472.71 844.23 L473.33 843.74 L473.96 843.41 L474.59 843.13 L475.21 842.43 L475.84 841.77 L476.47 841.59 L477.1 841.23 L477.72 840.66 L478.35 839.98 L478.98 839.45 L479.6 839.4 L480.23 838.88 L480.86 838.65 L481.48 838.77 L482.11 838.14 L482.74 837.53 L483.36 837.08 L483.99 836.86 L484.62 837.02 L485.24 836.38 L485.87 836.18 L486.5 836.02 L487.12 835.17 L487.75 834.78 L488.38 834.8 L489 834.36 L489.63 834.33 L490.26 834.23 L490.89 834.08 L491.51 833.6 L492.14 834.29 L492.77 833.67 L493.39 833.3 L494.02 833.83 L494.65 833.42 L495.27 832.99 L495.9 832.55 L496.53 832.43 L497.15 833.01 L497.78 833.17 L498.41 832.3 L499.03 832.18 L499.66 832.65 L500.29 832.53 L500.91 832.37 L501.54 832.32 L502.17 832.27 L502.8 832.25 L503.42 832.87 L504.05 832.35 L504.68 832.34 L505.3 832.49 L505.93 832.52 L506.56 833.21 L507.18 832.55 L507.81 832.65 L508.44 833.15 L509.06 832.94 L509.69 832.77 L510.32 832.03 L510.94 832.21 L511.57 833 L512.2 833.64 L512.82 833.8 L513.45 833.83 L514.08 834.04 L514.7 834.28 L515.33 834.32 L515.96 834.37 L516.59 834.6 L517.21 834.89 L517.84 834.79 L518.47 834.3 L519.09 835.38 L519.72 835.7 L520.35 835.44 L520.97 835.63 L521.6 835.59 L522.23 835.5 L522.85 835.51 L523.48 835.95 L524.11 836.46 L524.73 836.39 L525.36 837.01 L525.99 836.93 L526.61 837.03 L527.24 837.17 L527.87 836.88 L528.5 836.91 L529.12 836.96 L529.75 837.45 L530.38 837.1 L531 837.09 L531.63 837.47 L532.26 837.94 L532.88 837.95 L533.51 838.36 L534.14 838.18 L534.76 836.92 L535.39 837.07 L536.02 837.36 L536.64 837.92 L537.27 837.88 L537.9 837.86 L538.52 838.03 L539.15 838.33 L539.78 838.72 L540.4 839.11 L541.03 838.59 L541.66 838.4 L542.29 838.43 L542.91 838.66 L543.54 838.5 L544.17 839.11 L544.79 839.42 L545.42 839.08 L546.05 839.44 L546.67 839.75 L547.3 839.45 L547.93 839.26 L548.55 839.41 L549.18 839.13 L549.81 838.47 L550.43 839.08 L551.06 839.61 L551.69 840.4 L552.31 840.11 L552.94 839.97 L553.57 840.39 L554.2 840.6 L554.82 840.45 L555.45 840.65 L556.08 840.72 L556.7 840.34 L557.33 840.32 L557.96 840.75 L558.58 841.05 L559.21 840.93 L559.84 840.87 L560.46 841.17 L561.09 841.74 L561.72 841.66 L562.34 841.44 L562.97 841.37 L563.6 841.37 L564.22 841.65 L564.85 842.21 L565.48 842.39 L566.1 842.3 L566.73 841.78 L567.36 841.99 L567.99 842.07 L568.61 842.1 L569.24 842.55 L569.87 842.88 L570.49 842.81 L571.12 842.61 L571.75 842.28 L572.37 842.53 L573 843 L573.63 842.78 L574.25 842.83 L574.88 843.25 L575.51 843.36 L576.13 843.59 L576.76 843.31 L577.39 843.43 L578.01 843.74 L578.64 843.65 L579.27 843.49 L579.9 843.59 L580.52 843.48 L581.15 843.52 L581.78 843.85 L582.4 843.69 L583.03 843.28 L583.66 843.69 L584.28 844.06 L584.91 844.09 L585.54 844.2 L586.16 843.84 L586.79 843.82 L587.42 843.78 L588.04 843.85 L588.67 843.99 L589.3 844 L589.92 844.25 L590.55 844.58 L591.18 844.73 L591.8 844.83 L592.43 844.97 L593.06 844.46 L593.69 844.85 L594.31 844.89 L594.94 845.14 L595.57 845.29 L596.19 844.97 L596.82 844.9 L597.45 844.88 L598.07 844.84 L598.7 845.01 L599.33 844.91 L599.95 844.91 L600.58 845.13 L601.21 845.16 L601.83 845.05 L602.46 845.13 L603.09 845.37 L603.71 845.78 L604.34 845.45 L604.97 845.29 L605.6 845.38 L606.22 845.24 L606.85 845.05 L607.48 845.32 L608.1 845.48 L608.73 845.8 L609.36 845.92 L609.98 845.91 L610.61 845.97 L611.24 845.89 L611.86 846 L612.49 846.03 L613.12 846.29 L613.74 846.39 L614.37 846.27 L615 846.29 L615.62 846.26 L616.25 846.24 L616.88 846.12 L617.5 845.83 L618.13 845.75 L618.76 845.97 L619.39 846.14 L620.01 846.07 L620.64 846.62 L621.27 846.8 L621.89 846.42 L622.52 846.36 L623.15 846.42 L623.77 846.53 L624.4 846.85 L625.03 846.73 L625.65 846.27 L626.28 846.29 L626.91 846.5 L627.53 846.32 L628.16 846.72 L628.79 846.79 L629.41 846.7 L630.04 846.91 L630.67 846.87 L631.3 846.8 L631.92 846.77 L632.55 846.58 L633.18 846.68 L633.8 847.01 L634.43 847.01 L635.06 846.85 L635.68 846.91 L636.31 847.01 L636.94 846.82 L637.56 846.78 L638.19 846.96 L638.82 846.95 L639.44 847.33 L640.07 847.37 L640.7 847.07 L641.32 847.22 L641.95 847.31 L642.58 847.22 L643.2 847.21 L643.83 847.18 L644.46 847.4 L645.09 847.11 L645.71 846.59 L646.34 847.08 L646.97 847.5 L647.59 847.18 L648.22 847 L648.85 846.95 L649.47 847.19 L650.1 847.3 L650.73 847.03 L651.35 847.2 L651.98 847.56 L652.61 847.32 L653.23 847.28 L653.86 847.2 L654.49 847.33 L655.11 847.26 L655.74 847.29 L656.37 847.31 L657 847.43 L657.62 847.52 L658.25 847.44 L658.88 847.33 L659.5 847.28 L660.13 847.16 L660.76 847.3 L661.38 847.26 L662.01 847.13 L662.64 847.38 L663.26 847.5 L663.89 847.64 L664.52 847.51 L665.14 847.29 L665.77 847.37 L666.4 847.41 L667.02 847.81 L667.65 847.92 L668.28 847.75 L668.9 847.72 L669.53 847.21 L670.16 847.38 L670.79 847.84 L671.41 847.83 L672.04 847.79 L672.67 847.68 L673.29 847.66 L673.92 847.5 L674.55 847.46 L675.17 847.78 L675.8 847.95 L676.43 847.76 L677.05 847.72 L677.68 847.62 L678.31 847.72 L678.93 847.66 L679.56 847.73 L680.19 847.87 L680.81 847.89 L681.44 847.61 L682.07 847.34 L682.7 847.59 L683.32 847.81 L683.95 847.76 L684.58 847.9 L685.2 848.09 L685.83 847.84 L686.46 847.65 L687.08 847.95 L687.71 848.11 L688.34 847.81 L688.96 847.56 L689.59 847.64 L690.22 847.61 L690.84 847.44 L691.47 847.53 L692.1 847.78 L692.72 847.97 L693.35 847.98 L693.98 847.96 L694.6 847.91 L695.23 848.02 L695.86 847.8 L696.49 847.93 L697.11 848.03 L697.74 848.03 L698.37 848.37 L698.99 848.32 L699.62 848.15 L700.25 847.97 L700.87 848 L701.5 847.84" fill="none" stroke="#0000ff" stroke-width="2.5" stroke-linejoin="round" stroke-linecap="round"/>
<path d="M444.5 848.89 L445.13 849.01 L445.75 849.03 L446.38 848.93 L447.01 848.74 L447.63 848.72 L448.26 848.33 L448.89 848.24 L449.51 848.03 L450.14 847.76 L450.77 847.46 L451.4 847.45 L452.02 847.06 L452.65 846.56 L453.28 846.04 L453.9 845.73 L454.53 845.18 L455.16 844.55 L455.78 843.69 L456.41 842.78 L457.04 841.83 L457.66 840.34 L458.29 838.78 L458.92 837.07 L459.54 835.09 L460.17 833.03 L460.8 830.58 L461.42 827.94 L462.05 824.9 L462.68 821.63 L463.3 818.37 L463.93 814.72 L464.56 810.8 L465.19 806.61 L465.81 802.11 L466.44 797.46 L467.07 792.91 L467.69 787.89 L468.32 782.83 L468.95 778.36 L469.57 774.1 L470.2 769.74 L470.83 764.97 L471.45 759.9 L472.08 755.66 L472.71 751.46 L473.33 746.72 L473.96 741.97 L474.59 738.06 L475.21 733.97 L475.84 729.99 L476.47 726.28 L477.1 722.58 L477.72 718.58 L478.35 714.64 L478.98 710.73 L479.6 707.05 L480.23 703.65 L480.86 700.48 L481.48 697.32 L482.11 694.47 L482.74 691.08 L483.36 688.33 L483.99 685.88 L484.62 683.23 L485.24 680.84 L485.87 678.28 L486.5 675.94 L487.12 674.22 L487.75 673.66 L488.38 672.4 L489 670.56 L489.63 668.81 L490.26 667.36 L490.89 666.68 L491.51 666.44 L492.14 665.2 L492.77 664.03 L493.39 663.54 L494.02 663.18 L494.65 663.27 L495.27 663.31 L495.9 663.31 L496.53 663.54 L497.15 664.08 L497.78 664.83 L498.41 665.7 L499.03 666.26 L499.66 667 L500.29 667.64 L500.91 668.66 L501.54 670.2 L502.17 671.75 L502.8 673.06 L503.42 674.08 L504.05 675.47 L504.68 676.95 L505.3 678.26 L505.93 679.58 L506.56 680.6 L507.18 681.87 L507.81 682.74 L508.44 683.99 L509.06 685.39 L509.69 686.98 L510.32 687.89 L510.94 688.98 L511.57 690.66 L512.2 691.88 L512.82 693.21 L513.45 694.85 L514.08 695.86 L514.7 697.2 L515.33 699.13 L515.96 700.72 L516.59 702.64 L517.21 704.28 L517.84 706.08 L518.47 707.22 L519.09 708.99 L519.72 711.09 L520.35 713 L520.97 714.24 L521.6 716.11 L522.23 718.8 L522.85 720.11 L523.48 721.71 L524.11 724.08 L524.73 726.3 L525.36 727.74 L525.99 729.64 L526.61 731.65 L527.24 733.39 L527.87 734.58 L528.5 736.11 L529.12 738 L529.75 739.55 L530.38 741.28 L531 742.48 L531.63 744.03 L532.26 745.62 L532.88 746.96 L533.51 748.09 L534.14 749.42 L534.76 750.87 L535.39 752.32 L536.02 753.61 L536.64 754.77 L537.27 756.03 L537.9 757.26 L538.52 758.88 L539.15 760.42 L539.78 760.75 L540.4 761.45 L541.03 763.01 L541.66 764.44 L542.29 765.61 L542.91 766.71 L543.54 767.87 L544.17 769.18 L544.79 770.24 L545.42 771.27 L546.05 772.09 L546.67 773.09 L547.3 774.02 L547.93 775.04 L548.55 775.88 L549.18 776.8 L549.81 777.69 L550.43 779.41 L551.06 780.26 L551.69 780.59 L552.31 781.22 L552.94 782.67 L553.57 783.75 L554.2 784.57 L554.82 785.23 L555.45 786.3 L556.08 787.15 L556.7 788.24 L557.33 789.27 L557.96 789.79 L558.58 790.39 L559.21 791.12 L559.84 792.22 L560.46 793.15 L561.09 793.72 L561.72 794.46 L562.34 795.25 L562.97 795.97 L563.6 796.5 L564.22 797.17 L564.85 797.64 L565.48 798.42 L566.1 799.41 L566.73 800.44 L567.36 800.78 L567.99 801.26 L568.61 801.8 L569.24 802.44 L569.87 803.26 L570.49 803.8 L571.12 804.43 L571.75 804.81 L572.37 805.95 L573 806.84 L573.63 807.36 L574.25 807.77 L574.88 808.1 L575.51 808.18 L576.13 809.05 L576.76 809.78 L577.39 809.98 L578.01 810.72 L578.64 811.33 L579.27 811.45 L579.9 811.92 L580.52 812.5 L581.15 812.75 L581.78 813.24 L582.4 813.55 L583.03 814.05 L583.66 814.45 L584.28 815.19 L584.91 815.73 L585.54 815.71 L586.16 816.46 L586.79 817.04 L587.42 817.5 L588.04 817.82 L588.67 818.11 L589.3 818.48 L589.92 818.73 L590.55 819.02 L591.18 819.8 L591.8 820.54 L592.43 820.97 L593.06 821.34 L593.69 821.74 L594.31 821.82 L594.94 822.29 L595.57 822.7 L596.19 823.1 L596.82 823.67 L597.45 823.93 L598.07 823.97 L598.7 824.3 L599.33 824.69 L599.95 824.87 L600.58 825.56 L601.21 825.88 L601.83 826.26 L602.46 826.73 L603.09 826.43 L603.71 826.81 L604.34 827.26 L604.97 827.17 L605.6 827.54 L606.22 828 L606.85 828.44 L607.48 828.75 L608.1 829.14 L608.73 829.19 L609.36 829.51 L609.98 829.72 L610.61 829.85 L611.24 830.23 L611.86 830.57 L612.49 830.91 L613.12 831.27 L613.74 831.31 L614.37 831.42 L615 831.78 L615.62 832.18 L616.25 832.73 L616.88 833.12 L617.5 833.33 L618.13 833.26 L618.76 833.52 L619.39 833.7 L620.01 834.2 L620.64 834.47 L621.27 834.56 L621.89 834.69 L622.52 835.01 L623.15 835.27 L623.77 835.52 L624.4 835.8 L625.03 836.15 L625.65 836.27 L626.28 836.46 L626.91 836.64 L627.53 836.82 L628.16 837.16 L628.79 837.35 L629.41 837.52 L630.04 837.61 L630.67 837.82 L631.3 838.19 L631.92 838.17 L632.55 838.25 L633.18 838.87 L633.8 839.15 L634.43 839.29 L635.06 839.29 L635.68 839.25 L636.31 839.61 L636.94 839.9 L637.56 839.98 L638.19 840.18 L638.82 840.19 L639.44 840.33 L640.07 840.47 L640.7 840.7 L641.32 840.52 L641.95 840.82 L642.58 841.13 L643.2 841.41 L643.83 841.69 L644.46 841.85 L645.09 841.92 L645.71 842.07 L646.34 842.13 L646.97 842.31 L647.59 842.28 L648.22 842.37 L648.85 842.63 L649.47 842.64 L650.1 842.82 L650.73 842.85 L651.35 842.99 L651.98 843.15 L652.61 843.49 L653.23 843.52 L653.86 843.48 L654.49 843.87 L655.11 844.26 L655.74 844.45 L656.37 844.61 L657 844.62 L657.62 844.41 L658.25 844.29 L658.88 844.51 L659.5 844.61 L660.13 844.72 L660.76 844.83 L661.38 844.94 L662.01 845.02 L662.64 845.1 L663.26 845.28 L663.89 845.16 L664.52 845.21 L665.14 845.4 L665.77 845.47 L666.4 845.69 L667.02 845.78 L667.65 845.78 L668.28 845.89 L668.9 846.02 L669.53 846.13 L670.16 846.14 L670.79 846.15 L671.41 846.42 L672.04 846.36 L672.67 846.37 L673.29 846.35 L673.92 846.54 L674.55 846.87 L675.17 846.66 L675.8 846.62 L676.43 846.73 L677.05 846.79 L677.68 846.74 L678.31 846.78 L678.93 846.64 L679.56 846.67 L680.19 846.68 L680.81 847.03 L681.44 847.18 L682.07 846.95 L682.7 846.9 L683.32 847.07 L683.95 847.27 L684.58 847.18 L685.2 847.07 L685.83 847.14 L686.46 847.19 L687.08 847.24 L687.71 847.34 L688.34 847.37 L688.96 847.35 L689.59 847.12 L690.22 847.24 L690.84 847.29 L691.47 847.37 L692.1 847.34 L692.72 847.48 L693.35 847.31 L693.98 847.24 L694.6 847.18 L695.23 847.44 L695.86 847.41 L696.49 847.3 L697.11 847.26 L697.74 847.41 L698.37 847.5 L698.99 847.69 L699.62 847.58 L700.25 847.36 L700.87 847.29 L701.5 847.42" fill="none" stroke="#000" stroke-width="2.5" stroke-linejoin="round" stroke-linecap="round"/>
<path d="M444.5 848.84 L445.13 848.89 L445.75 848.98 L446.38 849.06 L447.01 848.87 L447.63 848.7 L448.26 848.55 L448.89 848.42 L449.51 848.22 L450.14 848.08 L450.77 847.9 L451.4 847.43 L452.02 847.04 L452.65 846.68 L453.28 846.5 L453.9 846.21 L454.53 845.82 L455.16 845.31 L455.78 844.51 L456.41 843.95 L457.04 843.17 L457.66 841.94 L458.29 840.48 L458.92 839.18 L459.54 837.71 L460.17 835.72 L460.8 833.36 L461.42 831.05 L462.05 828.54 L462.68 825.54 L463.3 822.08 L463.93 818.5 L464.56 815.18 L465.19 811.14 L465.81 806.82 L466.44 802.42 L467.07 797.42 L467.69 792.29 L468.32 786.99 L468.95 782.33 L469.57 777.73 L470.2 772.49 L470.83 767.81 L471.45 763.33 L472.08 758.36 L472.71 753.55 L473.33 748.9 L473.96 744.34 L474.59 740.27 L475.21 735.45 L475.84 730.64 L476.47 726.37 L477.1 722.23 L477.72 718.2 L478.35 714.49 L478.98 711.32 L479.6 707.63 L480.23 704.63 L480.86 701.25 L481.48 697.91 L482.11 693.85 L482.74 690.5 L483.36 687.78 L483.99 684.75 L484.62 682.61 L485.24 680.15 L485.87 677.91 L486.5 676.06 L487.12 673.58 L487.75 671.43 L488.38 670.38 L489 668.64 L489.63 667.12 L490.26 665.41 L490.89 664.4 L491.51 663.4 L492.14 662.46 L492.77 661.94 L493.39 661.54 L494.02 660.58 L494.65 660.73 L495.27 660.39 L495.9 660.42 L496.53 661.17 L497.15 661.48 L497.78 661.9 L498.41 663.18 L499.03 664.82 L499.66 666.44 L500.29 667.07 L500.91 667.9 L501.54 669.13 L502.17 670.44 L502.8 671.51 L503.42 673.03 L504.05 674.3 L504.68 675.57 L505.3 677.32 L505.93 678.39 L506.56 678.97 L507.18 680.66 L507.81 682.66 L508.44 683.67 L509.06 684.5 L509.69 685.57 L510.32 687.18 L510.94 688.82 L511.57 690.1 L512.2 691.04 L512.82 692.46 L513.45 694.14 L514.08 695.6 L514.7 697.01 L515.33 698.36 L515.96 700.14 L516.59 701.5 L517.21 702.94 L517.84 704.84 L518.47 706.78 L519.09 708.2 L519.72 710.27 L520.35 712.09 L520.97 714.3 L521.6 716.41 L522.23 717.81 L522.85 719.53 L523.48 721.5 L524.11 723.38 L524.73 725.46 L525.36 727.31 L525.99 728.69 L526.61 729.83 L527.24 731.75 L527.87 733.78 L528.5 735.31 L529.12 737.08 L529.75 738.6 L530.38 739.88 L531 741.74 L531.63 743.58 L532.26 744.79 L532.88 745.82 L533.51 746.97 L534.14 748.15 L534.76 749.75 L535.39 750.82 L536.02 752.06 L536.64 753.36 L537.27 754.37 L537.9 755.67 L538.52 757.04 L539.15 757.98 L539.78 759.42 L540.4 760.39 L541.03 761.35 L541.66 762.42 L542.29 763.7 L542.91 764.69 L543.54 765.61 L544.17 766.53 L544.79 767.86 L545.42 768.84 L546.05 769.96 L546.67 770.92 L547.3 771.23 L547.93 772.69 L548.55 774.01 L549.18 774.56 L549.81 775.76 L550.43 776.49 L551.06 777.29 L551.69 778.5 L552.31 779.46 L552.94 780.3 L553.57 781.18 L554.2 782.32 L554.82 783.09 L555.45 783.52 L556.08 784 L556.7 784.71 L557.33 785.35 L557.96 786.38 L558.58 787.47 L559.21 788.36 L559.84 789.4 L560.46 790 L561.09 790.49 L561.72 790.8 L562.34 791.32 L562.97 792.15 L563.6 792.88 L564.22 793.52 L564.85 793.74 L565.48 794.02 L566.1 794.51 L566.73 795.04 L567.36 795.03 L567.99 795.58 L568.61 796.45 L569.24 797.13 L569.87 797.6 L570.49 798.02 L571.12 798.53 L571.75 798.97 L572.37 799.39 L573 799.83 L573.63 800.5 L574.25 801.33 L574.88 801.95 L575.51 802.66 L576.13 803.15 L576.76 803.35 L577.39 804.05 L578.01 804.39 L578.64 805.19 L579.27 805.67 L579.9 806.02 L580.52 806.64 L581.15 807.15 L581.78 807.74 L582.4 808.26 L583.03 808.69 L583.66 809.05 L584.28 809.17 L584.91 809.68 L585.54 810.14 L586.16 811.15 L586.79 811.28 L587.42 811.45 L588.04 811.9 L588.67 812.12 L589.3 812.58 L589.92 813.15 L590.55 813.31 L591.18 813.35 L591.8 814.09 L592.43 814.69 L593.06 815.18 L593.69 815.59 L594.31 816.14 L594.94 816.22 L595.57 816.09 L596.19 816.59 L596.82 817.1 L597.45 817.35 L598.07 817.61 L598.7 818.07 L599.33 818.29 L599.95 818.8 L600.58 819.29 L601.21 819.66 L601.83 820.57 L602.46 820.78 L603.09 820.93 L603.71 821.39 L604.34 821.68 L604.97 822.06 L605.6 822.21 L606.22 822.05 L606.85 822.59 L607.48 823.08 L608.1 823.28 L608.73 823.73 L609.36 823.96 L609.98 824.22 L610.61 824.51 L611.24 825.16 L611.86 825.28 L612.49 825.64 L613.12 826.07 L613.74 826.15 L614.37 826.5 L615 826.53 L615.62 826.85 L616.25 827.2 L616.88 827.53 L617.5 827.86 L618.13 828.46 L618.76 828.6 L619.39 828.82 L620.01 829 L620.64 829.23 L621.27 829.49 L621.89 829.81 L622.52 829.68 L623.15 829.85 L623.77 830.5 L624.4 830.85 L625.03 830.98 L625.65 831.02 L626.28 831.28 L626.91 831.97 L627.53 832.3 L628.16 832.58 L628.79 832.86 L629.41 833.07 L630.04 833.07 L630.67 833.28 L631.3 833.17 L631.92 833.44 L632.55 833.99 L633.18 834.28 L633.8 834.31 L634.43 834.28 L635.06 834.77 L635.68 835.12 L636.31 835.1 L636.94 835.21 L637.56 835.43 L638.19 835.4 L638.82 835.69 L639.44 836 L640.07 836.36 L640.7 836.51 L641.32 836.8 L641.95 837.21 L642.58 837.23 L643.2 837.53 L643.83 837.64 L644.46 837.79 L645.09 837.62 L645.71 837.86 L646.34 838.05 L646.97 838.31 L647.59 838.87 L648.22 839.19 L648.85 839.06 L649.47 838.98 L650.1 839.17 L650.73 839.26 L651.35 839.47 L651.98 839.89 L652.61 839.81 L653.23 839.75 L653.86 840.25 L654.49 840.64 L655.11 840.61 L655.74 840.65 L656.37 840.74 L657 840.98 L657.62 841.15 L658.25 841.43 L658.88 841.21 L659.5 841.12 L660.13 841.41 L660.76 841.87 L661.38 842.05 L662.01 842.41 L662.64 842.26 L663.26 842.34 L663.89 842.55 L664.52 842.55 L665.14 842.59 L665.77 842.64 L666.4 842.81 L667.02 843.02 L667.65 843.36 L668.28 843.4 L668.9 843.31 L669.53 843.25 L670.16 843.25 L670.79 843.22 L671.41 843.49 L672.04 843.54 L672.67 843.52 L673.29 843.57 L673.92 843.59 L674.55 843.66 L675.17 843.57 L675.8 843.7 L676.43 843.69 L677.05 843.77 L677.68 843.8 L678.31 844.1 L678.93 844.08 L679.56 844.17 L680.19 844.15 L680.81 844.18 L681.44 844.52 L682.07 844.71 L682.7 844.7 L683.32 844.69 L683.95 844.89 L684.58 844.85 L685.2 845 L685.83 845.06 L686.46 844.97 L687.08 844.92 L687.71 845.05 L688.34 845.09 L688.96 845.07 L689.59 845.21 L690.22 845.45 L690.84 845.27 L691.47 845.1 L692.1 844.93 L692.72 844.85 L693.35 845.03 L693.98 845.23 L694.6 845.36 L695.23 845.26 L695.86 845.12 L696.49 845.14 L697.11 845.36 L697.74 845.29 L698.37 845.14 L698.99 845.06 L699.62 845.26 L700.25 845.44 L700.87 845.48 L701.5 845.43" fill="none" stroke="#ff0000" stroke-width="2.5" stroke-linejoin="round" stroke-linecap="round"/>
</g>
<path d="M444.5 642.5 L444.5 849.5 L701.5 849.5 L701.5 642.5 Z" fill="none" stroke="#0c0c0c" stroke-width="1"/>
<line x1="450.77" y1="849.5" x2="450.77" y2="853.2" stroke="#0c0c0c" stroke-width="1" />
<text class="sf" x="450.77" y="864.8" font-size="10.4" text-anchor="middle" stroke="#000" stroke-width="0.3">400</text>
<line x1="513.45" y1="849.5" x2="513.45" y2="853.2" stroke="#0c0c0c" stroke-width="1" />
<text class="sf" x="513.45" y="864.8" font-size="10.4" text-anchor="middle" stroke="#000" stroke-width="0.3">500</text>
<line x1="576.13" y1="849.5" x2="576.13" y2="853.2" stroke="#0c0c0c" stroke-width="1" />
<text class="sf" x="576.13" y="864.8" font-size="10.4" text-anchor="middle" stroke="#000" stroke-width="0.3">600</text>
<line x1="638.82" y1="849.5" x2="638.82" y2="853.2" stroke="#0c0c0c" stroke-width="1" />
<text class="sf" x="638.82" y="864.8" font-size="10.4" text-anchor="middle" stroke="#000" stroke-width="0.3">700</text>
<line x1="701.5" y1="849.5" x2="701.5" y2="853.2" stroke="#0c0c0c" stroke-width="1" />
<text class="sf" x="701.5" y="864.8" font-size="10.4" text-anchor="middle" stroke="#000" stroke-width="0.3">800</text>
<line x1="482.11" y1="849.5" x2="482.11" y2="851.2" stroke="#0c0c0c" stroke-width="1" />
<line x1="544.79" y1="849.5" x2="544.79" y2="851.2" stroke="#0c0c0c" stroke-width="1" />
<line x1="607.48" y1="849.5" x2="607.48" y2="851.2" stroke="#0c0c0c" stroke-width="1" />
<line x1="670.16" y1="849.5" x2="670.16" y2="851.2" stroke="#0c0c0c" stroke-width="1" />
<line x1="444.5" y1="849.5" x2="440.8" y2="849.5" stroke="#0c0c0c" stroke-width="1" />
<text class="sf" x="437.8" y="853.66" font-size="10.4" text-anchor="end" stroke="#000" stroke-width="0.3">0.0</text>
<line x1="444.5" y1="828.8" x2="440.8" y2="828.8" stroke="#0c0c0c" stroke-width="1" />
<text class="sf" x="437.8" y="832.96" font-size="10.4" text-anchor="end" stroke="#000" stroke-width="0.3">2.0×10<tspan dy="-0.44em" font-size="70%">3</tspan></text>
<line x1="444.5" y1="808.1" x2="440.8" y2="808.1" stroke="#0c0c0c" stroke-width="1" />
<text class="sf" x="437.8" y="812.26" font-size="10.4" text-anchor="end" stroke="#000" stroke-width="0.3">4.0×10<tspan dy="-0.44em" font-size="70%">3</tspan></text>
<line x1="444.5" y1="787.4" x2="440.8" y2="787.4" stroke="#0c0c0c" stroke-width="1" />
<text class="sf" x="437.8" y="791.56" font-size="10.4" text-anchor="end" stroke="#000" stroke-width="0.3">6.0×10<tspan dy="-0.44em" font-size="70%">3</tspan></text>
<line x1="444.5" y1="766.7" x2="440.8" y2="766.7" stroke="#0c0c0c" stroke-width="1" />
<text class="sf" x="437.8" y="770.86" font-size="10.4" text-anchor="end" stroke="#000" stroke-width="0.3">8.0×10<tspan dy="-0.44em" font-size="70%">3</tspan></text>
<line x1="444.5" y1="746" x2="440.8" y2="746" stroke="#0c0c0c" stroke-width="1" />
<text class="sf" x="437.8" y="750.16" font-size="10.4" text-anchor="end" stroke="#000" stroke-width="0.3">1.0×10<tspan dy="-0.44em" font-size="70%">4</tspan></text>
<line x1="444.5" y1="725.3" x2="440.8" y2="725.3" stroke="#0c0c0c" stroke-width="1" />
<text class="sf" x="437.8" y="729.46" font-size="10.4" text-anchor="end" stroke="#000" stroke-width="0.3">1.2×10<tspan dy="-0.44em" font-size="70%">4</tspan></text>
<line x1="444.5" y1="704.6" x2="440.8" y2="704.6" stroke="#0c0c0c" stroke-width="1" />
<text class="sf" x="437.8" y="708.76" font-size="10.4" text-anchor="end" stroke="#000" stroke-width="0.3">1.4×10<tspan dy="-0.44em" font-size="70%">4</tspan></text>
<line x1="444.5" y1="683.9" x2="440.8" y2="683.9" stroke="#0c0c0c" stroke-width="1" />
<text class="sf" x="437.8" y="688.06" font-size="10.4" text-anchor="end" stroke="#000" stroke-width="0.3">1.6×10<tspan dy="-0.44em" font-size="70%">4</tspan></text>
<line x1="444.5" y1="663.2" x2="440.8" y2="663.2" stroke="#0c0c0c" stroke-width="1" />
<text class="sf" x="437.8" y="667.36" font-size="10.4" text-anchor="end" stroke="#000" stroke-width="0.3">1.8×10<tspan dy="-0.44em" font-size="70%">4</tspan></text>
<line x1="444.5" y1="642.5" x2="440.8" y2="642.5" stroke="#0c0c0c" stroke-width="1" />
<text class="sf" x="437.8" y="646.66" font-size="10.4" text-anchor="end" stroke="#000" stroke-width="0.3">2.0×10<tspan dy="-0.44em" font-size="70%">4</tspan></text>
<line x1="444.5" y1="839.15" x2="442.8" y2="839.15" stroke="#0c0c0c" stroke-width="1" />
<line x1="444.5" y1="818.45" x2="442.8" y2="818.45" stroke="#0c0c0c" stroke-width="1" />
<line x1="444.5" y1="797.75" x2="442.8" y2="797.75" stroke="#0c0c0c" stroke-width="1" />
<line x1="444.5" y1="777.05" x2="442.8" y2="777.05" stroke="#0c0c0c" stroke-width="1" />
<line x1="444.5" y1="756.35" x2="442.8" y2="756.35" stroke="#0c0c0c" stroke-width="1" />
<line x1="444.5" y1="735.65" x2="442.8" y2="735.65" stroke="#0c0c0c" stroke-width="1" />
<line x1="444.5" y1="714.95" x2="442.8" y2="714.95" stroke="#0c0c0c" stroke-width="1" />
<line x1="444.5" y1="694.25" x2="442.8" y2="694.25" stroke="#0c0c0c" stroke-width="1" />
<line x1="444.5" y1="673.55" x2="442.8" y2="673.55" stroke="#0c0c0c" stroke-width="1" />
<line x1="444.5" y1="652.85" x2="442.8" y2="652.85" stroke="#0c0c0c" stroke-width="1" />
<text class="ss" x="449.7" y="638" font-size="10.56" stroke="#000" stroke-width="0.3" textLength="128.6" lengthAdjust="spacingAndGlyphs">Active layer: 4f:PVK:PBD</text>
<text class="sf" x="563.3" y="879.4" font-size="11" text-anchor="middle" stroke="#000" stroke-width="0.3" textLength="86" lengthAdjust="spacingAndGlyphs">Wevelength [nm]</text>
<text class="sf" x="393.1" y="734" font-size="11.4" text-anchor="middle" stroke="#000" stroke-width="0.3" transform="rotate(-90 393.1 734)" textLength="85.8" lengthAdjust="spacingAndGlyphs">Intensity [counts]</text>
<text class="ss" x="601.4" y="662" font-size="10.51" stroke="#000" stroke-width="0.3" textLength="54.6" lengthAdjust="spacingAndGlyphs">4f content:</text>
<line x1="598.4" y1="671.7" x2="622.9" y2="671.7" stroke="#000" stroke-width="2" />
<text class="ss" x="626.5" y="675.48" font-size="10.51" stroke="#000" stroke-width="0.3" textLength="26.62" lengthAdjust="spacingAndGlyphs">1wt%</text>
<line x1="598.4" y1="685.4" x2="622.9" y2="685.4" stroke="#f00" stroke-width="2" />
<text class="ss" x="626.5" y="689.18" font-size="10.51" stroke="#000" stroke-width="0.3" textLength="26.62" lengthAdjust="spacingAndGlyphs">2wt%</text>
<line x1="598.4" y1="698.7" x2="622.9" y2="698.7" stroke="#00f" stroke-width="2" />
<text class="ss" x="626.5" y="702.48" font-size="10.51" stroke="#000" stroke-width="0.3" textLength="32.64" lengthAdjust="spacingAndGlyphs">15wt%</text>
<text class="sf" x="528" y="614.2" font-size="18" text-anchor="middle" stroke="#000" stroke-width="0.3">(f)</text>
</g>
<g id="pg">
<clipPath id="clg"><rect x="229.5" y="935.5" width="259.7" height="211"/></clipPath>
<g clip-path="url(#clg)">
<path d="M229.5 1144.92 L230.13 1145.07 L230.76 1145.12 L231.39 1145.07 L232.02 1144.95 L232.65 1145.02 L233.28 1144.72 L233.91 1144.72 L234.54 1144.62 L235.17 1144.48 L235.8 1144.31 L236.44 1144.42 L237.07 1144.18 L237.7 1143.86 L238.33 1143.53 L238.96 1143.41 L239.59 1143.11 L240.22 1142.77 L240.85 1142.27 L241.48 1141.8 L242.11 1141.41 L242.74 1140.64 L243.37 1139.96 L244 1139.29 L244.63 1138.53 L245.26 1137.82 L245.89 1136.89 L246.52 1135.9 L247.15 1134.66 L247.78 1133.31 L248.41 1132.09 L249.05 1130.64 L249.68 1129.05 L250.31 1127.31 L250.94 1125.33 L251.57 1123.22 L252.2 1121.12 L252.83 1118.54 L253.46 1115.81 L254.09 1113.4 L254.72 1111.01 L255.35 1108.38 L255.98 1105.27 L256.61 1101.75 L257.24 1098.79 L257.87 1095.74 L258.5 1092.15 L259.13 1088.44 L259.76 1085.37 L260.39 1082.08 L261.02 1078.81 L261.65 1075.7 L262.29 1072.5 L262.92 1068.94 L263.55 1065.32 L264.18 1061.61 L264.81 1057.95 L265.44 1054.41 L266.07 1050.94 L266.7 1047.34 L267.33 1043.89 L267.96 1039.83 L268.59 1036.23 L269.22 1032.79 L269.85 1029.09 L270.48 1025.55 L271.11 1021.79 L271.74 1018.18 L272.37 1015.13 L273 1013.14 L273.63 1010.49 L274.26 1007.28 L274.9 1004.15 L275.53 1001.3 L276.16 999.2 L276.79 997.52 L277.42 994.9 L278.05 992.35 L278.68 990.43 L279.31 988.61 L279.94 987.18 L280.57 985.65 L281.2 984.02 L281.83 982.6 L282.46 981.48 L283.09 980.6 L283.72 979.86 L284.35 978.84 L284.98 978.01 L285.61 977.07 L286.24 976.5 L286.87 976.41 L287.5 976.3 L288.14 975.95 L288.77 975.31 L289.4 975.09 L290.03 975.02 L290.66 974.87 L291.29 974.81 L291.92 974.51 L292.55 974.55 L293.18 974.21 L293.81 974.32 L294.44 974.61 L295.07 975.11 L295.7 974.91 L296.33 974.91 L296.96 975.56 L297.59 975.78 L298.22 976.17 L298.85 976.96 L299.48 977.14 L300.11 977.74 L300.75 979.04 L301.38 980.02 L302.01 981.42 L302.64 982.57 L303.27 983.97 L303.9 984.71 L304.53 986.2 L305.16 988.1 L305.79 989.79 L306.42 990.76 L307.05 992.38 L307.68 994.88 L308.31 995.87 L308.94 997.18 L309.57 999.36 L310.2 1001.4 L310.83 1002.62 L311.46 1004.39 L312.09 1006.3 L312.72 1007.93 L313.35 1008.95 L313.99 1010.37 L314.62 1012.2 L315.25 1013.66 L315.88 1015.36 L316.51 1016.49 L317.14 1018.03 L317.77 1019.66 L318.4 1021.06 L319.03 1022.26 L319.66 1023.73 L320.29 1025.37 L320.92 1027.04 L321.55 1028.56 L322.18 1029.98 L322.81 1031.54 L323.44 1033.09 L324.07 1035.11 L324.7 1037.07 L325.33 1037.74 L325.96 1038.85 L326.6 1040.95 L327.23 1042.95 L327.86 1044.72 L328.49 1046.44 L329.12 1048.27 L329.75 1050.31 L330.38 1052.09 L331.01 1053.85 L331.64 1055.38 L332.27 1057.12 L332.9 1058.75 L333.53 1060.46 L334.16 1061.95 L334.79 1063.5 L335.42 1065 L336.05 1067.35 L336.68 1068.77 L337.31 1069.61 L337.94 1070.77 L338.57 1072.76 L339.2 1074.36 L339.84 1075.63 L340.47 1076.72 L341.1 1078.2 L341.73 1079.41 L342.36 1080.84 L342.99 1082.17 L343.62 1082.94 L344.25 1083.77 L344.88 1084.72 L345.51 1086.05 L346.14 1087.17 L346.77 1087.91 L347.4 1088.82 L348.03 1089.77 L348.66 1090.62 L349.29 1091.26 L349.92 1092.04 L350.55 1092.58 L351.18 1093.42 L351.81 1094.47 L352.45 1095.53 L353.08 1095.84 L353.71 1096.28 L354.34 1096.76 L354.97 1097.33 L355.6 1098.07 L356.23 1098.52 L356.86 1099.06 L357.49 1099.36 L358.12 1100.46 L358.75 1101.32 L359.38 1101.83 L360.01 1102.24 L360.64 1102.6 L361.27 1102.72 L361.9 1103.68 L362.53 1104.52 L363.16 1104.83 L363.79 1105.71 L364.42 1106.46 L365.05 1106.72 L365.69 1107.34 L366.32 1108.09 L366.95 1108.49 L367.58 1109.14 L368.21 1109.6 L368.84 1110.24 L369.47 1110.77 L370.1 1111.65 L370.73 1112.31 L371.36 1112.39 L371.99 1113.25 L372.62 1113.93 L373.25 1114.48 L373.88 1114.89 L374.51 1115.26 L375.14 1115.7 L375.77 1116.02 L376.4 1116.38 L377.03 1117.22 L377.66 1118.03 L378.3 1118.52 L378.93 1118.95 L379.56 1119.41 L380.19 1119.55 L380.82 1120.09 L381.45 1120.58 L382.08 1121.05 L382.71 1121.71 L383.34 1122.05 L383.97 1122.18 L384.6 1122.6 L385.23 1123.09 L385.86 1123.35 L386.49 1124.13 L387.12 1124.53 L387.75 1124.99 L388.38 1125.53 L389.01 1125.29 L389.64 1125.72 L390.27 1126.21 L390.9 1126.16 L391.54 1126.56 L392.17 1127.04 L392.8 1127.49 L393.43 1127.81 L394.06 1128.2 L394.69 1128.24 L395.32 1128.56 L395.95 1128.75 L396.58 1128.87 L397.21 1129.23 L397.84 1129.55 L398.47 1129.87 L399.1 1130.22 L399.73 1130.24 L400.36 1130.34 L400.99 1130.69 L401.62 1131.06 L402.25 1131.6 L402.88 1131.98 L403.51 1132.17 L404.15 1132.1 L404.78 1132.35 L405.41 1132.53 L406.04 1133 L406.67 1133.27 L407.3 1133.35 L407.93 1133.47 L408.56 1133.77 L409.19 1134.02 L409.82 1134.25 L410.45 1134.52 L411.08 1134.85 L411.71 1134.96 L412.34 1135.13 L412.97 1135.3 L413.6 1135.47 L414.23 1135.78 L414.86 1135.95 L415.49 1136.1 L416.12 1136.17 L416.75 1136.35 L417.39 1136.69 L418.02 1136.65 L418.65 1136.7 L419.28 1137.28 L419.91 1137.53 L420.54 1137.63 L421.17 1137.62 L421.8 1137.55 L422.43 1137.88 L423.06 1138.14 L423.69 1138.19 L424.32 1138.37 L424.95 1138.36 L425.58 1138.49 L426.21 1138.61 L426.84 1138.8 L427.47 1138.62 L428.1 1138.89 L428.73 1139.18 L429.36 1139.43 L430 1139.68 L430.63 1139.82 L431.26 1139.87 L431.89 1139.99 L432.52 1140.03 L433.15 1140.17 L433.78 1140.12 L434.41 1140.19 L435.04 1140.42 L435.67 1140.41 L436.3 1140.55 L436.93 1140.56 L437.56 1140.67 L438.19 1140.8 L438.82 1141.11 L439.45 1141.12 L440.08 1141.07 L440.71 1141.43 L441.34 1141.79 L441.97 1141.96 L442.6 1142.1 L443.24 1142.1 L443.87 1141.89 L444.5 1141.77 L445.13 1141.97 L445.76 1142.05 L446.39 1142.15 L447.02 1142.23 L447.65 1142.33 L448.28 1142.38 L448.91 1142.44 L449.54 1142.59 L450.17 1142.45 L450.8 1142.48 L451.43 1142.64 L452.06 1142.68 L452.69 1142.87 L453.32 1142.93 L453.95 1142.91 L454.58 1142.98 L455.21 1143.09 L455.85 1143.17 L456.48 1143.15 L457.11 1143.13 L457.74 1143.37 L458.37 1143.28 L459 1143.28 L459.63 1143.24 L460.26 1143.41 L460.89 1143.72 L461.52 1143.52 L462.15 1143.48 L462.78 1143.6 L463.41 1143.66 L464.04 1143.62 L464.67 1143.66 L465.3 1143.53 L465.93 1143.56 L466.56 1143.56 L467.19 1143.89 L467.82 1144.02 L468.45 1143.78 L469.09 1143.71 L469.72 1143.86 L470.35 1144.03 L470.98 1143.92 L471.61 1143.79 L472.24 1143.84 L472.87 1143.86 L473.5 1143.9 L474.13 1143.97 L474.76 1143.99 L475.39 1143.95 L476.02 1143.71 L476.65 1143.81 L477.28 1143.84 L477.91 1143.9 L478.54 1143.86 L479.17 1143.98 L479.8 1143.8 L480.43 1143.73 L481.06 1143.65 L481.7 1143.9 L482.33 1143.86 L482.96 1143.75 L483.59 1143.7 L484.22 1143.83 L484.85 1143.92 L485.48 1144.11 L486.11 1143.99 L486.74 1143.77 L487.37 1143.7 L488 1143.83" fill="none" stroke="#000" stroke-width="2.5" stroke-linejoin="round" stroke-linecap="round"/>
<path d="M229.5 1145.5 L230.13 1145.5 L230.76 1145.5 L231.39 1145.38 L232.02 1145.5 L232.65 1145.46 L233.28 1145.31 L233.91 1145.38 L234.54 1145.37 L235.17 1145.24 L235.8 1144.97 L236.44 1144.75 L237.07 1144.89 L237.7 1144.96 L238.33 1144.78 L238.96 1144.73 L239.59 1144.57 L240.22 1144.38 L240.85 1144.4 L241.48 1144.29 L242.11 1144.19 L242.74 1143.95 L243.37 1143.73 L244 1143.61 L244.63 1143.31 L245.26 1142.97 L245.89 1142.67 L246.52 1142.33 L247.15 1141.84 L247.78 1141.14 L248.41 1140.36 L249.05 1139.54 L249.68 1139.19 L250.31 1138.15 L250.94 1136.94 L251.57 1135.68 L252.2 1134.56 L252.83 1133.37 L253.46 1131.75 L254.09 1130.02 L254.72 1128.33 L255.35 1126.52 L255.98 1124.79 L256.61 1122.26 L257.24 1120.04 L257.87 1118.1 L258.5 1115.7 L259.13 1113.35 L259.76 1110.96 L260.39 1108.12 L261.02 1105.24 L261.65 1102.71 L262.29 1099.95 L262.92 1096.92 L263.55 1093.72 L264.18 1090.57 L264.81 1087.77 L265.44 1084.51 L266.07 1081.49 L266.7 1078.75 L267.33 1075.33 L267.96 1071.92 L268.59 1068.63 L269.22 1065.54 L269.85 1062.79 L270.48 1059.33 L271.11 1056.32 L271.74 1053.41 L272.37 1049.98 L273 1047.08 L273.63 1044.69 L274.26 1041.99 L274.9 1039.79 L275.53 1037.63 L276.16 1035.5 L276.79 1033.16 L277.42 1031.99 L278.05 1029.69 L278.68 1027.7 L279.31 1026.66 L279.94 1024.8 L280.57 1023.01 L281.2 1021.28 L281.83 1019.93 L282.46 1019.32 L283.09 1018.38 L283.72 1016.49 L284.35 1015.38 L284.98 1014.88 L285.61 1013.85 L286.24 1012.82 L286.87 1011.93 L287.5 1011.06 L288.14 1010.24 L288.77 1010.09 L289.4 1008.83 L290.03 1008.09 L290.66 1007.54 L291.29 1006.89 L291.92 1006.93 L292.55 1005.64 L293.18 1005.13 L293.81 1005.04 L294.44 1004.25 L295.07 1003.5 L295.7 1002.2 L296.33 1001.84 L296.96 1002.14 L297.59 1002.33 L298.22 1002.09 L298.85 1001.79 L299.48 1001.77 L300.11 1001.9 L300.75 1001.96 L301.38 1002.18 L302.01 1002.74 L302.64 1003.51 L303.27 1003.97 L303.9 1004.12 L304.53 1005.98 L305.16 1007.08 L305.79 1007.61 L306.42 1008.65 L307.05 1009.5 L307.68 1010.33 L308.31 1011.32 L308.94 1012.78 L309.57 1014.35 L310.2 1015.31 L310.83 1017.01 L311.46 1017.97 L312.09 1019.11 L312.72 1020.29 L313.35 1021.02 L313.99 1022.09 L314.62 1023.19 L315.25 1024.75 L315.88 1025.43 L316.51 1026.47 L317.14 1027.94 L317.77 1029.49 L318.4 1030.57 L319.03 1032.06 L319.66 1032.95 L320.29 1032.7 L320.92 1033.95 L321.55 1035.33 L322.18 1037 L322.81 1038.05 L323.44 1039.12 L324.07 1040.4 L324.7 1041.81 L325.33 1043.33 L325.96 1044.84 L326.6 1045.44 L327.23 1046.38 L327.86 1047.57 L328.49 1048.96 L329.12 1049.97 L329.75 1051.77 L330.38 1053.28 L331.01 1054.12 L331.64 1055.68 L332.27 1057.19 L332.9 1058.08 L333.53 1059.08 L334.16 1060.42 L334.79 1061.33 L335.42 1061.86 L336.05 1063.66 L336.68 1065.38 L337.31 1067.36 L337.94 1068.26 L338.57 1069.3 L339.2 1070.88 L339.84 1072.25 L340.47 1073.25 L341.1 1074.56 L341.73 1075.74 L342.36 1076.46 L342.99 1077.5 L343.62 1078.98 L344.25 1080.32 L344.88 1081.22 L345.51 1082.19 L346.14 1083.49 L346.77 1085.03 L347.4 1085.93 L348.03 1086.68 L348.66 1087.56 L349.29 1088.47 L349.92 1089.63 L350.55 1091.03 L351.18 1092.03 L351.81 1092.75 L352.45 1093.03 L353.08 1093.96 L353.71 1094.75 L354.34 1095.47 L354.97 1096.55 L355.6 1097.5 L356.23 1098.06 L356.86 1098.48 L357.49 1098.79 L358.12 1099.64 L358.75 1100.68 L359.38 1101.08 L360.01 1101.74 L360.64 1102.75 L361.27 1103.48 L361.9 1104.31 L362.53 1104.67 L363.16 1105.4 L363.79 1106.3 L364.42 1106.82 L365.05 1107.28 L365.69 1107.97 L366.32 1108.46 L366.95 1109.08 L367.58 1109.94 L368.21 1110.35 L368.84 1110.53 L369.47 1111.44 L370.1 1112.29 L370.73 1112.82 L371.36 1113.42 L371.99 1113.59 L372.62 1114.05 L373.25 1114.49 L373.88 1115.02 L374.51 1115.61 L375.14 1116.08 L375.77 1116.75 L376.4 1117.49 L377.03 1118.08 L377.66 1118.61 L378.3 1119.18 L378.93 1119.18 L379.56 1119.98 L380.19 1120.47 L380.82 1121.15 L381.45 1121.74 L382.08 1121.92 L382.71 1122.33 L383.34 1122.77 L383.97 1123.19 L384.6 1123.79 L385.23 1124.14 L385.86 1124.56 L386.49 1125.16 L387.12 1125.58 L387.75 1125.87 L388.38 1126.29 L389.01 1126.84 L389.64 1127.5 L390.27 1127.54 L390.9 1127.7 L391.54 1128.06 L392.17 1128.22 L392.8 1128.32 L393.43 1128.81 L394.06 1129.19 L394.69 1129.7 L395.32 1130.04 L395.95 1130.27 L396.58 1130.55 L397.21 1130.73 L397.84 1131.05 L398.47 1131.31 L399.1 1131.76 L399.73 1132.07 L400.36 1132.21 L400.99 1132.46 L401.62 1132.67 L402.25 1132.88 L402.88 1133.02 L403.51 1133.01 L404.15 1133.17 L404.78 1133.56 L405.41 1133.91 L406.04 1134.07 L406.67 1134.71 L407.3 1135.05 L407.93 1134.94 L408.56 1135.07 L409.19 1135.3 L409.82 1135.56 L410.45 1135.98 L411.08 1136.05 L411.71 1135.84 L412.34 1136.02 L412.97 1136.34 L413.6 1136.34 L414.23 1136.8 L414.86 1137 L415.49 1137.08 L416.12 1137.38 L416.75 1137.49 L417.39 1137.57 L418.02 1137.67 L418.65 1137.66 L419.28 1137.87 L419.91 1138.26 L420.54 1138.38 L421.17 1138.39 L421.8 1138.55 L422.43 1138.75 L423.06 1138.73 L423.69 1138.81 L424.32 1139.07 L424.95 1139.18 L425.58 1139.58 L426.21 1139.72 L426.84 1139.61 L427.47 1139.83 L428.1 1140 L428.73 1140.04 L429.36 1140.14 L430 1140.22 L430.63 1140.48 L431.26 1140.37 L431.89 1140.09 L432.52 1140.55 L433.15 1140.96 L433.78 1140.82 L434.41 1140.79 L435.04 1140.84 L435.67 1141.1 L436.3 1141.27 L436.93 1141.16 L437.56 1141.37 L438.19 1141.71 L438.82 1141.62 L439.45 1141.67 L440.08 1141.69 L440.71 1141.86 L441.34 1141.89 L441.97 1141.98 L442.6 1142.06 L443.24 1142.22 L443.87 1142.35 L444.5 1142.36 L445.13 1142.35 L445.76 1142.37 L446.39 1142.35 L447.02 1142.51 L447.65 1142.54 L448.28 1142.51 L448.91 1142.74 L449.54 1142.88 L450.17 1143.04 L450.8 1143.01 L451.43 1142.9 L452.06 1143.02 L452.69 1143.09 L453.32 1143.42 L453.95 1143.55 L454.58 1143.48 L455.21 1143.5 L455.85 1143.18 L456.48 1143.33 L457.11 1143.68 L457.74 1143.69 L458.37 1143.69 L459 1143.63 L459.63 1143.64 L460.26 1143.54 L460.89 1143.53 L461.52 1143.77 L462.15 1143.9 L462.78 1143.78 L463.41 1143.77 L464.04 1143.71 L464.67 1143.8 L465.3 1143.77 L465.93 1143.83 L466.56 1143.94 L467.19 1143.96 L467.82 1143.79 L468.45 1143.62 L469.09 1143.8 L469.72 1143.96 L470.35 1143.94 L470.98 1144.04 L471.61 1144.18 L472.24 1144.02 L472.87 1143.9 L473.5 1144.11 L474.13 1144.22 L474.76 1144.03 L475.39 1143.87 L476.02 1143.92 L476.65 1143.91 L477.28 1143.8 L477.91 1143.87 L478.54 1144.05 L479.17 1144.18 L479.8 1144.19 L480.43 1144.18 L481.06 1144.15 L481.7 1144.23 L482.33 1144.08 L482.96 1144.17 L483.59 1144.24 L484.22 1144.24 L484.85 1144.47 L485.48 1144.44 L486.11 1144.32 L486.74 1144.2 L487.37 1144.22 L488 1144.11" fill="none" stroke="#0000ff" stroke-width="2.5" stroke-linejoin="round" stroke-linecap="round"/>
<path d="M229.5 1144.85 L230.13 1144.9 L230.76 1145 L231.39 1145.09 L232.02 1144.92 L232.65 1144.76 L233.28 1144.64 L233.91 1144.54 L234.54 1144.36 L235.17 1144.26 L235.8 1144.1 L236.44 1143.68 L237.07 1143.33 L237.7 1143.03 L238.33 1142.9 L238.96 1142.69 L239.59 1142.39 L240.22 1142 L240.85 1141.35 L241.48 1141 L242.11 1140.49 L242.74 1139.65 L243.37 1138.71 L244 1138.05 L244.63 1137.37 L245.26 1136.34 L245.89 1135.09 L246.52 1134.01 L247.15 1132.86 L247.78 1131.41 L248.41 1129.69 L249.05 1128.02 L249.68 1126.74 L250.31 1124.97 L250.94 1123.06 L251.57 1121.14 L252.2 1118.7 L252.83 1116.07 L253.46 1113.17 L254.09 1110.64 L254.72 1107.96 L255.35 1104.57 L255.98 1101.44 L256.61 1098.31 L257.24 1094.62 L257.87 1090.93 L258.5 1087.27 L259.13 1083.6 L259.76 1080.27 L260.39 1076.24 L261.02 1072.17 L261.65 1068.47 L262.29 1064.82 L262.92 1061.15 L263.55 1057.66 L264.18 1054.5 L264.81 1050.77 L265.44 1047.51 L266.07 1043.78 L266.7 1039.95 L267.33 1035.35 L267.96 1031.24 L268.59 1027.58 L269.22 1023.52 L269.85 1020.15 L270.48 1016.39 L271.11 1012.76 L271.74 1009.4 L272.37 1005.4 L273 1001.66 L273.63 998.91 L274.26 995.48 L274.9 992.26 L275.53 988.86 L276.16 986.15 L276.79 983.46 L277.42 980.85 L278.05 978.66 L278.68 976.54 L279.31 973.8 L279.94 972.06 L280.57 969.73 L281.2 967.7 L281.83 966.33 L282.46 964.53 L283.09 962.88 L283.72 962.16 L284.35 961.87 L284.98 961.64 L285.61 960.46 L286.24 959.49 L286.87 958.97 L287.5 958.55 L288.14 957.93 L288.77 957.83 L289.4 957.55 L290.03 957.34 L290.66 957.73 L291.29 957.49 L291.92 956.82 L292.55 957.38 L293.18 958.32 L293.81 958.29 L294.44 958.11 L295.07 958.25 L295.7 959.04 L296.33 959.94 L296.96 960.56 L297.59 960.9 L298.22 961.84 L298.85 963.13 L299.48 964.26 L300.11 965.41 L300.75 966.57 L301.38 968.29 L302.01 969.66 L302.64 971.26 L303.27 973.47 L303.9 975.82 L304.53 977.68 L305.16 980.25 L305.79 982.52 L306.42 985.16 L307.05 987.61 L307.68 989.23 L308.31 991.15 L308.94 993.3 L309.57 995.37 L310.2 997.66 L310.83 999.73 L311.46 1001.34 L312.09 1002.73 L312.72 1004.97 L313.35 1007.36 L313.99 1009.22 L314.62 1011.38 L315.25 1013.28 L315.88 1014.95 L316.51 1017.27 L317.14 1019.59 L317.77 1021.28 L318.4 1022.8 L319.03 1024.48 L319.66 1026.24 L320.29 1028.46 L320.92 1030.15 L321.55 1032.04 L322.18 1034.02 L322.81 1035.7 L323.44 1037.7 L324.07 1039.78 L324.7 1041.41 L325.33 1043.56 L325.96 1045.2 L326.6 1046.83 L327.23 1048.57 L327.86 1050.51 L328.49 1052.14 L329.12 1053.7 L329.75 1055.23 L330.38 1057.19 L331.01 1058.77 L331.64 1060.48 L332.27 1062 L332.9 1062.83 L333.53 1064.83 L334.16 1066.65 L334.79 1067.67 L335.42 1069.33 L336.05 1070.5 L336.68 1071.72 L337.31 1073.34 L337.94 1074.71 L338.57 1075.93 L339.2 1077.19 L339.84 1078.69 L340.47 1079.8 L341.1 1080.55 L341.73 1081.32 L342.36 1082.33 L342.99 1083.26 L343.62 1084.56 L344.25 1085.93 L344.88 1087.09 L345.51 1088.42 L346.14 1089.3 L346.77 1090.09 L347.4 1090.71 L348.03 1091.53 L348.66 1092.66 L349.29 1093.68 L349.92 1094.61 L350.55 1095.12 L351.18 1095.66 L351.81 1096.39 L352.45 1097.1 L353.08 1097.27 L353.71 1097.92 L354.34 1098.85 L354.97 1099.55 L355.6 1100.01 L356.23 1100.4 L356.86 1100.85 L357.49 1101.23 L358.12 1101.59 L358.75 1101.97 L359.38 1102.59 L360.01 1103.38 L360.64 1103.98 L361.27 1104.69 L361.9 1105.2 L362.53 1105.45 L363.16 1106.2 L363.79 1106.62 L364.42 1107.5 L365.05 1108.08 L365.69 1108.54 L366.32 1109.27 L366.95 1109.89 L367.58 1110.59 L368.21 1111.22 L368.84 1111.75 L369.47 1112.22 L370.1 1112.45 L370.73 1113.04 L371.36 1113.59 L371.99 1114.65 L372.62 1114.87 L373.25 1115.14 L373.88 1115.66 L374.51 1115.96 L375.14 1116.48 L375.77 1117.1 L376.4 1117.32 L377.03 1117.43 L377.66 1118.19 L378.3 1118.81 L378.93 1119.32 L379.56 1119.75 L380.19 1120.31 L380.82 1120.42 L381.45 1120.33 L382.08 1120.82 L382.71 1121.32 L383.34 1121.57 L383.97 1121.84 L384.6 1122.28 L385.23 1122.49 L385.86 1122.97 L386.49 1123.43 L387.12 1123.78 L387.75 1124.62 L388.38 1124.81 L389.01 1124.93 L389.64 1125.35 L390.27 1125.61 L390.9 1125.95 L391.54 1126.08 L392.17 1125.91 L392.8 1126.39 L393.43 1126.83 L394.06 1127 L394.69 1127.39 L395.32 1127.59 L395.95 1127.81 L396.58 1128.07 L397.21 1128.65 L397.84 1128.75 L398.47 1129.07 L399.1 1129.45 L399.73 1129.52 L400.36 1129.84 L400.99 1129.86 L401.62 1130.15 L402.25 1130.46 L402.88 1130.76 L403.51 1131.06 L404.15 1131.6 L404.78 1131.72 L405.41 1131.92 L406.04 1132.07 L406.67 1132.28 L407.3 1132.5 L407.93 1132.79 L408.56 1132.65 L409.19 1132.8 L409.82 1133.38 L410.45 1133.69 L411.08 1133.81 L411.71 1133.83 L412.34 1134.06 L412.97 1134.69 L413.6 1134.99 L414.23 1135.24 L414.86 1135.5 L415.49 1135.68 L416.12 1135.68 L416.75 1135.87 L417.39 1135.77 L418.02 1136 L418.65 1136.49 L419.28 1136.73 L419.91 1136.74 L420.54 1136.7 L421.17 1137.12 L421.8 1137.4 L422.43 1137.36 L423.06 1137.42 L423.69 1137.59 L424.32 1137.52 L424.95 1137.74 L425.58 1137.98 L426.21 1138.25 L426.84 1138.34 L427.47 1138.55 L428.1 1138.86 L428.73 1138.83 L429.36 1139.05 L430 1139.1 L430.63 1139.19 L431.26 1138.99 L431.89 1139.16 L432.52 1139.29 L433.15 1139.48 L433.78 1139.94 L434.41 1140.2 L435.04 1140.05 L435.67 1139.95 L436.3 1140.09 L436.93 1140.14 L437.56 1140.3 L438.19 1140.64 L438.82 1140.55 L439.45 1140.47 L440.08 1140.88 L440.71 1141.2 L441.34 1141.14 L441.97 1141.15 L442.6 1141.2 L443.24 1141.38 L443.87 1141.49 L444.5 1141.7 L445.13 1141.47 L445.76 1141.35 L446.39 1141.55 L447.02 1141.92 L447.65 1142.03 L448.28 1142.3 L448.91 1142.13 L449.54 1142.15 L450.17 1142.3 L450.8 1142.26 L451.43 1142.27 L452.06 1142.28 L452.69 1142.42 L453.32 1142.59 L453.95 1142.88 L454.58 1142.91 L455.21 1142.83 L455.85 1142.79 L456.48 1142.79 L457.11 1142.78 L457.74 1143.03 L458.37 1143.08 L459 1143.07 L459.63 1143.13 L460.26 1143.16 L460.89 1143.23 L461.52 1143.16 L462.15 1143.28 L462.78 1143.28 L463.41 1143.34 L464.04 1143.36 L464.67 1143.6 L465.3 1143.56 L465.93 1143.59 L466.56 1143.54 L467.19 1143.5 L467.82 1143.75 L468.45 1143.85 L469.09 1143.78 L469.72 1143.71 L470.35 1143.83 L470.98 1143.74 L471.61 1143.81 L472.24 1143.82 L472.87 1143.7 L473.5 1143.62 L474.13 1143.7 L474.76 1143.71 L475.39 1143.66 L476.02 1143.76 L476.65 1143.96 L477.28 1143.77 L477.91 1143.59 L478.54 1143.42 L479.17 1143.33 L479.8 1143.47 L480.43 1143.63 L481.06 1143.73 L481.7 1143.62 L482.33 1143.49 L482.96 1143.49 L483.59 1143.67 L484.22 1143.6 L484.85 1143.46 L485.48 1143.38 L486.11 1143.55 L486.74 1143.71 L487.37 1143.74 L488 1143.69" fill="none" stroke="#ff0000" stroke-width="2.5" stroke-linejoin="round" stroke-linecap="round"/>
</g>
<path d="M229.5 937.5 L229.5 1145.5 L488 1145.5 L488 937.5 Z" fill="none" stroke="#0c0c0c" stroke-width="1"/>
<line x1="488" y1="937.5" x2="488" y2="1145.5" stroke="#6a6a6a" stroke-width="1.9" />
<line x1="235.8" y1="1145.5" x2="235.8" y2="1149.2" stroke="#0c0c0c" stroke-width="1" />
<text class="ss" x="235.8" y="1159.4" font-size="8.9" text-anchor="middle" stroke="#000" stroke-width="0.3">400</text>
<line x1="298.85" y1="1145.5" x2="298.85" y2="1149.2" stroke="#0c0c0c" stroke-width="1" />
<text class="ss" x="298.85" y="1159.4" font-size="8.9" text-anchor="middle" stroke="#000" stroke-width="0.3">500</text>
<line x1="361.9" y1="1145.5" x2="361.9" y2="1149.2" stroke="#0c0c0c" stroke-width="1" />
<text class="ss" x="361.9" y="1159.4" font-size="8.9" text-anchor="middle" stroke="#000" stroke-width="0.3">600</text>
<line x1="424.95" y1="1145.5" x2="424.95" y2="1149.2" stroke="#0c0c0c" stroke-width="1" />
<text class="ss" x="424.95" y="1159.4" font-size="8.9" text-anchor="middle" stroke="#000" stroke-width="0.3">700</text>
<line x1="488" y1="1145.5" x2="488" y2="1149.2" stroke="#0c0c0c" stroke-width="1" />
<text class="ss" x="488" y="1159.4" font-size="8.9" text-anchor="middle" stroke="#000" stroke-width="0.3">800</text>
<line x1="267.33" y1="1145.5" x2="267.33" y2="1147.2" stroke="#0c0c0c" stroke-width="1" />
<line x1="330.38" y1="1145.5" x2="330.38" y2="1147.2" stroke="#0c0c0c" stroke-width="1" />
<line x1="393.43" y1="1145.5" x2="393.43" y2="1147.2" stroke="#0c0c0c" stroke-width="1" />
<line x1="456.48" y1="1145.5" x2="456.48" y2="1147.2" stroke="#0c0c0c" stroke-width="1" />
<line x1="229.5" y1="1145.5" x2="225.8" y2="1145.5" stroke="#0c0c0c" stroke-width="1" />
<text class="ss" x="222.8" y="1148.88" font-size="8.9" text-anchor="end" stroke="#000" stroke-width="0.3">0.0</text>
<line x1="229.5" y1="1099.3" x2="225.8" y2="1099.3" stroke="#0c0c0c" stroke-width="1" />
<text class="ss" x="222.8" y="1102.68" font-size="8.9" text-anchor="end" stroke="#000" stroke-width="0.3">5.0×10<tspan dy="-0.44em" font-size="70%">4</tspan></text>
<line x1="229.5" y1="1053.1" x2="225.8" y2="1053.1" stroke="#0c0c0c" stroke-width="1" />
<text class="ss" x="222.8" y="1056.48" font-size="8.9" text-anchor="end" stroke="#000" stroke-width="0.3">1.0×10<tspan dy="-0.44em" font-size="70%">5</tspan></text>
<line x1="229.5" y1="1006.9" x2="225.8" y2="1006.9" stroke="#0c0c0c" stroke-width="1" />
<text class="ss" x="222.8" y="1010.28" font-size="8.9" text-anchor="end" stroke="#000" stroke-width="0.3">1.5×10<tspan dy="-0.44em" font-size="70%">5</tspan></text>
<line x1="229.5" y1="960.7" x2="225.8" y2="960.7" stroke="#0c0c0c" stroke-width="1" />
<text class="ss" x="222.8" y="964.08" font-size="8.9" text-anchor="end" stroke="#000" stroke-width="0.3">2.0×10<tspan dy="-0.44em" font-size="70%">5</tspan></text>
<line x1="229.5" y1="1122.4" x2="227.8" y2="1122.4" stroke="#0c0c0c" stroke-width="1" />
<line x1="229.5" y1="1076.2" x2="227.8" y2="1076.2" stroke="#0c0c0c" stroke-width="1" />
<line x1="229.5" y1="1030" x2="227.8" y2="1030" stroke="#0c0c0c" stroke-width="1" />
<line x1="229.5" y1="983.8" x2="227.8" y2="983.8" stroke="#0c0c0c" stroke-width="1" />
<line x1="229.5" y1="937.6" x2="227.8" y2="937.6" stroke="#0c0c0c" stroke-width="1" />
<line x1="488" y1="1145.5" x2="491.7" y2="1145.5" stroke="#0c0c0c" stroke-width="1" />
<text class="ss" x="494.7" y="1148.88" font-size="8.9" stroke="#000" stroke-width="0.3">0.0</text>
<line x1="488" y1="1113.6" x2="491.7" y2="1113.6" stroke="#0c0c0c" stroke-width="1" />
<text class="ss" x="494.7" y="1116.98" font-size="8.9" stroke="#000" stroke-width="0.3">5.0×10<tspan dy="-0.44em" font-size="70%">5</tspan></text>
<line x1="488" y1="1081.7" x2="491.7" y2="1081.7" stroke="#0c0c0c" stroke-width="1" />
<text class="ss" x="494.7" y="1085.08" font-size="8.9" stroke="#000" stroke-width="0.3">1.0×10<tspan dy="-0.44em" font-size="70%">6</tspan></text>
<line x1="488" y1="1049.8" x2="491.7" y2="1049.8" stroke="#0c0c0c" stroke-width="1" />
<text class="ss" x="494.7" y="1053.18" font-size="8.9" stroke="#000" stroke-width="0.3">1.5×10<tspan dy="-0.44em" font-size="70%">6</tspan></text>
<line x1="488" y1="1017.9" x2="491.7" y2="1017.9" stroke="#0c0c0c" stroke-width="1" />
<text class="ss" x="494.7" y="1021.28" font-size="8.9" stroke="#000" stroke-width="0.3">2.0×10<tspan dy="-0.44em" font-size="70%">6</tspan></text>
<line x1="488" y1="986" x2="491.7" y2="986" stroke="#0c0c0c" stroke-width="1" />
<text class="ss" x="494.7" y="989.38" font-size="8.9" stroke="#000" stroke-width="0.3">2.5×10<tspan dy="-0.44em" font-size="70%">6</tspan></text>
<line x1="488" y1="954.1" x2="491.7" y2="954.1" stroke="#0c0c0c" stroke-width="1" />
<text class="ss" x="494.7" y="957.48" font-size="8.9" stroke="#000" stroke-width="0.3">3.0×10<tspan dy="-0.44em" font-size="70%">6</tspan></text>
<line x1="488" y1="1129.55" x2="489.7" y2="1129.55" stroke="#0c0c0c" stroke-width="1" />
<line x1="488" y1="1097.65" x2="489.7" y2="1097.65" stroke="#0c0c0c" stroke-width="1" />
<line x1="488" y1="1065.75" x2="489.7" y2="1065.75" stroke="#0c0c0c" stroke-width="1" />
<line x1="488" y1="1033.85" x2="489.7" y2="1033.85" stroke="#0c0c0c" stroke-width="1" />
<line x1="488" y1="1001.95" x2="489.7" y2="1001.95" stroke="#0c0c0c" stroke-width="1" />
<line x1="488" y1="970.05" x2="489.7" y2="970.05" stroke="#0c0c0c" stroke-width="1" />
<line x1="488" y1="938.15" x2="489.7" y2="938.15" stroke="#0c0c0c" stroke-width="1" />
<text class="ss" x="231.6" y="931.4" font-size="10.78" stroke="#000" stroke-width="0.3" textLength="131.3" lengthAdjust="spacingAndGlyphs">Active layer: 4g:PVK:PBD</text>
<text class="sf" x="344.8" y="1175.7" font-size="11" text-anchor="middle" stroke="#000" stroke-width="0.3" textLength="85.4" lengthAdjust="spacingAndGlyphs">Wevelength [nm]</text>
<text class="sf" x="181.2" y="1029.8" font-size="11.4" text-anchor="middle" stroke="#000" stroke-width="0.3" transform="rotate(-90 181.2 1029.8)" textLength="85.4" lengthAdjust="spacingAndGlyphs">Intensity [counts]</text>
<text class="sf" x="528.1" y="1038" font-size="11.4" text-anchor="middle" stroke="#000" stroke-width="0.3" transform="rotate(90 528.1 1038)" textLength="86.3" lengthAdjust="spacingAndGlyphs">Intensity [counts]</text>
<line x1="290.7" y1="957.2" x2="363.46" y2="957.2" stroke="#111" stroke-width="1" />
<path d="M367.1 957.2 L361.9 955.7 L361.9 958.7 Z" fill="#111"/>
<text class="ss" x="400.4" y="952.8" font-size="10.61" stroke="#000" stroke-width="0.3" textLength="57.6" lengthAdjust="spacingAndGlyphs">4g content:</text>
<line x1="399.2" y1="965.7" x2="423.7" y2="965.7" stroke="#000" stroke-width="2" />
<text class="ss" x="427.3" y="969.52" font-size="10.61" stroke="#000" stroke-width="0.3" textLength="26.88" lengthAdjust="spacingAndGlyphs">1wt%</text>
<line x1="399.2" y1="979.4" x2="423.7" y2="979.4" stroke="#f00" stroke-width="2" />
<text class="ss" x="427.3" y="983.22" font-size="10.61" stroke="#000" stroke-width="0.3" textLength="26.88" lengthAdjust="spacingAndGlyphs">2wt%</text>
<line x1="399.2" y1="992.7" x2="423.7" y2="992.7" stroke="#00f" stroke-width="2" />
<text class="ss" x="427.3" y="996.52" font-size="10.61" stroke="#000" stroke-width="0.3" textLength="32.96" lengthAdjust="spacingAndGlyphs">15wt%</text>
<text class="sf" x="354.7" y="908.6" font-size="18" text-anchor="middle" stroke="#000" stroke-width="0.3">(g)</text>
</g>
<clipPath id="cib"><rect x="0" y="0" width="89.3" height="79.2"/></clipPath>
<g transform="translate(563.9 109.9)" clip-path="url(#cib)">
<rect x="-1" y="-1" width="91.3" height="81.2" fill="#020112"/>
<polygon points="7.6,28.8 73.2,6.4 84.6,38 79,62 30,84 24.5,79.2" fill="#020a4c" filter="url(#bl1_2)" />
<polygon points="60,44 86,41 80,64 50,78" fill="#02031a" filter="url(#bl3)" opacity="0.9" />
<polyline points="12,31 72,10.5" fill="none" stroke="#0a2cc0" stroke-width="6" stroke-linecap="round" filter="url(#bl2)" opacity="0.75"/>
<polygon points="26,36 50,28 55,64 33,71" fill="#0424b0" filter="url(#bl3)" opacity="0.85" />
<polygon points="53,15 76,9 83,39 60,45" fill="#0424b0" filter="url(#bl3)" opacity="0.85" />
<polyline points="8.6,28.2 73,6.4" fill="none" stroke="#0c3cd8" stroke-width="3.4" stroke-linecap="round" filter="url(#bl0_8)"/>
<polyline points="46,14.4 72.6,5.6" fill="none" stroke="#3c8cff" stroke-width="2.2" stroke-linecap="round" filter="url(#bl0_8)"/>
<polyline points="9,26.8 22,22.2" fill="none" stroke="#2c70f8" stroke-width="1.6" stroke-linecap="round" filter="url(#bl0_8)"/>
<polyline points="9,31 25.5,78" fill="none" stroke="#0830c8" stroke-width="8" stroke-linecap="round" filter="url(#bl2)" opacity="0.9"/>
<polyline points="8.2,30 24.5,78" fill="none" stroke="#0838d8" stroke-width="4" stroke-linecap="round" filter="url(#bl1_2)"/>
<polyline points="11.5,42 19,63" fill="none" stroke="#1c88ff" stroke-width="3.4" stroke-linecap="round" filter="url(#bl1_2)"/>
<polyline points="74,7.5 84.2,37.5" fill="none" stroke="#1236c0" stroke-width="3.4" stroke-linecap="round" filter="url(#bl1_2)" opacity="0.9"/>
<rect x="24" y="30.5" width="14" height="5" fill="#1c38b8" transform="rotate(-18 31 33)" filter="url(#bl0_8)" opacity="0.7"/>
<rect x="51.35" y="15.55" width="22.5" height="14.7" fill="#0838f0" transform="rotate(-18 62.6 22.9)" filter="url(#bl2)" opacity="0.95"/>
<rect x="53.9" y="18.1" width="17.4" height="9.6" fill="#58c0ff" transform="rotate(-18 62.6 22.9)" filter="url(#bl0_8)"/>
<rect x="55.1" y="19.3" width="15" height="7.2" fill="#f6ffff" transform="rotate(-18 62.6 22.9)" filter="url(#bl0_5)"/>
<rect x="56.45" y="29.15" width="23.5" height="15.1" fill="#0838f0" transform="rotate(-18 68.2 36.7)" filter="url(#bl2)" opacity="0.95"/>
<rect x="59" y="31.7" width="18.4" height="10" fill="#58c0ff" transform="rotate(-18 68.2 36.7)" filter="url(#bl0_8)"/>
<rect x="60.2" y="32.9" width="16" height="7.6" fill="#f6ffff" transform="rotate(-18 68.2 36.7)" filter="url(#bl0_5)"/>
<rect x="24.75" y="38.75" width="22.5" height="15.3" fill="#0838f0" transform="rotate(-18 36 46.4)" filter="url(#bl2)" opacity="0.95"/>
<rect x="27.3" y="41.3" width="17.4" height="10.2" fill="#58c0ff" transform="rotate(-18 36 46.4)" filter="url(#bl0_8)"/>
<rect x="28.5" y="42.5" width="15" height="7.8" fill="#f6ffff" transform="rotate(-18 36 46.4)" filter="url(#bl0_5)"/>
<rect x="28.95" y="53.25" width="22.5" height="15.5" fill="#0838f0" transform="rotate(-18 40.2 61)" filter="url(#bl2)" opacity="0.95"/>
<rect x="31.5" y="55.8" width="17.4" height="10.4" fill="#58c0ff" transform="rotate(-18 40.2 61)" filter="url(#bl0_8)"/>
<rect x="32.7" y="57" width="15" height="8" fill="#f6ffff" transform="rotate(-18 40.2 61)" filter="url(#bl0_5)"/>
<rect x="63.8" y="17.2" width="2" height="3.6" fill="#1838d0" transform="rotate(-18 64.8 19)" filter="url(#bl0_5)"/>
<rect x="56.25" y="19.5" width="2.5" height="1.6" fill="#3070f0" transform="rotate(-18 57.5 20.3)" filter="url(#bl0_5)"/>
</g>
<clipPath id="cic"><rect x="0" y="0" width="88.3" height="91.7"/></clipPath>
<g transform="translate(212 422.7)" clip-path="url(#cic)">
<rect x="-1" y="-1" width="90.3" height="93.7" fill="#02011a"/>
<polygon points="12,14 58,9 80,50 76,92 30,92" fill="#020a48" filter="url(#bl5)" opacity="0.45" />
<polygon points="21,16 55,11 59,37 27,42" fill="#0428c8" filter="url(#bl3)" opacity="0.65" />
<polygon points="36,56 80,52 80,74 42,80" fill="#021c98" filter="url(#bl3)" opacity="0.6" />
<polyline points="5.4,17.5 7.5,27 11.6,40" fill="none" stroke="#0c58f8" stroke-width="4.8" stroke-linecap="round" filter="url(#bl1_2)"/>
<polyline points="5.4,17.5 7.5,27 11,39" fill="none" stroke="#28bcff" stroke-width="3" stroke-linecap="round" filter="url(#bl0_8)"/>
<polyline points="5.6,17 8,15 10,16.5 11.2,21 13.5,31" fill="none" stroke="#1468ff" stroke-width="1.5" stroke-linecap="round" filter="url(#bl0_5)"/>
<polyline points="11.6,40 19,62 28,90" fill="none" stroke="#0c44e0" stroke-width="2.2" stroke-linecap="round" filter="url(#bl0_8)" opacity="0.9"/>
<polyline points="13.5,31 17,44 23,64" fill="none" stroke="#1250f0" stroke-width="1.5" stroke-linecap="round" filter="url(#bl0_8)" opacity="0.9"/>
<rect x="18.65" y="15.6" width="16.3" height="23.2" fill="#0838f0" transform="rotate(-12 26.8 27.2)" filter="url(#bl2)" opacity="0.95"/>
<rect x="20.35" y="17.3" width="12.9" height="19.8" fill="#40b0ff" transform="rotate(-12 26.8 27.2)" filter="url(#bl0_8)"/>
<rect x="21.9" y="18.85" width="9.8" height="16.7" fill="#f0ffff" transform="rotate(-12 26.8 27.2)" filter="url(#bl0_8)"/>
<rect x="36.3" y="10.65" width="17.6" height="23.5" fill="#0838f0" transform="rotate(-12 45.1 22.4)" filter="url(#bl2)" opacity="0.95"/>
<rect x="38" y="12.35" width="14.2" height="20.1" fill="#40b0ff" transform="rotate(-12 45.1 22.4)" filter="url(#bl0_8)"/>
<rect x="39.55" y="13.9" width="11.1" height="17" fill="#f0ffff" transform="rotate(-12 45.1 22.4)" filter="url(#bl0_8)"/>
<rect x="47.2" y="51.95" width="17.4" height="23.5" fill="#0838f0" transform="rotate(-10 55.9 63.7)" filter="url(#bl2)" opacity="0.95"/>
<rect x="48.9" y="53.65" width="14" height="20.1" fill="#40b0ff" transform="rotate(-10 55.9 63.7)" filter="url(#bl0_8)"/>
<rect x="50.45" y="55.2" width="10.9" height="17" fill="#f0ffff" transform="rotate(-10 55.9 63.7)" filter="url(#bl0_8)"/>
<circle cx="23.5" cy="21" r="1.6" fill="#58c0ff" filter="url(#bl0_8)" opacity="0.6"/>
<circle cx="26" cy="29" r="1.4" fill="#58c0ff" filter="url(#bl0_8)" opacity="0.6"/>
<circle cx="29.5" cy="31.5" r="1.5" fill="#58c0ff" filter="url(#bl0_8)" opacity="0.6"/>
<circle cx="24.5" cy="34" r="1.2" fill="#58c0ff" filter="url(#bl0_8)" opacity="0.6"/>
<circle cx="41.5" cy="18" r="1.5" fill="#58c0ff" filter="url(#bl0_8)" opacity="0.6"/>
<circle cx="47.5" cy="28" r="1.4" fill="#58c0ff" filter="url(#bl0_8)" opacity="0.6"/>
<circle cx="49" cy="19.5" r="1.2" fill="#58c0ff" filter="url(#bl0_8)" opacity="0.6"/>
<circle cx="53" cy="58.5" r="1.5" fill="#58c0ff" filter="url(#bl0_8)" opacity="0.6"/>
<circle cx="58.5" cy="66" r="1.5" fill="#58c0ff" filter="url(#bl0_8)" opacity="0.6"/>
<circle cx="55" cy="70.5" r="1.3" fill="#58c0ff" filter="url(#bl0_8)" opacity="0.6"/>
<circle cx="52" cy="64" r="1.4" fill="#58c0ff" filter="url(#bl0_8)" opacity="0.6"/>
<circle cx="57.5" cy="58" r="1.2" fill="#58c0ff" filter="url(#bl0_8)" opacity="0.6"/>
<circle cx="39.2" cy="61" r="2.6" fill="#0840ff" filter="url(#bl0_8)"/>
<circle cx="39.2" cy="61" r="1.12" fill="#60d0ff" filter="url(#bl0_5)"/>
<circle cx="33.6" cy="65.5" r="2.4" fill="#0840ff" filter="url(#bl0_8)"/>
<circle cx="33.6" cy="65.5" r="0.96" fill="#60d0ff" filter="url(#bl0_5)"/>
<circle cx="42" cy="75.6" r="2.7" fill="#0840ff" filter="url(#bl0_8)"/>
<circle cx="42" cy="75.6" r="1.2" fill="#60d0ff" filter="url(#bl0_5)"/>
<circle cx="69.3" cy="58.1" r="2.7" fill="#0840ff" filter="url(#bl0_8)"/>
<circle cx="69.3" cy="58.1" r="1.2" fill="#60d0ff" filter="url(#bl0_5)"/>
<circle cx="70.7" cy="65.1" r="2.5" fill="#0840ff" filter="url(#bl0_8)"/>
<circle cx="70.7" cy="65.1" r="1.04" fill="#60d0ff" filter="url(#bl0_5)"/>
<polyline points="73,52.8 78,56.5" fill="none" stroke="#0c58ff" stroke-width="3.2" stroke-linecap="round" filter="url(#bl0_8)"/>
<polyline points="73,52.8 78,56.5" fill="none" stroke="#48c8ff" stroke-width="1.6" stroke-linecap="round" filter="url(#bl0_5)"/>
<polygon points="51,83 79,81 80,92 52,92" fill="#1040e8" filter="url(#bl1_2)" opacity="0.9" />
</g>
<clipPath id="cid"><rect x="0" y="0" width="77" height="47.4"/></clipPath>
<g transform="translate(566.9 436.3)" clip-path="url(#cid)">
<rect x="-1" y="-1" width="79" height="49.4" fill="#02031c"/>
<rect x="0" y="0" width="77" height="47.4" fill="#040a34" filter="url(#bl3)" opacity="0.45"/>
<rect x="4.05" y="17.2" width="26.5" height="16.6" fill="#0c28c8" transform="rotate(8.5 17.3 25.5)" filter="url(#bl2)" opacity="0.95"/>
<rect x="6.45" y="19.6" width="21.7" height="11.8" fill="#18c8f0" transform="rotate(8.5 17.3 25.5)" filter="url(#bl0_5)"/>
<rect x="7.8" y="20.95" width="19" height="9.1" fill="#2cf0f6" transform="rotate(8.5 17.3 25.5)" filter="url(#bl0_5)"/>
<rect x="10.66" y="22.62" width="11.28" height="4.77" fill="#a8ffff" transform="rotate(8.5 16.3 25)" filter="url(#bl1_2)" opacity="0.5"/>
<rect x="48.55" y="4.2" width="26.5" height="16.8" fill="#0c28c8" transform="rotate(9.5 61.8 12.6)" filter="url(#bl2)" opacity="0.95"/>
<rect x="50.95" y="6.6" width="21.7" height="12" fill="#18c8f0" transform="rotate(9.5 61.8 12.6)" filter="url(#bl0_5)"/>
<rect x="52.3" y="7.95" width="19" height="9.3" fill="#2cf0f6" transform="rotate(9.5 61.8 12.6)" filter="url(#bl0_5)"/>
<rect x="55.16" y="9.67" width="11.28" height="4.86" fill="#a8ffff" transform="rotate(9.5 60.8 12.1)" filter="url(#bl1_2)" opacity="0.5"/>
<rect x="45.6" y="23.8" width="26" height="16.6" fill="#0c28c8" transform="rotate(9.5 58.6 32.1)" filter="url(#bl2)" opacity="0.95"/>
<rect x="48" y="26.2" width="21.2" height="11.8" fill="#18c8f0" transform="rotate(9.5 58.6 32.1)" filter="url(#bl0_5)"/>
<rect x="49.35" y="27.55" width="18.5" height="9.1" fill="#2cf0f6" transform="rotate(9.5 58.6 32.1)" filter="url(#bl0_5)"/>
<rect x="52.1" y="29.22" width="11" height="4.77" fill="#a8ffff" transform="rotate(9.5 57.6 31.6)" filter="url(#bl1_2)" opacity="0.5"/>
<rect x="67.5" y="9.45" width="4" height="9.5" fill="#e8ffff" transform="rotate(9.5 69.5 14.2)" filter="url(#bl0_8)" opacity="0.9"/>
</g>
<clipPath id="cie"><rect x="0" y="0" width="92.6" height="53"/></clipPath>
<g transform="translate(226.2 724.6)" clip-path="url(#cie)">
<rect x="-1" y="-1" width="94.6" height="55" fill="#01010f"/>
<rect x="90.6" y="0" width="4" height="53" fill="#0a1a80" filter="url(#bl2)" opacity="0.7"/>
<rect x="22.3" y="23" width="21.4" height="13.8" fill="#0820a0" transform="rotate(10.5 33 29.9)" filter="url(#bl2)" opacity="0.9"/>
<rect x="23.9" y="24.6" width="18.2" height="10.6" fill="#1c9cff" transform="rotate(10.5 33 29.9)" filter="url(#bl0_5)"/>
<rect x="25.55" y="26.25" width="14.9" height="7.3" fill="#0f84f8" transform="rotate(10.5 33 29.9)" filter="url(#bl0_8)"/>
<rect x="63" y="11.9" width="21.4" height="14" fill="#0820a0" transform="rotate(10.5 73.7 18.9)" filter="url(#bl2)" opacity="0.9"/>
<rect x="64.6" y="13.5" width="18.2" height="10.8" fill="#1c9cff" transform="rotate(10.5 73.7 18.9)" filter="url(#bl0_5)"/>
<rect x="66.25" y="15.15" width="14.9" height="7.5" fill="#0f84f8" transform="rotate(10.5 73.7 18.9)" filter="url(#bl0_8)"/>
<rect x="59.4" y="29.3" width="21.8" height="13.8" fill="#0820a0" transform="rotate(9.5 70.3 36.2)" filter="url(#bl2)" opacity="0.9"/>
<rect x="61" y="30.9" width="18.6" height="10.6" fill="#1c9cff" transform="rotate(9.5 70.3 36.2)" filter="url(#bl0_5)"/>
<rect x="62.65" y="32.55" width="15.3" height="7.3" fill="#0f84f8" transform="rotate(9.5 70.3 36.2)" filter="url(#bl0_8)"/>
<polyline points="73.5,14.6 82,15.6" fill="none" stroke="#b0f0ff" stroke-width="1.6" stroke-linecap="round" filter="url(#bl0_5)"/>
<polyline points="76.5,4.2 83.5,5.2" fill="none" stroke="#7098e0" stroke-width="1" stroke-linecap="round" filter="url(#bl0_5)" opacity="0.8"/>
<circle cx="14" cy="24.5" r="1" fill="#303858" filter="url(#bl0_5)"/>
</g>
<clipPath id="cif"><rect x="0" y="0" width="72.9" height="60.8"/></clipPath>
<g transform="translate(596 727.7)" clip-path="url(#cif)">
<rect x="-1" y="-1" width="74.9" height="62.8" fill="#02021a"/>
<polygon points="17.9,20.2 8.3,39.9 20,50 28.6,53 27,40" fill="#0c20c0" filter="url(#bl2)" opacity="0.95" />
<polygon points="20,36 27,42 28,52 20,48" fill="#1038e8" filter="url(#bl1_2)" opacity="0.9" />
<polygon points="34.5,16.7 48.8,11.3 58.9,38.7 45.2,45.8 38.1,39.9" fill="#0c22c8" filter="url(#bl2)" opacity="0.95" />
<circle cx="18.5" cy="31.5" r="2.3" fill="#1848ff" filter="url(#bl0_8)"/>
<circle cx="18.5" cy="31.5" r="1.5" fill="#c0c8ff" filter="url(#bl0_5)"/>
<circle cx="8.9" cy="39.9" r="1.8" fill="#1848ff" filter="url(#bl0_8)"/>
<circle cx="8.9" cy="39.9" r="1" fill="#8090e8" filter="url(#bl0_5)"/>
<circle cx="11.5" cy="35.5" r="1.6" fill="#1848ff" filter="url(#bl0_8)"/>
<circle cx="11.5" cy="35.5" r="0.8" fill="#6078e0" filter="url(#bl0_5)"/>
<circle cx="17.5" cy="22.5" r="1.7" fill="#1848ff" filter="url(#bl0_8)"/>
<circle cx="17.5" cy="22.5" r="0.9" fill="#5068d0" filter="url(#bl0_5)"/>
<circle cx="25" cy="50.5" r="2" fill="#1848ff" filter="url(#bl0_8)"/>
<circle cx="25" cy="50.5" r="1.2" fill="#2060ff" filter="url(#bl0_5)"/>
<circle cx="22" cy="40" r="2.4" fill="#1848ff" filter="url(#bl0_8)"/>
<circle cx="22" cy="40" r="1.6" fill="#1858ff" filter="url(#bl0_5)"/>
<circle cx="35.7" cy="17.3" r="2.7" fill="#1450ff" filter="url(#bl0_8)"/>
<circle cx="35.7" cy="17.3" r="1.5" fill="#20b8ff" filter="url(#bl0_5)"/>
<circle cx="39.9" cy="19" r="2.8" fill="#1450ff" filter="url(#bl0_8)"/>
<circle cx="39.9" cy="19" r="1.6" fill="#20b8ff" filter="url(#bl0_5)"/>
<circle cx="44" cy="19" r="2.7" fill="#1450ff" filter="url(#bl0_8)"/>
<circle cx="44" cy="19" r="1.5" fill="#20b8ff" filter="url(#bl0_5)"/>
<circle cx="48.2" cy="13.7" r="2.7" fill="#1450ff" filter="url(#bl0_8)"/>
<circle cx="48.2" cy="13.7" r="1.5" fill="#20b8ff" filter="url(#bl0_5)"/>
<circle cx="41" cy="23.8" r="2.5" fill="#1450ff" filter="url(#bl0_8)"/>
<circle cx="41" cy="23.8" r="1.3" fill="#20b8ff" filter="url(#bl0_5)"/>
<circle cx="39.3" cy="31.5" r="4.2" fill="#1450ff" filter="url(#bl0_8)"/>
<circle cx="39.3" cy="31.5" r="3" fill="#20b8ff" filter="url(#bl0_5)"/>
<circle cx="40.5" cy="37" r="3.4" fill="#1450ff" filter="url(#bl0_8)"/>
<circle cx="40.5" cy="37" r="2.2" fill="#20b8ff" filter="url(#bl0_5)"/>
<circle cx="44.6" cy="42.9" r="3.7" fill="#1450ff" filter="url(#bl0_8)"/>
<circle cx="44.6" cy="42.9" r="2.5" fill="#20b8ff" filter="url(#bl0_5)"/>
<circle cx="49.4" cy="28" r="3.2" fill="#1450ff" filter="url(#bl0_8)"/>
<circle cx="49.4" cy="28" r="2" fill="#20b8ff" filter="url(#bl0_5)"/>
<circle cx="54.8" cy="37.5" r="3.4" fill="#1450ff" filter="url(#bl0_8)"/>
<circle cx="54.8" cy="37.5" r="2.2" fill="#20b8ff" filter="url(#bl0_5)"/>
<circle cx="48.8" cy="36.9" r="2.6" fill="#1450ff" filter="url(#bl0_8)"/>
<circle cx="48.8" cy="36.9" r="1.4" fill="#20b8ff" filter="url(#bl0_5)"/>
<circle cx="46.4" cy="30.4" r="2.5" fill="#1450ff" filter="url(#bl0_8)"/>
<circle cx="46.4" cy="30.4" r="1.3" fill="#20b8ff" filter="url(#bl0_5)"/>
</g>
<clipPath id="cig"><rect x="0" y="0" width="62.9" height="80.8"/></clipPath>
<g transform="translate(400.1 1024.1)" clip-path="url(#cig)">
<rect x="-1" y="-1" width="64.9" height="82.8" fill="#020224"/>
<polyline points="0,1 11,1.2" fill="none" stroke="#1858e8" stroke-width="2.2" stroke-linecap="round" filter="url(#bl0_8)"/>
<rect x="0.25" y="8.25" width="34.5" height="24.5" fill="#0c2ccc" transform="rotate(0 17.5 20.5)" filter="url(#bl1_2)"/>
<rect x="1" y="9.25" width="33" height="22.5" fill="#0c24a8" transform="rotate(0 17.5 20.5)" filter="url(#bl0_5)"/>
<rect x="1.1" y="11.5" width="13.2" height="20.8" fill="#46c8ff" transform="rotate(-3 7.7 21.9)" filter="url(#bl0_8)"/>
<rect x="2.3" y="12.6" width="11.2" height="18.6" fill="#f4ffff" transform="rotate(-3 7.9 21.9)" filter="url(#bl0_5)"/>
<rect x="20.7" y="9.3" width="13.2" height="20.8" fill="#30b8ff" transform="rotate(-3 27.3 19.7)" filter="url(#bl0_5)"/>
<g transform="rotate(-4.5 31 62)">
<rect x="2.5" y="50" width="56" height="25" fill="#0a20a8" transform="rotate(0 30.5 62.5)" filter="url(#bl1_2)"/>
<rect x="17.5" y="51.75" width="8" height="21.5" fill="#1230c0" transform="rotate(0 21.5 62.5)" filter="url(#bl0_5)"/>
<rect x="37.75" y="51.75" width="6.5" height="21.5" fill="#061258" transform="rotate(0 41 62.5)" filter="url(#bl0_5)"/>
<rect x="5" y="52.3" width="13.6" height="20.6" fill="#2cb4ff" transform="rotate(0 11.8 62.6)" filter="url(#bl0_5)"/>
<rect x="24.6" y="52.3" width="13.2" height="20.6" fill="#34bcff" transform="rotate(0 31.2 62.6)" filter="url(#bl0_5)"/>
<rect x="43.7" y="52.3" width="13.2" height="20.6" fill="#2cb4ff" transform="rotate(0 50.3 62.6)" filter="url(#bl0_5)"/>
</g>
<circle cx="26.59" cy="23.97" r="0.6" fill="#a8f0ff" filter="url(#bl0_5)" opacity="0.8"/>
<circle cx="32.99" cy="15.25" r="0.96" fill="#1484f0" filter="url(#bl0_5)" opacity="0.8"/>
<circle cx="26.36" cy="20.7" r="0.98" fill="#ecffff" filter="url(#bl0_5)" opacity="0.8"/>
<circle cx="27.77" cy="18.98" r="0.81" fill="#ecffff" filter="url(#bl0_5)" opacity="0.8"/>
<circle cx="32.05" cy="19.23" r="0.99" fill="#c8f8ff" filter="url(#bl0_5)" opacity="0.8"/>
<circle cx="30.56" cy="23.89" r="1.32" fill="#90e6ff" filter="url(#bl0_5)" opacity="0.8"/>
<circle cx="31.64" cy="27.1" r="0.68" fill="#a8f0ff" filter="url(#bl0_5)" opacity="0.8"/>
<circle cx="23.87" cy="26.81" r="0.69" fill="#a8f0ff" filter="url(#bl0_5)" opacity="0.8"/>
<circle cx="29.39" cy="18.41" r="0.78" fill="#c8f8ff" filter="url(#bl0_5)" opacity="0.8"/>
<circle cx="25.47" cy="23.36" r="1.35" fill="#a8f0ff" filter="url(#bl0_5)" opacity="0.8"/>
<circle cx="30.25" cy="28.8" r="1.27" fill="#ecffff" filter="url(#bl0_5)" opacity="0.8"/>
<circle cx="30.68" cy="12.86" r="1" fill="#90e6ff" filter="url(#bl0_5)" opacity="0.8"/>
<circle cx="23.06" cy="27.26" r="0.71" fill="#a8f0ff" filter="url(#bl0_5)" opacity="0.8"/>
<circle cx="22.21" cy="23.22" r="0.79" fill="#ecffff" filter="url(#bl0_5)" opacity="0.8"/>
<circle cx="25.29" cy="21.52" r="1.11" fill="#a8f0ff" filter="url(#bl0_5)" opacity="0.8"/>
<circle cx="32.52" cy="15.7" r="0.81" fill="#90e6ff" filter="url(#bl0_5)" opacity="0.8"/>
<circle cx="29.64" cy="18.46" r="0.64" fill="#1484f0" filter="url(#bl0_5)" opacity="0.8"/>
<circle cx="23.54" cy="25.26" r="0.63" fill="#a8f0ff" filter="url(#bl0_5)" opacity="0.8"/>
<circle cx="31.94" cy="13.47" r="0.73" fill="#1484f0" filter="url(#bl0_5)" opacity="0.8"/>
<circle cx="26.15" cy="20.69" r="1.19" fill="#90e6ff" filter="url(#bl0_5)" opacity="0.8"/>
<circle cx="25.83" cy="24.51" r="1.25" fill="#1484f0" filter="url(#bl0_5)" opacity="0.8"/>
<circle cx="28.86" cy="24.52" r="0.91" fill="#1484f0" filter="url(#bl0_5)" opacity="0.8"/>
<circle cx="25.92" cy="24.55" r="1.39" fill="#c8f8ff" filter="url(#bl0_5)" opacity="0.8"/>
<circle cx="29.3" cy="22.19" r="0.7" fill="#ecffff" filter="url(#bl0_5)" opacity="0.8"/>
<circle cx="26.95" cy="21.41" r="0.97" fill="#ecffff" filter="url(#bl0_5)" opacity="0.8"/>
<circle cx="31.94" cy="21.33" r="0.6" fill="#90e6ff" filter="url(#bl0_5)" opacity="0.8"/>
<circle cx="23.68" cy="21.42" r="0.61" fill="#90e6ff" filter="url(#bl0_5)" opacity="0.8"/>
<circle cx="27.18" cy="24.76" r="1.02" fill="#c8f8ff" filter="url(#bl0_5)" opacity="0.8"/>
<circle cx="29.6" cy="28.95" r="0.76" fill="#90e6ff" filter="url(#bl0_5)" opacity="0.8"/>
<circle cx="30.17" cy="14.46" r="1.02" fill="#c8f8ff" filter="url(#bl0_5)" opacity="0.8"/>
<circle cx="30.29" cy="27.61" r="1.24" fill="#1484f0" filter="url(#bl0_5)" opacity="0.8"/>
<circle cx="22.29" cy="11.51" r="0.82" fill="#90e6ff" filter="url(#bl0_5)" opacity="0.8"/>
<circle cx="25.18" cy="15.17" r="1.47" fill="#c8f8ff" filter="url(#bl0_5)" opacity="0.8"/>
<circle cx="24.57" cy="12.65" r="1.11" fill="#c8f8ff" filter="url(#bl0_5)" opacity="0.8"/>
<circle cx="22.21" cy="25.41" r="0.81" fill="#90e6ff" filter="url(#bl0_5)" opacity="0.8"/>
<circle cx="28.74" cy="18.68" r="1.28" fill="#1484f0" filter="url(#bl0_5)" opacity="0.8"/>
<circle cx="26.71" cy="17.51" r="0.74" fill="#c8f8ff" filter="url(#bl0_5)" opacity="0.8"/>
<circle cx="22.49" cy="12.93" r="0.8" fill="#ecffff" filter="url(#bl0_5)" opacity="0.8"/>
<circle cx="22.4" cy="22.78" r="0.72" fill="#90e6ff" filter="url(#bl0_5)" opacity="0.8"/>
<circle cx="32.64" cy="21.23" r="0.78" fill="#a8f0ff" filter="url(#bl0_5)" opacity="0.8"/>
<circle cx="11.01" cy="55.47" r="1.09" fill="#ecffff" filter="url(#bl0_5)" opacity="0.8"/>
<circle cx="11.57" cy="60.77" r="0.74" fill="#a8f0ff" filter="url(#bl0_5)" opacity="0.8"/>
<circle cx="13.12" cy="60.39" r="0.84" fill="#1484f0" filter="url(#bl0_5)" opacity="0.8"/>
<circle cx="15.41" cy="67.29" r="1.05" fill="#ecffff" filter="url(#bl0_5)" opacity="0.8"/>
<circle cx="8.12" cy="69.14" r="1.37" fill="#ecffff" filter="url(#bl0_5)" opacity="0.8"/>
<circle cx="10.68" cy="58.19" r="1.47" fill="#a8f0ff" filter="url(#bl0_5)" opacity="0.8"/>
<circle cx="7.34" cy="58.27" r="1.04" fill="#1484f0" filter="url(#bl0_5)" opacity="0.8"/>
<circle cx="8.6" cy="56.93" r="0.8" fill="#c8f8ff" filter="url(#bl0_5)" opacity="0.8"/>
<circle cx="8.32" cy="66.53" r="1.03" fill="#c8f8ff" filter="url(#bl0_5)" opacity="0.8"/>
<circle cx="13.63" cy="66.03" r="1.49" fill="#90e6ff" filter="url(#bl0_5)" opacity="0.8"/>
<circle cx="7.87" cy="67.61" r="1.47" fill="#a8f0ff" filter="url(#bl0_5)" opacity="0.8"/>
<circle cx="8.5" cy="72.88" r="0.88" fill="#1484f0" filter="url(#bl0_5)" opacity="0.8"/>
<circle cx="10.92" cy="62.86" r="1.3" fill="#a8f0ff" filter="url(#bl0_5)" opacity="0.8"/>
<circle cx="6.94" cy="61.59" r="1.37" fill="#90e6ff" filter="url(#bl0_5)" opacity="0.8"/>
<circle cx="14.59" cy="62.77" r="1.4" fill="#a8f0ff" filter="url(#bl0_5)" opacity="0.8"/>
<circle cx="15.2" cy="65.83" r="1.29" fill="#a8f0ff" filter="url(#bl0_5)" opacity="0.8"/>
<circle cx="17.04" cy="62.67" r="0.89" fill="#a8f0ff" filter="url(#bl0_5)" opacity="0.8"/>
<circle cx="6.53" cy="72.7" r="1" fill="#a8f0ff" filter="url(#bl0_5)" opacity="0.8"/>
<circle cx="16.17" cy="64.97" r="1.12" fill="#a8f0ff" filter="url(#bl0_5)" opacity="0.8"/>
<circle cx="15.57" cy="68.26" r="0.94" fill="#90e6ff" filter="url(#bl0_5)" opacity="0.8"/>
<circle cx="10.09" cy="58.83" r="0.93" fill="#c8f8ff" filter="url(#bl0_5)" opacity="0.8"/>
<circle cx="6.29" cy="66.92" r="0.95" fill="#ecffff" filter="url(#bl0_5)" opacity="0.8"/>
<circle cx="10.77" cy="61.32" r="1.1" fill="#a8f0ff" filter="url(#bl0_5)" opacity="0.8"/>
<circle cx="7.3" cy="60.64" r="0.64" fill="#a8f0ff" filter="url(#bl0_5)" opacity="0.8"/>
<circle cx="13.56" cy="58.86" r="0.98" fill="#c8f8ff" filter="url(#bl0_5)" opacity="0.8"/>
<circle cx="12.81" cy="69.15" r="1.08" fill="#ecffff" filter="url(#bl0_5)" opacity="0.8"/>
<circle cx="12.61" cy="63.58" r="0.98" fill="#90e6ff" filter="url(#bl0_5)" opacity="0.8"/>
<circle cx="15.18" cy="64.78" r="0.8" fill="#90e6ff" filter="url(#bl0_5)" opacity="0.8"/>
<circle cx="15.28" cy="69.37" r="1.1" fill="#90e6ff" filter="url(#bl0_5)" opacity="0.8"/>
<circle cx="16.51" cy="62.56" r="1.09" fill="#ecffff" filter="url(#bl0_5)" opacity="0.8"/>
<circle cx="15.5" cy="66.22" r="0.76" fill="#90e6ff" filter="url(#bl0_5)" opacity="0.8"/>
<circle cx="11.63" cy="64.86" r="1.23" fill="#ecffff" filter="url(#bl0_5)" opacity="0.8"/>
<circle cx="16.77" cy="63.35" r="1.37" fill="#1484f0" filter="url(#bl0_5)" opacity="0.8"/>
<circle cx="6.12" cy="66.33" r="0.87" fill="#90e6ff" filter="url(#bl0_5)" opacity="0.8"/>
<circle cx="16.12" cy="69.13" r="1.08" fill="#ecffff" filter="url(#bl0_5)" opacity="0.8"/>
<circle cx="16" cy="59.96" r="0.73" fill="#1484f0" filter="url(#bl0_5)" opacity="0.8"/>
<circle cx="8.67" cy="66.58" r="0.75" fill="#ecffff" filter="url(#bl0_5)" opacity="0.8"/>
<circle cx="15.62" cy="67.97" r="0.65" fill="#ecffff" filter="url(#bl0_5)" opacity="0.8"/>
<circle cx="6.36" cy="59.13" r="1.23" fill="#90e6ff" filter="url(#bl0_5)" opacity="0.8"/>
<circle cx="6.19" cy="71.83" r="0.95" fill="#1484f0" filter="url(#bl0_5)" opacity="0.8"/>
<circle cx="31.83" cy="66.45" r="0.86" fill="#c8f8ff" filter="url(#bl0_5)" opacity="0.8"/>
<circle cx="32.05" cy="61.3" r="0.62" fill="#90e6ff" filter="url(#bl0_5)" opacity="0.8"/>
<circle cx="27.88" cy="53.98" r="1" fill="#1484f0" filter="url(#bl0_5)" opacity="0.8"/>
<circle cx="27.17" cy="61.61" r="0.79" fill="#ecffff" filter="url(#bl0_5)" opacity="0.8"/>
<circle cx="33.28" cy="64.23" r="0.62" fill="#a8f0ff" filter="url(#bl0_5)" opacity="0.8"/>
<circle cx="36.7" cy="60.64" r="1.1" fill="#ecffff" filter="url(#bl0_5)" opacity="0.8"/>
<circle cx="33.47" cy="61.37" r="0.74" fill="#90e6ff" filter="url(#bl0_5)" opacity="0.8"/>
<circle cx="34.21" cy="68.53" r="0.83" fill="#90e6ff" filter="url(#bl0_5)" opacity="0.8"/>
<circle cx="29.96" cy="70.79" r="1.48" fill="#c8f8ff" filter="url(#bl0_5)" opacity="0.8"/>
<circle cx="35.88" cy="69.07" r="0.94" fill="#c8f8ff" filter="url(#bl0_5)" opacity="0.8"/>
<circle cx="30.26" cy="67.96" r="1.24" fill="#90e6ff" filter="url(#bl0_5)" opacity="0.8"/>
<circle cx="28.09" cy="60.72" r="1.02" fill="#1484f0" filter="url(#bl0_5)" opacity="0.8"/>
<circle cx="32.51" cy="56.86" r="1.19" fill="#c8f8ff" filter="url(#bl0_5)" opacity="0.8"/>
<circle cx="32.24" cy="58.39" r="0.85" fill="#c8f8ff" filter="url(#bl0_5)" opacity="0.8"/>
<circle cx="26.23" cy="68.98" r="1.22" fill="#ecffff" filter="url(#bl0_5)" opacity="0.8"/>
<circle cx="29.67" cy="66.45" r="1.27" fill="#a8f0ff" filter="url(#bl0_5)" opacity="0.8"/>
<circle cx="34.8" cy="59.01" r="1.36" fill="#90e6ff" filter="url(#bl0_5)" opacity="0.8"/>
<circle cx="31.71" cy="68.7" r="1.07" fill="#90e6ff" filter="url(#bl0_5)" opacity="0.8"/>
<circle cx="26.21" cy="57.61" r="1.47" fill="#a8f0ff" filter="url(#bl0_5)" opacity="0.8"/>
<circle cx="25.74" cy="62.17" r="0.62" fill="#1484f0" filter="url(#bl0_5)" opacity="0.8"/>
<circle cx="30.96" cy="64.34" r="0.66" fill="#ecffff" filter="url(#bl0_5)" opacity="0.8"/>
<circle cx="27.79" cy="55.89" r="0.69" fill="#ecffff" filter="url(#bl0_5)" opacity="0.8"/>
<circle cx="34.15" cy="55.21" r="0.68" fill="#90e6ff" filter="url(#bl0_5)" opacity="0.8"/>
<circle cx="33.34" cy="63.28" r="1.24" fill="#a8f0ff" filter="url(#bl0_5)" opacity="0.8"/>
<circle cx="30.38" cy="68.58" r="1.11" fill="#a8f0ff" filter="url(#bl0_5)" opacity="0.8"/>
<circle cx="34.71" cy="59.65" r="1.3" fill="#a8f0ff" filter="url(#bl0_5)" opacity="0.8"/>
<circle cx="36.01" cy="65.04" r="0.93" fill="#1484f0" filter="url(#bl0_5)" opacity="0.8"/>
<circle cx="31.77" cy="68.73" r="0.81" fill="#c8f8ff" filter="url(#bl0_5)" opacity="0.8"/>
<circle cx="34.53" cy="71.47" r="1.37" fill="#ecffff" filter="url(#bl0_5)" opacity="0.8"/>
<circle cx="26.53" cy="62.29" r="1.44" fill="#1484f0" filter="url(#bl0_5)" opacity="0.8"/>
<circle cx="28.59" cy="69.85" r="1.05" fill="#1484f0" filter="url(#bl0_5)" opacity="0.8"/>
<circle cx="29.44" cy="64.58" r="0.71" fill="#a8f0ff" filter="url(#bl0_5)" opacity="0.8"/>
<circle cx="37" cy="58.09" r="0.83" fill="#1484f0" filter="url(#bl0_5)" opacity="0.8"/>
<circle cx="33.9" cy="65.37" r="1.03" fill="#90e6ff" filter="url(#bl0_5)" opacity="0.8"/>
<circle cx="36.5" cy="61.27" r="0.66" fill="#1484f0" filter="url(#bl0_5)" opacity="0.8"/>
<circle cx="26.99" cy="69.34" r="0.8" fill="#1484f0" filter="url(#bl0_5)" opacity="0.8"/>
<circle cx="35.13" cy="56.23" r="0.83" fill="#a8f0ff" filter="url(#bl0_5)" opacity="0.8"/>
<circle cx="30.91" cy="66.44" r="0.91" fill="#a8f0ff" filter="url(#bl0_5)" opacity="0.8"/>
<circle cx="35.44" cy="58.53" r="1.27" fill="#c8f8ff" filter="url(#bl0_5)" opacity="0.8"/>
<circle cx="33.49" cy="68.99" r="1.25" fill="#ecffff" filter="url(#bl0_5)" opacity="0.8"/>
<circle cx="55.62" cy="61.4" r="1.48" fill="#c8f8ff" filter="url(#bl0_5)" opacity="0.8"/>
<circle cx="52.52" cy="55.11" r="1.48" fill="#90e6ff" filter="url(#bl0_5)" opacity="0.8"/>
<circle cx="49.5" cy="65.81" r="0.78" fill="#ecffff" filter="url(#bl0_5)" opacity="0.8"/>
<circle cx="48.66" cy="62.48" r="0.95" fill="#90e6ff" filter="url(#bl0_5)" opacity="0.8"/>
<circle cx="44.6" cy="58.34" r="0.64" fill="#c8f8ff" filter="url(#bl0_5)" opacity="0.8"/>
<circle cx="44.72" cy="51.76" r="1.45" fill="#a8f0ff" filter="url(#bl0_5)" opacity="0.8"/>
<circle cx="46.49" cy="52.42" r="1.14" fill="#1484f0" filter="url(#bl0_5)" opacity="0.8"/>
<circle cx="54.46" cy="67.03" r="1.43" fill="#90e6ff" filter="url(#bl0_5)" opacity="0.8"/>
<circle cx="55.28" cy="60.91" r="0.7" fill="#90e6ff" filter="url(#bl0_5)" opacity="0.8"/>
<circle cx="47.13" cy="55.01" r="0.76" fill="#a8f0ff" filter="url(#bl0_5)" opacity="0.8"/>
<circle cx="47.27" cy="58.13" r="1.17" fill="#ecffff" filter="url(#bl0_5)" opacity="0.8"/>
<circle cx="51.14" cy="57.68" r="1.02" fill="#c8f8ff" filter="url(#bl0_5)" opacity="0.8"/>
<circle cx="47.42" cy="61.54" r="1.16" fill="#a8f0ff" filter="url(#bl0_5)" opacity="0.8"/>
<circle cx="55.19" cy="55.49" r="1.33" fill="#ecffff" filter="url(#bl0_5)" opacity="0.8"/>
<circle cx="50.22" cy="54.47" r="1.43" fill="#a8f0ff" filter="url(#bl0_5)" opacity="0.8"/>
<circle cx="54.05" cy="58.92" r="1.41" fill="#90e6ff" filter="url(#bl0_5)" opacity="0.8"/>
<circle cx="54.9" cy="58.15" r="1.36" fill="#a8f0ff" filter="url(#bl0_5)" opacity="0.8"/>
<circle cx="54.4" cy="62.32" r="0.68" fill="#c8f8ff" filter="url(#bl0_5)" opacity="0.8"/>
<circle cx="45.01" cy="52.81" r="0.8" fill="#ecffff" filter="url(#bl0_5)" opacity="0.8"/>
<circle cx="50.42" cy="62.47" r="0.66" fill="#c8f8ff" filter="url(#bl0_5)" opacity="0.8"/>
<circle cx="51.57" cy="57.91" r="1.29" fill="#c8f8ff" filter="url(#bl0_5)" opacity="0.8"/>
<circle cx="52.37" cy="60.78" r="1.11" fill="#90e6ff" filter="url(#bl0_5)" opacity="0.8"/>
<circle cx="54.06" cy="65.95" r="1.22" fill="#1484f0" filter="url(#bl0_5)" opacity="0.8"/>
<circle cx="55.16" cy="63.67" r="0.73" fill="#ecffff" filter="url(#bl0_5)" opacity="0.8"/>
<circle cx="55.17" cy="54.37" r="0.74" fill="#90e6ff" filter="url(#bl0_5)" opacity="0.8"/>
<circle cx="49.94" cy="58.46" r="1.16" fill="#ecffff" filter="url(#bl0_5)" opacity="0.8"/>
<circle cx="48.77" cy="53.6" r="0.7" fill="#a8f0ff" filter="url(#bl0_5)" opacity="0.8"/>
<circle cx="54.88" cy="69.61" r="1.16" fill="#90e6ff" filter="url(#bl0_5)" opacity="0.8"/>
<circle cx="50.28" cy="65.2" r="1.04" fill="#ecffff" filter="url(#bl0_5)" opacity="0.8"/>
<circle cx="49.82" cy="53.76" r="0.88" fill="#1484f0" filter="url(#bl0_5)" opacity="0.8"/>
<circle cx="53.64" cy="58.76" r="1.45" fill="#c8f8ff" filter="url(#bl0_5)" opacity="0.8"/>
<circle cx="45.54" cy="54.71" r="1.11" fill="#a8f0ff" filter="url(#bl0_5)" opacity="0.8"/>
<circle cx="47.14" cy="51.7" r="0.68" fill="#a8f0ff" filter="url(#bl0_5)" opacity="0.8"/>
<circle cx="44.68" cy="61.32" r="0.63" fill="#90e6ff" filter="url(#bl0_5)" opacity="0.8"/>
<circle cx="50.65" cy="63.66" r="1" fill="#a8f0ff" filter="url(#bl0_5)" opacity="0.8"/>
<circle cx="52.88" cy="51.12" r="0.69" fill="#ecffff" filter="url(#bl0_5)" opacity="0.8"/>
<circle cx="47.81" cy="58.74" r="1.3" fill="#ecffff" filter="url(#bl0_5)" opacity="0.8"/>
<circle cx="55.15" cy="64.69" r="1.1" fill="#1484f0" filter="url(#bl0_5)" opacity="0.8"/>
<circle cx="46.1" cy="64.86" r="1.11" fill="#ecffff" filter="url(#bl0_5)" opacity="0.8"/>
<circle cx="45.35" cy="53.56" r="1.27" fill="#c8f8ff" filter="url(#bl0_5)" opacity="0.8"/>
<circle cx="2.4" cy="56" r="0.8" fill="#2050e0"/>
</g>
</svg></body></html>
